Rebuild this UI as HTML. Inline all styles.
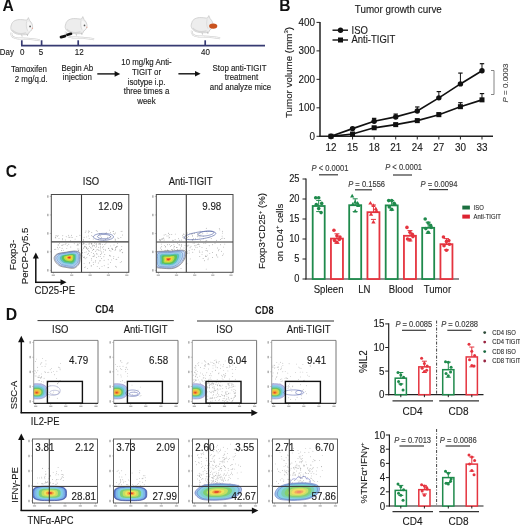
<!DOCTYPE html>
<html><head><meta charset="utf-8"><style>
html,body{margin:0;padding:0;background:#fff;}
svg{display:block;will-change:transform;}
text{font-family:"Liberation Sans", sans-serif;stroke:currentColor;}
</style></head><body>
<svg width="520" height="525" viewBox="0 0 520 525">
<rect width="520" height="525" fill="#fff"/>
<text x="0" y="0" font-size="15.6" text-anchor="start" fill="#111" color="#111" stroke-width="0" font-weight="bold" transform="translate(2.6 10.8) scale(1 1.0)">A</text>
<line x1="21.0" y1="45.6" x2="265" y2="45.6" stroke="#363a72" stroke-width="1.9" />
<line x1="21.8" y1="40.3" x2="21.8" y2="45.6" stroke="#363a72" stroke-width="1.7" />
<line x1="41.6" y1="40.3" x2="41.6" y2="45.6" stroke="#363a72" stroke-width="1.7" />
<line x1="78.2" y1="40.3" x2="78.2" y2="45.6" stroke="#363a72" stroke-width="1.7" />
<line x1="205.2" y1="40.3" x2="205.2" y2="45.6" stroke="#363a72" stroke-width="1.7" />
<text x="0" y="0" font-size="7.9" text-anchor="start" fill="#1a1a1a" color="#1a1a1a" stroke-width="0.12" transform="translate(-0.2 54.8) scale(1 1.12)">Day</text>
<text x="0" y="0" font-size="8.0" text-anchor="middle" fill="#1a1a1a" color="#1a1a1a" stroke-width="0.12" transform="translate(22.2 54.8) scale(1 1.12)">0</text>
<text x="0" y="0" font-size="8.0" text-anchor="middle" fill="#1a1a1a" color="#1a1a1a" stroke-width="0.12" transform="translate(41.0 54.8) scale(1 1.12)">5</text>
<text x="0" y="0" font-size="8.0" text-anchor="middle" fill="#1a1a1a" color="#1a1a1a" stroke-width="0.12" transform="translate(79.2 54.8) scale(1 1.12)">12</text>
<text x="0" y="0" font-size="8.0" text-anchor="middle" fill="#1a1a1a" color="#1a1a1a" stroke-width="0.12" transform="translate(205.4 54.8) scale(1 1.12)">40</text>
<g transform="translate(10.2 17.8) scale(1.0)">
<path d="M1.2 15 C 0.5 18.5, 3 20.3, 8 20.6 C 16 21, 24 21.2, 29.5 22.4" fill="none" stroke="#cdcdcd" stroke-width="2.0" />
<path d="M1.2 15 C 0.5 18.5, 3 20.3, 8 20.6 C 16 21, 24 21.2, 29.5 22.4" fill="none" stroke="#f9f9f9" stroke-width="0.9" />
<path d="M1.2 7 C 2 3.2, 6 1.6, 10.5 1.8 C 13.5 1.9, 15.5 2.4, 17 2.2 L 18.2 -0.2 L 19.6 3.0 C 21.4 4.6, 22.6 7.2, 22.4 9.4 C 22.2 11.5, 20.8 13.4, 19.2 14.2 L 18 16.6 C 14.5 17.2, 10 17.0, 7 16.3 C 3 15.3, 0.4 12.6, 0.6 9.8 C 0.7 8.6, 0.9 7.8, 1.2 7 Z" fill="#ededed" stroke="#c6c6c6" stroke-width="0.7" />
<path d="M2 12 C 5 15.5, 11 16.2, 16 15" fill="none" stroke="#d6d6d6" stroke-width="1.2" />
<path d="M16.5 3.5 C 15.8 6.5, 15.8 10, 17.5 13" fill="none" stroke="#d0d0d0" stroke-width="0.6" />
<path d="M17.2 3.6 C 19.6 4.2, 21.8 6.5, 22.1 9.2 C 21.6 11.6, 20 13, 18.2 13.2 C 17 10, 16.8 6.5, 17.2 3.6 Z" fill="#f7f7f7" stroke="none" stroke-width="0" />
<circle cx="19.9" cy="8.6" r="0.85" fill="#555" />
<circle cx="22.2" cy="10.4" r="0.7" fill="#e3aa9c" />
<path d="M16.8 15.8 l0.6 2.4 M11.5 16.8 l0.4 2.0" fill="none" stroke="#bdbdbd" stroke-width="0.8" />
</g>
<g transform="translate(64.6 16.8) scale(1.0)">
<path d="M1.2 15 C 0.5 18.5, 3 20.3, 8 20.6 C 16 21, 24 21.2, 29.5 22.4" fill="none" stroke="#cdcdcd" stroke-width="2.0" />
<path d="M1.2 15 C 0.5 18.5, 3 20.3, 8 20.6 C 16 21, 24 21.2, 29.5 22.4" fill="none" stroke="#f9f9f9" stroke-width="0.9" />
<path d="M1.2 7 C 2 3.2, 6 1.6, 10.5 1.8 C 13.5 1.9, 15.5 2.4, 17 2.2 L 18.2 -0.2 L 19.6 3.0 C 21.4 4.6, 22.6 7.2, 22.4 9.4 C 22.2 11.5, 20.8 13.4, 19.2 14.2 L 18 16.6 C 14.5 17.2, 10 17.0, 7 16.3 C 3 15.3, 0.4 12.6, 0.6 9.8 C 0.7 8.6, 0.9 7.8, 1.2 7 Z" fill="#ededed" stroke="#c6c6c6" stroke-width="0.7" />
<path d="M2 12 C 5 15.5, 11 16.2, 16 15" fill="none" stroke="#d6d6d6" stroke-width="1.2" />
<path d="M16.5 3.5 C 15.8 6.5, 15.8 10, 17.5 13" fill="none" stroke="#d0d0d0" stroke-width="0.6" />
<path d="M17.2 3.6 C 19.6 4.2, 21.8 6.5, 22.1 9.2 C 21.6 11.6, 20 13, 18.2 13.2 C 17 10, 16.8 6.5, 17.2 3.6 Z" fill="#f7f7f7" stroke="none" stroke-width="0" />
<circle cx="19.9" cy="8.6" r="0.85" fill="#555" />
<circle cx="22.2" cy="10.4" r="0.7" fill="#e3aa9c" />
<path d="M16.8 15.8 l0.6 2.4 M11.5 16.8 l0.4 2.0" fill="none" stroke="#bdbdbd" stroke-width="0.8" />
</g>
<g transform="translate(190.6 15.8) scale(1.0)">
<path d="M1.2 15 C 0.5 18.5, 3 20.3, 8 20.6 C 16 21, 24 21.2, 29.5 22.4" fill="none" stroke="#cdcdcd" stroke-width="2.0" />
<path d="M1.2 15 C 0.5 18.5, 3 20.3, 8 20.6 C 16 21, 24 21.2, 29.5 22.4" fill="none" stroke="#f9f9f9" stroke-width="0.9" />
<path d="M1.2 7 C 2 3.2, 6 1.6, 10.5 1.8 C 13.5 1.9, 15.5 2.4, 17 2.2 L 18.2 -0.2 L 19.6 3.0 C 21.4 4.6, 22.6 7.2, 22.4 9.4 C 22.2 11.5, 20.8 13.4, 19.2 14.2 L 18 16.6 C 14.5 17.2, 10 17.0, 7 16.3 C 3 15.3, 0.4 12.6, 0.6 9.8 C 0.7 8.6, 0.9 7.8, 1.2 7 Z" fill="#ededed" stroke="#c6c6c6" stroke-width="0.7" />
<path d="M2 12 C 5 15.5, 11 16.2, 16 15" fill="none" stroke="#d6d6d6" stroke-width="1.2" />
<path d="M16.5 3.5 C 15.8 6.5, 15.8 10, 17.5 13" fill="none" stroke="#d0d0d0" stroke-width="0.6" />
<path d="M16.8 15.8 l0.6 2.4 M11.5 16.8 l0.4 2.0" fill="none" stroke="#bdbdbd" stroke-width="0.8" />
<ellipse cx="22.6" cy="10.3" rx="4.1" ry="2.7" fill="#c9521e"/>
</g>
<g fill="#111"><rect x="59.6" y="35.1" width="6.8" height="3" rx="1.4" transform="rotate(-14 63 36.6)"/><rect x="66" y="32.9" width="6.4" height="2.7" rx="1.3" transform="rotate(-14 69.2 34.25)"/></g>
<text x="0" y="0" font-size="7.9" text-anchor="middle" fill="#1a1a1a" color="#1a1a1a" stroke-width="0.12" transform="translate(29 71.9) scale(1 1.12)">Tamoxifen</text>
<text x="0" y="0" font-size="7.9" text-anchor="middle" fill="#1a1a1a" color="#1a1a1a" stroke-width="0.12" transform="translate(31.2 81.5) scale(1 1.12)">2 mg/q.d.</text>
<text x="0" y="0" font-size="7.9" text-anchor="middle" fill="#1a1a1a" color="#1a1a1a" stroke-width="0.12" transform="translate(77.3 70.6) scale(1 1.12)">Begin Ab</text>
<text x="0" y="0" font-size="7.9" text-anchor="middle" fill="#1a1a1a" color="#1a1a1a" stroke-width="0.12" transform="translate(77.3 80.0) scale(1 1.12)">injection</text>
<line x1="97.3" y1="73.9" x2="115.10000000000001" y2="73.9" stroke="#111" stroke-width="1.4" />
<path d="M120.2 73.9 L 114.60000000000001 71.10000000000001 L 114.60000000000001 76.7 Z" fill="#111" stroke="none" stroke-width="0" />
<line x1="178.4" y1="73.8" x2="195.5" y2="73.8" stroke="#111" stroke-width="1.4" />
<path d="M200.6 73.8 L 195.0 71.0 L 195.0 76.6 Z" fill="#111" stroke="none" stroke-width="0" />
<text x="0" y="0" font-size="7.9" text-anchor="middle" fill="#1a1a1a" color="#1a1a1a" stroke-width="0.12" transform="translate(146.5 64.9) scale(1 1.12)">10 mg/kg Anti-</text>
<text x="0" y="0" font-size="7.9" text-anchor="middle" fill="#1a1a1a" color="#1a1a1a" stroke-width="0.12" transform="translate(146.5 74.7) scale(1 1.12)">TIGIT or</text>
<text x="0" y="0" font-size="7.9" text-anchor="middle" fill="#1a1a1a" color="#1a1a1a" stroke-width="0.12" transform="translate(146.5 84.5) scale(1 1.12)">isotype i.p.</text>
<text x="0" y="0" font-size="7.9" text-anchor="middle" fill="#1a1a1a" color="#1a1a1a" stroke-width="0.12" transform="translate(146.5 94.3) scale(1 1.12)">three times a</text>
<text x="0" y="0" font-size="7.9" text-anchor="middle" fill="#1a1a1a" color="#1a1a1a" stroke-width="0.12" transform="translate(146.5 103.7) scale(1 1.12)">week</text>
<text x="0" y="0" font-size="7.9" text-anchor="middle" fill="#1a1a1a" color="#1a1a1a" stroke-width="0.12" transform="translate(239.5 70.9) scale(1 1.12)">Stop anti-TIGIT</text>
<text x="0" y="0" font-size="7.9" text-anchor="middle" fill="#1a1a1a" color="#1a1a1a" stroke-width="0.12" transform="translate(241.5 80.4) scale(1 1.12)">treatment</text>
<text x="0" y="0" font-size="7.9" text-anchor="middle" fill="#1a1a1a" color="#1a1a1a" stroke-width="0.12" transform="translate(240.5 89.7) scale(1 1.12)">and analyze mice</text>
<text x="0" y="0" font-size="15.6" text-anchor="start" fill="#111" color="#111" stroke-width="0" font-weight="bold" transform="translate(279.3 10.8) scale(1 1.0)">B</text>
<text x="0" y="0" font-size="9.85" text-anchor="middle" fill="#1a1a1a" color="#1a1a1a" stroke-width="0.12" transform="translate(398.3 12.7) scale(1 1.12)">Tumor growth curve</text>
<line x1="320" y1="22" x2="320" y2="137" stroke="#222" stroke-width="1.5" />
<line x1="319.3" y1="136.3" x2="493" y2="136.3" stroke="#222" stroke-width="1.6" />
<line x1="316.5" y1="136.3" x2="320" y2="136.3" stroke="#222" stroke-width="1" />
<text x="0" y="0" font-size="9.9" text-anchor="end" fill="#1a1a1a" color="#1a1a1a" stroke-width="0.12" transform="translate(315 139.8) scale(1 1.12)">0</text>
<line x1="316.5" y1="107.82500000000002" x2="320" y2="107.82500000000002" stroke="#222" stroke-width="1" />
<text x="0" y="0" font-size="9.9" text-anchor="end" fill="#1a1a1a" color="#1a1a1a" stroke-width="0.12" transform="translate(315 111.32500000000002) scale(1 1.12)">100</text>
<line x1="316.5" y1="79.35000000000001" x2="320" y2="79.35000000000001" stroke="#222" stroke-width="1" />
<text x="0" y="0" font-size="9.9" text-anchor="end" fill="#1a1a1a" color="#1a1a1a" stroke-width="0.12" transform="translate(315 82.85000000000001) scale(1 1.12)">200</text>
<line x1="316.5" y1="50.875000000000014" x2="320" y2="50.875000000000014" stroke="#222" stroke-width="1" />
<text x="0" y="0" font-size="9.9" text-anchor="end" fill="#1a1a1a" color="#1a1a1a" stroke-width="0.12" transform="translate(315 54.375000000000014) scale(1 1.12)">300</text>
<line x1="316.5" y1="22.400000000000006" x2="320" y2="22.400000000000006" stroke="#222" stroke-width="1" />
<text x="0" y="0" font-size="9.9" text-anchor="end" fill="#1a1a1a" color="#1a1a1a" stroke-width="0.12" transform="translate(315 25.900000000000006) scale(1 1.12)">400</text>
<line x1="331.0" y1="136.3" x2="331.0" y2="139.5" stroke="#222" stroke-width="1" />
<text x="0" y="0" font-size="9.9" text-anchor="middle" fill="#1a1a1a" color="#1a1a1a" stroke-width="0.12" transform="translate(331.0 151.4) scale(1 1.12)">12</text>
<line x1="352.57" y1="136.3" x2="352.57" y2="139.5" stroke="#222" stroke-width="1" />
<text x="0" y="0" font-size="9.9" text-anchor="middle" fill="#1a1a1a" color="#1a1a1a" stroke-width="0.12" transform="translate(352.57 151.4) scale(1 1.12)">15</text>
<line x1="374.14" y1="136.3" x2="374.14" y2="139.5" stroke="#222" stroke-width="1" />
<text x="0" y="0" font-size="9.9" text-anchor="middle" fill="#1a1a1a" color="#1a1a1a" stroke-width="0.12" transform="translate(374.14 151.4) scale(1 1.12)">18</text>
<line x1="395.71000000000004" y1="136.3" x2="395.71000000000004" y2="139.5" stroke="#222" stroke-width="1" />
<text x="0" y="0" font-size="9.9" text-anchor="middle" fill="#1a1a1a" color="#1a1a1a" stroke-width="0.12" transform="translate(395.71000000000004 151.4) scale(1 1.12)">21</text>
<line x1="417.28" y1="136.3" x2="417.28" y2="139.5" stroke="#222" stroke-width="1" />
<text x="0" y="0" font-size="9.9" text-anchor="middle" fill="#1a1a1a" color="#1a1a1a" stroke-width="0.12" transform="translate(417.28 151.4) scale(1 1.12)">24</text>
<line x1="438.85" y1="136.3" x2="438.85" y2="139.5" stroke="#222" stroke-width="1" />
<text x="0" y="0" font-size="9.9" text-anchor="middle" fill="#1a1a1a" color="#1a1a1a" stroke-width="0.12" transform="translate(438.85 151.4) scale(1 1.12)">27</text>
<line x1="460.42" y1="136.3" x2="460.42" y2="139.5" stroke="#222" stroke-width="1" />
<text x="0" y="0" font-size="9.9" text-anchor="middle" fill="#1a1a1a" color="#1a1a1a" stroke-width="0.12" transform="translate(460.42 151.4) scale(1 1.12)">30</text>
<line x1="481.99" y1="136.3" x2="481.99" y2="139.5" stroke="#222" stroke-width="1" />
<text x="0" y="0" font-size="9.9" text-anchor="middle" fill="#1a1a1a" color="#1a1a1a" stroke-width="0.12" transform="translate(481.99 151.4) scale(1 1.12)">33</text>
<text x="291.8" y="72.5" font-size="9.8" text-anchor="middle" fill="#1a1a1a" color="#1a1a1a" stroke-width="0.12" transform="rotate(-90 291.8 72.5)">Tumor volume (mm<tspan font-size="6" dy="-3.5">3</tspan><tspan dy="3.5">)</tspan></text>
<polyline points="331.0,136.3 352.6,134.0 374.1,127.8 395.7,124.6 417.3,120.6 438.9,114.7 460.4,106.7 482.0,99.9" fill="none" stroke="#111" stroke-width="1.7"/>
<rect x="328.5" y="133.8" width="5" height="5" stroke="none" stroke-width="0" fill="#111" />
<line x1="352.57" y1="134.02200000000002" x2="352.57" y2="133.16775" stroke="#111" stroke-width="1" />
<line x1="350.37" y1="133.16775" x2="354.77" y2="133.16775" stroke="#111" stroke-width="1.2" />
<rect x="350.07" y="131.52200000000002" width="5" height="5" stroke="none" stroke-width="0" fill="#111" />
<line x1="374.14" y1="127.75750000000001" x2="374.14" y2="126.61850000000001" stroke="#111" stroke-width="1" />
<line x1="371.94" y1="126.61850000000001" x2="376.34" y2="126.61850000000001" stroke="#111" stroke-width="1.2" />
<rect x="371.64" y="125.25750000000001" width="5" height="5" stroke="none" stroke-width="0" fill="#111" />
<line x1="395.71000000000004" y1="124.62525000000001" x2="395.71000000000004" y2="123.48625000000001" stroke="#111" stroke-width="1" />
<line x1="393.51000000000005" y1="123.48625000000001" x2="397.91" y2="123.48625000000001" stroke="#111" stroke-width="1.2" />
<rect x="393.21000000000004" y="122.12525000000001" width="5" height="5" stroke="none" stroke-width="0" fill="#111" />
<line x1="417.28" y1="120.63875000000002" x2="417.28" y2="119.215" stroke="#111" stroke-width="1" />
<line x1="415.08" y1="119.215" x2="419.47999999999996" y2="119.215" stroke="#111" stroke-width="1.2" />
<rect x="414.78" y="118.13875000000002" width="5" height="5" stroke="none" stroke-width="0" fill="#111" />
<line x1="438.85" y1="114.659" x2="438.85" y2="112.9505" stroke="#111" stroke-width="1" />
<line x1="436.65000000000003" y1="112.9505" x2="441.05" y2="112.9505" stroke="#111" stroke-width="1.2" />
<rect x="436.35" y="112.159" width="5" height="5" stroke="none" stroke-width="0" fill="#111" />
<line x1="460.42" y1="106.686" x2="460.42" y2="102.6995" stroke="#111" stroke-width="1" />
<line x1="458.22" y1="102.6995" x2="462.62" y2="102.6995" stroke="#111" stroke-width="1.2" />
<rect x="457.92" y="104.186" width="5" height="5" stroke="none" stroke-width="0" fill="#111" />
<line x1="481.99" y1="99.852" x2="481.99" y2="93.5875" stroke="#111" stroke-width="1" />
<line x1="479.79" y1="93.5875" x2="484.19" y2="93.5875" stroke="#111" stroke-width="1.2" />
<rect x="479.49" y="97.352" width="5" height="5" stroke="none" stroke-width="0" fill="#111" />
<polyline points="331.0,136.3 352.6,128.6 374.1,121.2 395.7,116.9 417.3,111.0 438.9,97.9 460.4,83.9 482.0,70.8" fill="none" stroke="#111" stroke-width="1.7"/>
<circle cx="331.0" cy="136.3" r="2.7" fill="#111" />
<line x1="352.57" y1="128.61175" x2="352.57" y2="127.47275000000002" stroke="#111" stroke-width="1" />
<line x1="350.37" y1="127.47275000000002" x2="354.77" y2="127.47275000000002" stroke="#111" stroke-width="1.2" />
<circle cx="352.57" cy="128.61175" r="2.7" fill="#111" />
<line x1="374.14" y1="121.20825" x2="374.14" y2="118.36075000000001" stroke="#111" stroke-width="1" />
<line x1="371.94" y1="118.36075000000001" x2="376.34" y2="118.36075000000001" stroke="#111" stroke-width="1.2" />
<circle cx="374.14" cy="121.20825" r="2.7" fill="#111" />
<line x1="395.71000000000004" y1="116.93700000000001" x2="395.71000000000004" y2="114.08950000000002" stroke="#111" stroke-width="1" />
<line x1="393.51000000000005" y1="114.08950000000002" x2="397.91" y2="114.08950000000002" stroke="#111" stroke-width="1.2" />
<circle cx="395.71000000000004" cy="116.93700000000001" r="2.7" fill="#111" />
<line x1="417.28" y1="110.95725000000002" x2="417.28" y2="106.97075000000001" stroke="#111" stroke-width="1" />
<line x1="415.08" y1="106.97075000000001" x2="419.47999999999996" y2="106.97075000000001" stroke="#111" stroke-width="1.2" />
<circle cx="417.28" cy="110.95725000000002" r="2.7" fill="#111" />
<line x1="438.85" y1="97.85875000000001" x2="438.85" y2="91.59425000000002" stroke="#111" stroke-width="1" />
<line x1="436.65000000000003" y1="91.59425000000002" x2="441.05" y2="91.59425000000002" stroke="#111" stroke-width="1.2" />
<circle cx="438.85" cy="97.85875000000001" r="2.7" fill="#111" />
<line x1="460.42" y1="83.906" x2="460.42" y2="73.08550000000001" stroke="#111" stroke-width="1" />
<line x1="458.22" y1="73.08550000000001" x2="462.62" y2="73.08550000000001" stroke="#111" stroke-width="1.2" />
<circle cx="460.42" cy="83.906" r="2.7" fill="#111" />
<line x1="481.99" y1="70.8075" x2="481.99" y2="63.68875000000001" stroke="#111" stroke-width="1" />
<line x1="479.79" y1="63.68875000000001" x2="484.19" y2="63.68875000000001" stroke="#111" stroke-width="1.2" />
<circle cx="481.99" cy="70.8075" r="2.7" fill="#111" />
<line x1="332.5" y1="30.2" x2="348" y2="30.2" stroke="#111" stroke-width="1.4" />
<circle cx="340.5" cy="30.2" r="2.7" fill="#111" />
<text x="0" y="0" font-size="9.5" text-anchor="start" fill="#1a1a1a" color="#1a1a1a" stroke-width="0.12" transform="translate(351.5 33.6) scale(1 1.12)">ISO</text>
<line x1="332.5" y1="40" x2="348" y2="40" stroke="#111" stroke-width="1.4" />
<rect x="338" y="37.5" width="5" height="5" stroke="none" stroke-width="0" fill="#111" />
<text x="0" y="0" font-size="9.5" text-anchor="start" fill="#1a1a1a" color="#1a1a1a" stroke-width="0.12" transform="translate(351.5 43.4) scale(1 1.12)">Anti-TIGIT</text>
<path d="M491 70.5 L 494 70.5 L 494 94.5 L 491 94.5" fill="none" stroke="#777" stroke-width="0.9" />
<text x="508.2" y="83" font-size="8.0" text-anchor="middle" fill="#444" color="#444" stroke-width="0.12" transform="rotate(-90 508.2 83)"><tspan font-style="italic">P</tspan> = 0.0003</text>
<defs><clipPath id="cclip2"><rect x="156.3" y="194.5" width="76.7" height="77.8"/></clipPath></defs>
<text x="0" y="0" font-size="15.6" text-anchor="start" fill="#111" color="#111" stroke-width="0" font-weight="bold" transform="translate(5.7 176.5) scale(1 1.0)">C</text>
<text x="0" y="0" font-size="9.5" text-anchor="middle" fill="#1a1a1a" color="#1a1a1a" stroke-width="0.12" transform="translate(91 185.2) scale(1 1.12)">ISO</text>
<text x="0" y="0" font-size="9.5" text-anchor="middle" fill="#1a1a1a" color="#1a1a1a" stroke-width="0.12" transform="translate(190.6 185.2) scale(1 1.12)">Anti-TIGIT</text>
<g fill="#b4b4b4"><rect x="47.0" y="269.1" width="1.6" height="2.4"/><rect x="49.8" y="269.9" width="1.5" height="0.7"/><rect x="47.0" y="250.7" width="1.6" height="2.4"/><rect x="49.8" y="251.5" width="1.5" height="0.7"/><rect x="47.0" y="232.2" width="1.6" height="2.4"/><rect x="49.8" y="233.1" width="1.5" height="0.7"/><rect x="47.0" y="213.8" width="1.6" height="2.4"/><rect x="49.8" y="214.6" width="1.5" height="0.7"/><rect x="47.0" y="195.3" width="1.6" height="2.4"/><rect x="49.8" y="196.2" width="1.5" height="0.7"/><rect x="51.7" y="274.5" width="3.2" height="1.4"/><rect x="52.9" y="272.3" width="0.7" height="1.5"/><rect x="70.1" y="274.5" width="3.2" height="1.4"/><rect x="71.3" y="272.3" width="0.7" height="1.5"/><rect x="88.5" y="274.5" width="3.2" height="1.4"/><rect x="89.7" y="272.3" width="0.7" height="1.5"/><rect x="106.8" y="274.5" width="3.2" height="1.4"/><rect x="108.1" y="272.3" width="0.7" height="1.5"/><rect x="125.2" y="274.5" width="3.2" height="1.4"/><rect x="126.5" y="272.3" width="0.7" height="1.5"/></g>
<g fill="#8c8c8c"><circle cx="62.8" cy="235.8" r="0.45"/><circle cx="71.4" cy="235.3" r="0.45"/><circle cx="68.3" cy="237.1" r="0.45"/><circle cx="55.8" cy="237.9" r="0.45"/><circle cx="55.3" cy="237.5" r="0.45"/><circle cx="56.1" cy="235.4" r="0.45"/><circle cx="65.4" cy="239.9" r="0.45"/><circle cx="57.5" cy="236.2" r="0.45"/><circle cx="70.7" cy="240.6" r="0.45"/><circle cx="69.4" cy="237.3" r="0.45"/><circle cx="79.9" cy="235.2" r="0.45"/><circle cx="76.8" cy="236.6" r="0.45"/><circle cx="58.1" cy="235.6" r="0.45"/><circle cx="62.4" cy="239.8" r="0.45"/><circle cx="59.0" cy="238.4" r="0.45"/><circle cx="71.0" cy="237.1" r="0.45"/><circle cx="68.7" cy="235.3" r="0.45"/><circle cx="55.9" cy="236.1" r="0.45"/><circle cx="72.1" cy="237.5" r="0.45"/><circle cx="62.5" cy="238.4" r="0.45"/><circle cx="66.2" cy="236.7" r="0.45"/><circle cx="75.1" cy="239.1" r="0.45"/></g>
<g fill="#8c8c8c"><circle cx="92.3" cy="236.2" r="0.45"/><circle cx="117.8" cy="237.9" r="0.45"/><circle cx="122.0" cy="231.2" r="0.45"/><circle cx="113.0" cy="231.6" r="0.45"/><circle cx="84.1" cy="237.3" r="0.45"/><circle cx="105.6" cy="239.5" r="0.45"/><circle cx="110.5" cy="236.4" r="0.45"/><circle cx="100.9" cy="239.1" r="0.45"/><circle cx="101.6" cy="237.2" r="0.45"/><circle cx="110.8" cy="237.0" r="0.45"/><circle cx="115.6" cy="233.0" r="0.45"/><circle cx="109.4" cy="230.1" r="0.45"/><circle cx="89.3" cy="231.2" r="0.45"/><circle cx="113.5" cy="231.3" r="0.45"/><circle cx="98.3" cy="239.5" r="0.45"/><circle cx="100.6" cy="235.9" r="0.45"/><circle cx="115.5" cy="239.4" r="0.45"/><circle cx="99.2" cy="233.8" r="0.45"/><circle cx="121.1" cy="231.6" r="0.45"/><circle cx="91.8" cy="232.5" r="0.45"/><circle cx="106.2" cy="232.8" r="0.45"/><circle cx="99.4" cy="234.0" r="0.45"/><circle cx="120.9" cy="237.5" r="0.45"/><circle cx="107.4" cy="237.3" r="0.45"/><circle cx="118.8" cy="238.5" r="0.45"/><circle cx="114.7" cy="234.2" r="0.45"/><circle cx="86.7" cy="236.9" r="0.45"/><circle cx="85.2" cy="232.2" r="0.45"/><circle cx="96.2" cy="230.5" r="0.45"/><circle cx="88.6" cy="231.0" r="0.45"/><circle cx="83.5" cy="239.5" r="0.45"/><circle cx="88.5" cy="232.7" r="0.45"/><circle cx="97.2" cy="231.3" r="0.45"/><circle cx="122.5" cy="235.0" r="0.45"/><circle cx="86.0" cy="231.0" r="0.45"/><circle cx="93.2" cy="239.0" r="0.45"/><circle cx="83.4" cy="240.4" r="0.45"/><circle cx="88.4" cy="235.9" r="0.45"/><circle cx="103.8" cy="240.7" r="0.45"/><circle cx="110.6" cy="232.8" r="0.45"/><circle cx="89.2" cy="238.4" r="0.45"/><circle cx="113.9" cy="233.5" r="0.45"/><circle cx="115.2" cy="240.7" r="0.45"/><circle cx="115.0" cy="238.9" r="0.45"/><circle cx="91.6" cy="235.6" r="0.45"/></g>
<g fill="#8c8c8c"><circle cx="83.7" cy="243.6" r="0.45"/><circle cx="91.6" cy="248.1" r="0.45"/><circle cx="89.4" cy="246.3" r="0.45"/><circle cx="96.6" cy="257.4" r="0.45"/><circle cx="92.6" cy="250.6" r="0.45"/><circle cx="103.9" cy="256.7" r="0.45"/><circle cx="100.2" cy="247.7" r="0.45"/><circle cx="86.8" cy="257.7" r="0.45"/><circle cx="116.4" cy="246.5" r="0.45"/><circle cx="100.3" cy="244.8" r="0.45"/><circle cx="103.3" cy="251.9" r="0.45"/><circle cx="95.3" cy="262.0" r="0.45"/><circle cx="104.8" cy="254.5" r="0.45"/><circle cx="115.5" cy="249.7" r="0.45"/><circle cx="86.1" cy="244.4" r="0.45"/><circle cx="108.1" cy="264.1" r="0.45"/><circle cx="119.8" cy="250.0" r="0.45"/><circle cx="103.7" cy="249.2" r="0.45"/><circle cx="89.0" cy="244.2" r="0.45"/><circle cx="94.2" cy="256.1" r="0.45"/><circle cx="96.5" cy="243.4" r="0.45"/><circle cx="84.7" cy="246.3" r="0.45"/><circle cx="112.4" cy="249.6" r="0.45"/><circle cx="109.5" cy="250.3" r="0.45"/><circle cx="94.3" cy="255.0" r="0.45"/><circle cx="82.5" cy="253.0" r="0.45"/><circle cx="82.7" cy="249.9" r="0.45"/><circle cx="98.6" cy="244.0" r="0.45"/><circle cx="111.7" cy="259.9" r="0.45"/><circle cx="91.8" cy="243.7" r="0.45"/><circle cx="109.9" cy="255.8" r="0.45"/><circle cx="104.1" cy="260.3" r="0.45"/><circle cx="112.2" cy="249.6" r="0.45"/><circle cx="93.2" cy="262.2" r="0.45"/><circle cx="85.6" cy="246.8" r="0.45"/><circle cx="83.0" cy="244.5" r="0.45"/><circle cx="83.5" cy="243.0" r="0.45"/><circle cx="100.7" cy="250.9" r="0.45"/><circle cx="97.0" cy="254.2" r="0.45"/><circle cx="93.2" cy="256.4" r="0.45"/><circle cx="84.5" cy="267.4" r="0.45"/><circle cx="101.5" cy="252.0" r="0.45"/><circle cx="98.4" cy="247.3" r="0.45"/><circle cx="100.6" cy="246.6" r="0.45"/><circle cx="86.2" cy="251.9" r="0.45"/><circle cx="96.1" cy="244.5" r="0.45"/><circle cx="93.4" cy="249.5" r="0.45"/><circle cx="117.7" cy="243.5" r="0.45"/><circle cx="106.2" cy="242.9" r="0.45"/><circle cx="121.7" cy="249.5" r="0.45"/><circle cx="84.1" cy="263.6" r="0.45"/><circle cx="87.7" cy="249.5" r="0.45"/><circle cx="110.7" cy="245.9" r="0.45"/><circle cx="91.5" cy="258.8" r="0.45"/><circle cx="110.9" cy="251.0" r="0.45"/><circle cx="91.6" cy="243.8" r="0.45"/><circle cx="99.4" cy="260.9" r="0.45"/><circle cx="115.5" cy="249.0" r="0.45"/><circle cx="102.5" cy="247.8" r="0.45"/><circle cx="88.4" cy="253.3" r="0.45"/><circle cx="121.8" cy="246.6" r="0.45"/><circle cx="120.0" cy="251.6" r="0.45"/><circle cx="120.2" cy="262.6" r="0.45"/><circle cx="95.9" cy="247.4" r="0.45"/><circle cx="99.9" cy="244.2" r="0.45"/><circle cx="97.2" cy="266.6" r="0.45"/><circle cx="84.1" cy="243.8" r="0.45"/><circle cx="108.0" cy="267.8" r="0.45"/><circle cx="95.7" cy="251.3" r="0.45"/><circle cx="114.0" cy="245.0" r="0.45"/><circle cx="112.8" cy="249.4" r="0.45"/><circle cx="83.9" cy="257.5" r="0.45"/><circle cx="93.2" cy="245.1" r="0.45"/><circle cx="112.2" cy="248.2" r="0.45"/><circle cx="116.4" cy="267.0" r="0.45"/><circle cx="94.3" cy="246.0" r="0.45"/><circle cx="91.3" cy="252.6" r="0.45"/><circle cx="108.8" cy="248.3" r="0.45"/><circle cx="95.7" cy="260.8" r="0.45"/><circle cx="104.6" cy="244.6" r="0.45"/><circle cx="86.2" cy="247.2" r="0.45"/><circle cx="99.0" cy="250.4" r="0.45"/><circle cx="111.8" cy="248.3" r="0.45"/><circle cx="89.1" cy="243.3" r="0.45"/><circle cx="88.4" cy="250.4" r="0.45"/><circle cx="115.9" cy="247.7" r="0.45"/><circle cx="100.5" cy="254.5" r="0.45"/><circle cx="89.7" cy="255.4" r="0.45"/><circle cx="87.7" cy="254.3" r="0.45"/><circle cx="100.3" cy="256.4" r="0.45"/><circle cx="113.8" cy="256.4" r="0.45"/><circle cx="93.6" cy="264.4" r="0.45"/><circle cx="93.1" cy="256.3" r="0.45"/><circle cx="84.0" cy="247.7" r="0.45"/><circle cx="89.3" cy="263.6" r="0.45"/><circle cx="89.6" cy="262.5" r="0.45"/><circle cx="95.1" cy="242.9" r="0.45"/><circle cx="91.7" cy="260.1" r="0.45"/><circle cx="82.6" cy="252.3" r="0.45"/><circle cx="92.3" cy="246.8" r="0.45"/><circle cx="98.7" cy="249.9" r="0.45"/><circle cx="84.3" cy="256.9" r="0.45"/><circle cx="88.2" cy="248.2" r="0.45"/><circle cx="89.5" cy="251.1" r="0.45"/><circle cx="100.7" cy="248.9" r="0.45"/><circle cx="91.9" cy="243.9" r="0.45"/><circle cx="91.2" cy="266.1" r="0.45"/><circle cx="85.6" cy="266.9" r="0.45"/><circle cx="96.4" cy="246.6" r="0.45"/><circle cx="110.6" cy="262.4" r="0.45"/><circle cx="86.8" cy="248.3" r="0.45"/><circle cx="94.1" cy="245.5" r="0.45"/><circle cx="99.6" cy="243.5" r="0.45"/><circle cx="116.8" cy="259.2" r="0.45"/><circle cx="91.2" cy="265.7" r="0.45"/><circle cx="115.5" cy="247.4" r="0.45"/><circle cx="82.7" cy="255.9" r="0.45"/><circle cx="120.5" cy="250.4" r="0.45"/><circle cx="110.7" cy="256.1" r="0.45"/><circle cx="96.8" cy="253.5" r="0.45"/><circle cx="83.5" cy="248.3" r="0.45"/><circle cx="113.7" cy="258.2" r="0.45"/><circle cx="116.5" cy="247.0" r="0.45"/><circle cx="89.0" cy="251.6" r="0.45"/><circle cx="86.8" cy="248.4" r="0.45"/><circle cx="84.0" cy="257.2" r="0.45"/><circle cx="98.3" cy="263.0" r="0.45"/><circle cx="122.2" cy="252.3" r="0.45"/><circle cx="93.6" cy="253.5" r="0.45"/><circle cx="96.7" cy="249.9" r="0.45"/><circle cx="97.7" cy="249.6" r="0.45"/><circle cx="90.0" cy="243.0" r="0.45"/><circle cx="93.8" cy="249.4" r="0.45"/><circle cx="116.0" cy="259.6" r="0.45"/><circle cx="92.6" cy="245.6" r="0.45"/><circle cx="93.2" cy="249.1" r="0.45"/><circle cx="102.4" cy="244.4" r="0.45"/><circle cx="104.2" cy="265.7" r="0.45"/><circle cx="99.4" cy="268.3" r="0.45"/><circle cx="108.2" cy="259.7" r="0.45"/><circle cx="102.0" cy="266.6" r="0.45"/><circle cx="98.8" cy="256.2" r="0.45"/><circle cx="118.2" cy="257.3" r="0.45"/><circle cx="94.6" cy="243.1" r="0.45"/><circle cx="86.6" cy="247.7" r="0.45"/><circle cx="105.2" cy="249.7" r="0.45"/><circle cx="108.4" cy="267.6" r="0.45"/><circle cx="105.4" cy="243.9" r="0.45"/><circle cx="100.5" cy="243.3" r="0.45"/><circle cx="101.7" cy="253.8" r="0.45"/><circle cx="108.5" cy="248.5" r="0.45"/><circle cx="83.1" cy="243.0" r="0.45"/><circle cx="87.4" cy="268.4" r="0.45"/><circle cx="117.5" cy="246.3" r="0.45"/><circle cx="121.4" cy="261.8" r="0.45"/><circle cx="84.9" cy="252.6" r="0.45"/><circle cx="100.2" cy="260.8" r="0.45"/><circle cx="105.3" cy="250.6" r="0.45"/><circle cx="115.0" cy="250.4" r="0.45"/><circle cx="115.4" cy="266.3" r="0.45"/><circle cx="96.5" cy="245.1" r="0.45"/><circle cx="109.8" cy="255.2" r="0.45"/><circle cx="101.7" cy="258.5" r="0.45"/><circle cx="103.3" cy="246.8" r="0.45"/><circle cx="122.7" cy="252.8" r="0.45"/><circle cx="121.3" cy="249.6" r="0.45"/><circle cx="90.6" cy="247.7" r="0.45"/><circle cx="85.1" cy="258.7" r="0.45"/><circle cx="91.4" cy="243.9" r="0.45"/><circle cx="84.7" cy="246.7" r="0.45"/></g>
<g fill="#8c8c8c"><circle cx="78.9" cy="249.0" r="0.45"/><circle cx="62.1" cy="248.2" r="0.45"/><circle cx="74.2" cy="243.8" r="0.45"/><circle cx="62.8" cy="245.2" r="0.45"/><circle cx="57.6" cy="247.2" r="0.45"/><circle cx="58.7" cy="245.0" r="0.45"/><circle cx="58.1" cy="249.0" r="0.45"/><circle cx="54.6" cy="249.4" r="0.45"/><circle cx="59.4" cy="243.2" r="0.45"/><circle cx="78.6" cy="244.9" r="0.45"/><circle cx="78.8" cy="250.7" r="0.45"/><circle cx="77.6" cy="244.2" r="0.45"/><circle cx="66.0" cy="243.8" r="0.45"/><circle cx="78.6" cy="250.5" r="0.45"/><circle cx="70.8" cy="247.0" r="0.45"/><circle cx="63.2" cy="250.3" r="0.45"/><circle cx="66.8" cy="248.6" r="0.45"/><circle cx="58.0" cy="244.9" r="0.45"/><circle cx="55.8" cy="249.3" r="0.45"/><circle cx="68.8" cy="244.2" r="0.45"/><circle cx="77.1" cy="245.3" r="0.45"/><circle cx="65.1" cy="244.3" r="0.45"/><circle cx="61.4" cy="250.5" r="0.45"/><circle cx="63.1" cy="244.4" r="0.45"/><circle cx="67.2" cy="245.8" r="0.45"/><circle cx="78.0" cy="243.9" r="0.45"/><circle cx="79.9" cy="243.4" r="0.45"/><circle cx="77.7" cy="248.9" r="0.45"/><circle cx="59.8" cy="247.2" r="0.45"/><circle cx="61.8" cy="245.2" r="0.45"/></g>
<path d="M54.20 257.50 C54.53 256.13 55.53 254.68 57.50 253.80 C59.47 252.92 63.25 252.67 66.00 252.20 C68.75 251.73 71.73 250.97 74.00 251.00 C76.27 251.03 78.57 251.23 79.60 252.40 C80.63 253.57 80.30 256.07 80.20 258.00 C80.10 259.93 80.03 262.30 79.00 264.00 C77.97 265.70 76.17 267.63 74.00 268.20 C71.83 268.77 68.33 267.77 66.00 267.40 C63.67 267.03 61.75 266.90 60.00 266.00 C58.25 265.10 56.47 263.42 55.50 262.00 C54.53 260.58 53.87 258.87 54.20 257.50 Z" fill="#f3f6fa" stroke="#666" stroke-width="0.6" />
<path d="M55.72 257.48 C56.02 256.25 56.92 254.95 58.69 254.15 C60.46 253.35 63.87 253.13 66.34 252.71 C68.81 252.29 71.50 251.60 73.54 251.63 C75.58 251.66 77.65 251.84 78.58 252.89 C79.51 253.94 79.21 256.19 79.12 257.93 C79.03 259.67 78.97 261.80 78.04 263.33 C77.11 264.86 75.49 266.60 73.54 267.11 C71.59 267.62 68.44 266.72 66.34 266.39 C64.24 266.06 62.52 265.94 60.94 265.13 C59.36 264.32 57.76 262.80 56.89 261.53 C56.02 260.25 55.42 258.71 55.72 257.48 Z" fill="#cde0f4" stroke="none" stroke-width="0" />
<path d="M57.85 257.45 C58.10 256.41 58.86 255.31 60.36 254.64 C61.85 253.97 64.73 253.78 66.82 253.42 C68.91 253.07 71.17 252.49 72.90 252.51 C74.62 252.54 76.37 252.69 77.15 253.58 C77.94 254.46 77.68 256.36 77.61 257.83 C77.53 259.30 77.48 261.10 76.70 262.39 C75.91 263.68 74.54 265.15 72.90 265.58 C71.25 266.01 68.59 265.25 66.82 264.98 C65.04 264.70 63.59 264.60 62.26 263.91 C60.93 263.23 59.57 261.95 58.84 260.87 C58.10 259.80 57.59 258.49 57.85 257.45 Z" fill="#98cbea" stroke="none" stroke-width="0" />
<path d="M59.98 257.42 C60.18 256.58 60.80 255.68 62.02 255.13 C63.24 254.58 65.59 254.43 67.29 254.14 C69.00 253.85 70.85 253.37 72.25 253.39 C73.66 253.41 75.08 253.54 75.72 254.26 C76.36 254.99 76.16 256.54 76.10 257.73 C76.03 258.93 75.99 260.40 75.35 261.45 C74.71 262.51 73.60 263.71 72.25 264.06 C70.91 264.41 68.74 263.79 67.29 263.56 C65.85 263.33 64.66 263.25 63.57 262.69 C62.49 262.14 61.38 261.09 60.78 260.21 C60.18 259.34 59.77 258.27 59.98 257.42 Z" fill="#5cc0c0" stroke="none" stroke-width="0" />
<path d="M61.80 257.40 C61.97 256.72 62.47 255.99 63.45 255.55 C64.43 255.11 66.33 254.98 67.70 254.75 C69.08 254.52 70.57 254.13 71.70 254.15 C72.83 254.17 73.98 254.27 74.50 254.85 C75.02 255.43 74.85 256.68 74.80 257.65 C74.75 258.62 74.72 259.80 74.20 260.65 C73.68 261.50 72.78 262.47 71.70 262.75 C70.62 263.03 68.87 262.53 67.70 262.35 C66.53 262.17 65.58 262.10 64.70 261.65 C63.83 261.20 62.93 260.36 62.45 259.65 C61.97 258.94 61.63 258.08 61.80 257.40 Z" fill="#5cc058" stroke="none" stroke-width="0" />
<path d="M63.93 257.37 C64.05 256.88 64.41 256.36 65.12 256.04 C65.82 255.72 67.19 255.63 68.18 255.46 C69.17 255.30 70.24 255.02 71.06 255.03 C71.87 255.04 72.70 255.12 73.07 255.54 C73.44 255.96 73.32 256.86 73.29 257.55 C73.25 258.25 73.23 259.10 72.86 259.71 C72.48 260.32 71.84 261.02 71.06 261.22 C70.28 261.43 69.02 261.07 68.18 260.94 C67.34 260.80 66.65 260.76 66.02 260.43 C65.39 260.11 64.74 259.50 64.40 258.99 C64.05 258.48 63.81 257.86 63.93 257.37 Z" fill="#b8dc48" stroke="none" stroke-width="0" />
<path d="M65.60 257.35 C65.68 257.01 65.93 256.65 66.43 256.43 C66.92 256.20 67.86 256.14 68.55 256.02 C69.24 255.91 69.98 255.72 70.55 255.73 C71.12 255.73 71.69 255.78 71.95 256.07 C72.21 256.37 72.12 256.99 72.10 257.48 C72.08 257.96 72.06 258.55 71.80 258.98 C71.54 259.40 71.09 259.88 70.55 260.02 C70.01 260.17 69.13 259.92 68.55 259.82 C67.97 259.73 67.49 259.70 67.05 259.48 C66.61 259.25 66.17 258.83 65.93 258.48 C65.68 258.12 65.52 257.69 65.60 257.35 Z" fill="#f2d838" stroke="none" stroke-width="0" />
<path d="M66.97 257.33 C67.02 257.11 67.18 256.88 67.50 256.74 C67.81 256.60 68.42 256.56 68.86 256.48 C69.30 256.41 69.77 256.29 70.14 256.29 C70.50 256.30 70.87 256.33 71.03 256.52 C71.20 256.70 71.14 257.10 71.13 257.41 C71.11 257.72 71.10 258.10 70.94 258.37 C70.77 258.64 70.48 258.95 70.14 259.04 C69.79 259.13 69.23 258.97 68.86 258.92 C68.48 258.86 68.18 258.84 67.90 258.69 C67.62 258.55 67.33 258.28 67.18 258.05 C67.02 257.83 66.91 257.55 66.97 257.33 Z" fill="#f09030" stroke="none" stroke-width="0" />
<path d="M68.03 257.32 C68.06 257.19 68.15 257.06 68.33 256.99 C68.51 256.91 68.85 256.88 69.09 256.84 C69.34 256.80 69.61 256.73 69.81 256.73 C70.02 256.74 70.22 256.75 70.32 256.86 C70.41 256.96 70.38 257.19 70.37 257.36 C70.36 257.54 70.36 257.75 70.26 257.90 C70.17 258.06 70.01 258.23 69.81 258.28 C69.62 258.33 69.30 258.24 69.09 258.21 C68.88 258.18 68.71 258.16 68.55 258.08 C68.40 258.00 68.24 257.85 68.15 257.72 C68.06 257.60 68.00 257.44 68.03 257.32 Z" fill="#e0351f" stroke="none" stroke-width="0" />
<path d="M55.26 257.49 C55.57 256.21 56.50 254.87 58.33 254.05 C60.16 253.22 63.68 252.99 66.24 252.56 C68.80 252.12 71.57 251.41 73.68 251.44 C75.79 251.47 77.92 251.66 78.89 252.74 C79.85 253.83 79.54 256.15 79.44 257.95 C79.35 259.75 79.29 261.95 78.33 263.53 C77.37 265.11 75.69 266.91 73.68 267.44 C71.66 267.96 68.41 267.03 66.24 266.69 C64.07 266.35 62.29 266.23 60.66 265.39 C59.03 264.55 57.37 262.99 56.47 261.67 C55.57 260.35 54.95 258.76 55.26 257.49 Z" fill="none" stroke="#3a5aa8" stroke-width="0.5" />
<path d="M56.94 257.46 C57.21 256.34 58.03 255.15 59.64 254.43 C61.25 253.71 64.36 253.50 66.61 253.12 C68.87 252.74 71.31 252.11 73.17 252.13 C75.03 252.16 76.92 252.33 77.76 253.28 C78.61 254.24 78.34 256.29 78.26 257.87 C78.17 259.46 78.12 261.40 77.27 262.79 C76.42 264.19 74.95 265.77 73.17 266.24 C71.40 266.70 68.53 265.88 66.61 265.58 C64.70 265.28 63.13 265.17 61.69 264.43 C60.26 263.70 58.79 262.32 58.00 261.15 C57.21 259.99 56.66 258.58 56.94 257.46 Z" fill="none" stroke="#3a6ab8" stroke-width="0.5" />
<path d="M113.50 236.80 L113.41 237.24 L113.16 237.68 L112.74 238.10 L112.16 238.50 L111.43 238.87 L110.57 239.20 L109.59 239.50 L108.50 239.74 L107.33 239.94 L106.09 240.08 L104.81 240.17 L103.50 240.20 L102.19 240.17 L100.91 240.08 L99.67 239.94 L98.50 239.74 L97.41 239.50 L96.43 239.20 L95.57 238.87 L94.84 238.50 L94.26 238.10 L93.84 237.68 L93.59 237.24 L93.50 236.80 L93.59 236.36 L93.84 235.92 L94.26 235.50 L94.84 235.10 L95.57 234.73 L96.43 234.40 L97.41 234.10 L98.50 233.86 L99.67 233.66 L100.91 233.52 L102.19 233.43 L103.50 233.40 L104.81 233.43 L106.09 233.52 L107.33 233.66 L108.50 233.86 L109.59 234.10 L110.57 234.40 L111.43 234.73 L112.16 235.10 L112.74 235.50 L113.16 235.92 L113.41 236.36 Z" fill="none" stroke="#5a6aa8" stroke-width="0.7" />
<path d="M110.50 236.60 L110.44 236.89 L110.28 237.17 L110.01 237.44 L109.63 237.70 L109.16 237.94 L108.60 238.16 L107.96 238.35 L107.25 238.51 L106.49 238.63 L105.68 238.73 L104.85 238.78 L104.00 238.80 L103.15 238.78 L102.32 238.73 L101.51 238.63 L100.75 238.51 L100.04 238.35 L99.40 238.16 L98.84 237.94 L98.37 237.70 L97.99 237.44 L97.72 237.17 L97.56 236.89 L97.50 236.60 L97.56 236.31 L97.72 236.03 L97.99 235.76 L98.37 235.50 L98.84 235.26 L99.40 235.04 L100.04 234.85 L100.75 234.69 L101.51 234.57 L102.32 234.47 L103.15 234.42 L104.00 234.40 L104.85 234.42 L105.68 234.47 L106.49 234.57 L107.25 234.69 L107.96 234.85 L108.60 235.04 L109.16 235.26 L109.63 235.50 L110.01 235.76 L110.28 236.03 L110.44 236.31 Z" fill="none" stroke="#5a6aa8" stroke-width="0.7" />
<line x1="81.5" y1="194.5" x2="81.5" y2="272.3" stroke="#3a3a3a" stroke-width="1.1" />
<line x1="51.3" y1="241.9" x2="128.8" y2="241.9" stroke="#3a3a3a" stroke-width="1.1" />
<rect x="51.3" y="194.5" width="77.50000000000001" height="77.80000000000001" stroke="#4a4a4a" stroke-width="1.0" fill="none" />
<text x="0" y="0" font-size="9.8" text-anchor="end" fill="#1a1a1a" color="#1a1a1a" stroke-width="0.12" transform="translate(122.8 210.3) scale(1 1.12)">12.09</text>
<g fill="#b4b4b4"><rect x="152.0" y="269.1" width="1.6" height="2.4"/><rect x="154.8" y="269.9" width="1.5" height="0.7"/><rect x="152.0" y="250.7" width="1.6" height="2.4"/><rect x="154.8" y="251.5" width="1.5" height="0.7"/><rect x="152.0" y="232.2" width="1.6" height="2.4"/><rect x="154.8" y="233.1" width="1.5" height="0.7"/><rect x="152.0" y="213.8" width="1.6" height="2.4"/><rect x="154.8" y="214.6" width="1.5" height="0.7"/><rect x="152.0" y="195.3" width="1.6" height="2.4"/><rect x="154.8" y="196.2" width="1.5" height="0.7"/><rect x="156.7" y="274.5" width="3.2" height="1.4"/><rect x="158.0" y="272.3" width="0.7" height="1.5"/><rect x="174.9" y="274.5" width="3.2" height="1.4"/><rect x="176.1" y="272.3" width="0.7" height="1.5"/><rect x="193.1" y="274.5" width="3.2" height="1.4"/><rect x="194.3" y="272.3" width="0.7" height="1.5"/><rect x="211.2" y="274.5" width="3.2" height="1.4"/><rect x="212.5" y="272.3" width="0.7" height="1.5"/><rect x="229.4" y="274.5" width="3.2" height="1.4"/><rect x="230.7" y="272.3" width="0.7" height="1.5"/></g>
<g fill="#8c8c8c"><circle cx="168.8" cy="235.9" r="0.45"/><circle cx="205.9" cy="241.0" r="0.45"/><circle cx="202.8" cy="233.8" r="0.45"/><circle cx="172.9" cy="240.2" r="0.45"/><circle cx="162.0" cy="238.8" r="0.45"/><circle cx="173.1" cy="240.8" r="0.45"/><circle cx="160.1" cy="239.5" r="0.45"/><circle cx="175.3" cy="234.1" r="0.45"/><circle cx="159.4" cy="239.7" r="0.45"/><circle cx="184.0" cy="234.5" r="0.45"/><circle cx="179.8" cy="240.3" r="0.45"/><circle cx="169.6" cy="237.6" r="0.45"/><circle cx="165.8" cy="234.4" r="0.45"/><circle cx="195.5" cy="238.7" r="0.45"/><circle cx="168.5" cy="233.6" r="0.45"/><circle cx="163.4" cy="237.9" r="0.45"/><circle cx="182.6" cy="235.2" r="0.45"/><circle cx="169.0" cy="237.9" r="0.45"/><circle cx="192.6" cy="239.5" r="0.45"/><circle cx="186.7" cy="234.6" r="0.45"/><circle cx="162.4" cy="238.9" r="0.45"/><circle cx="178.5" cy="238.8" r="0.45"/><circle cx="161.9" cy="239.5" r="0.45"/><circle cx="175.1" cy="239.7" r="0.45"/><circle cx="199.9" cy="236.9" r="0.45"/><circle cx="160.0" cy="240.3" r="0.45"/><circle cx="181.7" cy="240.0" r="0.45"/><circle cx="171.8" cy="234.5" r="0.45"/><circle cx="198.4" cy="235.9" r="0.45"/><circle cx="167.0" cy="236.0" r="0.45"/><circle cx="187.3" cy="233.0" r="0.45"/><circle cx="183.7" cy="236.6" r="0.45"/><circle cx="183.5" cy="234.0" r="0.45"/><circle cx="192.9" cy="239.5" r="0.45"/><circle cx="200.0" cy="235.6" r="0.45"/><circle cx="192.7" cy="236.1" r="0.45"/><circle cx="194.6" cy="233.5" r="0.45"/><circle cx="200.3" cy="240.6" r="0.45"/><circle cx="182.6" cy="237.1" r="0.45"/><circle cx="184.2" cy="237.3" r="0.45"/><circle cx="160.3" cy="240.7" r="0.45"/><circle cx="169.8" cy="234.5" r="0.45"/><circle cx="164.1" cy="235.0" r="0.45"/><circle cx="197.7" cy="233.2" r="0.45"/><circle cx="163.8" cy="238.6" r="0.45"/><circle cx="168.5" cy="233.1" r="0.45"/><circle cx="187.5" cy="237.6" r="0.45"/><circle cx="183.9" cy="238.6" r="0.45"/><circle cx="164.1" cy="240.0" r="0.45"/><circle cx="193.0" cy="233.4" r="0.45"/></g>
<g fill="#8c8c8c"><circle cx="191.9" cy="234.4" r="0.45"/><circle cx="206.2" cy="231.6" r="0.45"/><circle cx="191.9" cy="233.3" r="0.45"/><circle cx="192.5" cy="235.7" r="0.45"/><circle cx="219.8" cy="229.9" r="0.45"/><circle cx="208.9" cy="237.7" r="0.45"/><circle cx="193.5" cy="238.7" r="0.45"/><circle cx="222.6" cy="233.1" r="0.45"/><circle cx="203.2" cy="238.9" r="0.45"/><circle cx="207.1" cy="233.1" r="0.45"/><circle cx="222.8" cy="238.1" r="0.45"/><circle cx="200.1" cy="231.1" r="0.45"/><circle cx="199.9" cy="233.7" r="0.45"/><circle cx="224.3" cy="238.5" r="0.45"/><circle cx="221.7" cy="238.6" r="0.45"/><circle cx="219.3" cy="228.7" r="0.45"/><circle cx="206.8" cy="240.5" r="0.45"/><circle cx="222.5" cy="231.2" r="0.45"/><circle cx="203.2" cy="236.2" r="0.45"/><circle cx="201.0" cy="234.9" r="0.45"/><circle cx="189.9" cy="233.6" r="0.45"/><circle cx="206.3" cy="228.3" r="0.45"/><circle cx="192.6" cy="240.6" r="0.45"/><circle cx="216.6" cy="240.2" r="0.45"/><circle cx="211.2" cy="238.5" r="0.45"/><circle cx="220.6" cy="239.5" r="0.45"/><circle cx="188.6" cy="236.3" r="0.45"/><circle cx="197.3" cy="236.8" r="0.45"/><circle cx="197.6" cy="235.0" r="0.45"/><circle cx="222.1" cy="236.1" r="0.45"/></g>
<g fill="#8c8c8c"><circle cx="171.6" cy="256.7" r="0.45"/><circle cx="205.9" cy="250.6" r="0.45"/><circle cx="191.0" cy="246.2" r="0.45"/><circle cx="206.1" cy="256.5" r="0.45"/><circle cx="182.2" cy="257.0" r="0.45"/><circle cx="165.4" cy="246.5" r="0.45"/><circle cx="179.2" cy="250.6" r="0.45"/><circle cx="174.5" cy="249.4" r="0.45"/><circle cx="184.4" cy="253.1" r="0.45"/><circle cx="197.1" cy="247.2" r="0.45"/><circle cx="202.0" cy="254.6" r="0.45"/><circle cx="195.5" cy="247.1" r="0.45"/><circle cx="189.1" cy="253.0" r="0.45"/><circle cx="178.4" cy="257.6" r="0.45"/><circle cx="183.8" cy="254.7" r="0.45"/><circle cx="174.2" cy="246.8" r="0.45"/><circle cx="206.3" cy="248.4" r="0.45"/><circle cx="203.9" cy="243.3" r="0.45"/><circle cx="178.4" cy="252.4" r="0.45"/><circle cx="185.0" cy="245.6" r="0.45"/><circle cx="199.8" cy="256.5" r="0.45"/><circle cx="167.0" cy="250.6" r="0.45"/><circle cx="184.0" cy="247.9" r="0.45"/><circle cx="190.2" cy="258.9" r="0.45"/><circle cx="208.0" cy="259.7" r="0.45"/><circle cx="193.1" cy="243.1" r="0.45"/><circle cx="208.2" cy="258.1" r="0.45"/><circle cx="165.3" cy="247.1" r="0.45"/><circle cx="164.5" cy="245.6" r="0.45"/><circle cx="198.8" cy="244.6" r="0.45"/><circle cx="176.6" cy="247.5" r="0.45"/><circle cx="176.4" cy="254.8" r="0.45"/><circle cx="199.3" cy="251.0" r="0.45"/><circle cx="167.8" cy="252.4" r="0.45"/><circle cx="206.9" cy="250.6" r="0.45"/><circle cx="164.9" cy="257.0" r="0.45"/><circle cx="179.1" cy="244.7" r="0.45"/><circle cx="199.8" cy="252.2" r="0.45"/><circle cx="168.7" cy="250.5" r="0.45"/><circle cx="166.9" cy="261.6" r="0.45"/><circle cx="172.5" cy="265.0" r="0.45"/><circle cx="205.9" cy="256.3" r="0.45"/><circle cx="181.5" cy="246.4" r="0.45"/><circle cx="177.3" cy="249.5" r="0.45"/><circle cx="169.7" cy="265.9" r="0.45"/><circle cx="184.4" cy="257.3" r="0.45"/><circle cx="187.1" cy="251.2" r="0.45"/><circle cx="175.0" cy="260.4" r="0.45"/><circle cx="186.8" cy="252.5" r="0.45"/><circle cx="173.9" cy="244.7" r="0.45"/><circle cx="170.4" cy="246.3" r="0.45"/><circle cx="165.8" cy="250.3" r="0.45"/><circle cx="190.1" cy="247.8" r="0.45"/><circle cx="161.3" cy="244.1" r="0.45"/><circle cx="169.0" cy="251.0" r="0.45"/><circle cx="161.2" cy="251.2" r="0.45"/><circle cx="194.4" cy="249.7" r="0.45"/><circle cx="192.8" cy="252.2" r="0.45"/><circle cx="161.6" cy="249.4" r="0.45"/><circle cx="196.0" cy="245.3" r="0.45"/><circle cx="181.5" cy="244.4" r="0.45"/><circle cx="165.6" cy="263.0" r="0.45"/><circle cx="186.0" cy="249.6" r="0.45"/><circle cx="176.8" cy="253.8" r="0.45"/><circle cx="174.5" cy="246.6" r="0.45"/><circle cx="192.1" cy="249.3" r="0.45"/><circle cx="166.3" cy="257.8" r="0.45"/><circle cx="164.9" cy="250.6" r="0.45"/><circle cx="169.4" cy="244.6" r="0.45"/><circle cx="164.8" cy="251.5" r="0.45"/><circle cx="177.1" cy="247.4" r="0.45"/><circle cx="186.9" cy="245.9" r="0.45"/><circle cx="180.6" cy="248.0" r="0.45"/><circle cx="171.6" cy="249.5" r="0.45"/><circle cx="173.8" cy="247.9" r="0.45"/><circle cx="175.0" cy="252.7" r="0.45"/><circle cx="205.6" cy="256.0" r="0.45"/><circle cx="167.0" cy="250.9" r="0.45"/><circle cx="163.2" cy="261.1" r="0.45"/><circle cx="181.0" cy="268.5" r="0.45"/><circle cx="161.3" cy="254.6" r="0.45"/><circle cx="194.7" cy="243.1" r="0.45"/><circle cx="179.9" cy="251.9" r="0.45"/><circle cx="167.4" cy="250.8" r="0.45"/><circle cx="186.9" cy="252.2" r="0.45"/><circle cx="163.5" cy="251.5" r="0.45"/><circle cx="199.0" cy="244.6" r="0.45"/><circle cx="189.1" cy="250.8" r="0.45"/><circle cx="160.7" cy="248.0" r="0.45"/><circle cx="181.2" cy="245.2" r="0.45"/><circle cx="177.5" cy="258.3" r="0.45"/><circle cx="185.3" cy="257.9" r="0.45"/><circle cx="171.7" cy="245.5" r="0.45"/><circle cx="170.4" cy="258.1" r="0.45"/><circle cx="184.4" cy="258.5" r="0.45"/><circle cx="179.3" cy="244.9" r="0.45"/><circle cx="194.7" cy="245.7" r="0.45"/><circle cx="186.9" cy="263.4" r="0.45"/><circle cx="197.3" cy="244.5" r="0.45"/><circle cx="177.5" cy="243.4" r="0.45"/><circle cx="202.0" cy="247.4" r="0.45"/><circle cx="199.8" cy="246.2" r="0.45"/><circle cx="161.4" cy="258.9" r="0.45"/><circle cx="186.2" cy="264.1" r="0.45"/><circle cx="204.6" cy="260.8" r="0.45"/><circle cx="187.8" cy="246.0" r="0.45"/><circle cx="164.7" cy="264.1" r="0.45"/><circle cx="186.5" cy="250.6" r="0.45"/><circle cx="205.8" cy="243.4" r="0.45"/><circle cx="198.5" cy="243.9" r="0.45"/><circle cx="163.0" cy="251.7" r="0.45"/><circle cx="203.1" cy="258.5" r="0.45"/><circle cx="167.6" cy="252.5" r="0.45"/><circle cx="187.6" cy="253.2" r="0.45"/><circle cx="159.6" cy="258.2" r="0.45"/><circle cx="161.5" cy="246.8" r="0.45"/><circle cx="172.7" cy="250.2" r="0.45"/><circle cx="206.2" cy="269.1" r="0.45"/><circle cx="184.2" cy="259.7" r="0.45"/><circle cx="186.3" cy="253.7" r="0.45"/><circle cx="182.9" cy="252.7" r="0.45"/><circle cx="170.8" cy="252.2" r="0.45"/><circle cx="181.1" cy="258.0" r="0.45"/><circle cx="167.6" cy="244.7" r="0.45"/><circle cx="187.9" cy="245.1" r="0.45"/><circle cx="172.8" cy="249.8" r="0.45"/><circle cx="167.4" cy="250.0" r="0.45"/><circle cx="170.0" cy="253.5" r="0.45"/><circle cx="188.8" cy="245.1" r="0.45"/><circle cx="202.2" cy="252.0" r="0.45"/></g>
<g fill="#8c8c8c"><circle cx="209.8" cy="253.4" r="0.45"/><circle cx="222.7" cy="255.3" r="0.45"/><circle cx="223.6" cy="247.1" r="0.45"/><circle cx="212.4" cy="257.5" r="0.45"/><circle cx="218.4" cy="250.8" r="0.45"/><circle cx="219.0" cy="249.5" r="0.45"/><circle cx="207.4" cy="251.0" r="0.45"/><circle cx="207.2" cy="255.1" r="0.45"/><circle cx="212.6" cy="252.5" r="0.45"/><circle cx="217.5" cy="248.0" r="0.45"/><circle cx="215.0" cy="243.3" r="0.45"/><circle cx="223.6" cy="253.9" r="0.45"/><circle cx="224.8" cy="244.1" r="0.45"/><circle cx="217.8" cy="257.0" r="0.45"/><circle cx="212.5" cy="244.8" r="0.45"/><circle cx="209.2" cy="245.8" r="0.45"/><circle cx="220.6" cy="244.7" r="0.45"/><circle cx="221.5" cy="251.2" r="0.45"/><circle cx="216.4" cy="254.4" r="0.45"/><circle cx="216.7" cy="255.7" r="0.45"/></g>
<g clip-path="url(#cclip2)">
<path d="M155.50 252.50 C156.75 251.03 160.25 251.45 163.00 251.20 C165.75 250.95 169.17 251.17 172.00 251.00 C174.83 250.83 177.83 250.20 180.00 250.20 C182.17 250.20 184.08 250.03 185.00 251.00 C185.92 251.97 186.08 253.92 185.50 256.00 C184.92 258.08 183.42 261.47 181.50 263.50 C179.58 265.53 176.92 267.38 174.00 268.20 C171.08 269.02 167.00 268.60 164.00 268.40 C161.00 268.20 157.42 268.40 156.00 267.00 C154.58 265.60 155.58 262.42 155.50 260.00 C155.42 257.58 154.25 253.97 155.50 252.50 Z" fill="#f3f6fa" stroke="#666" stroke-width="0.6" />
<path d="M156.78 253.19 C157.91 251.87 161.06 252.24 163.53 252.02 C166.00 251.79 169.08 251.99 171.63 251.84 C174.18 251.69 176.88 251.12 178.83 251.12 C180.78 251.12 182.51 250.97 183.33 251.84 C184.16 252.71 184.31 254.46 183.78 256.34 C183.25 258.21 181.91 261.26 180.18 263.09 C178.46 264.92 176.06 266.58 173.43 267.32 C170.81 268.06 167.13 267.68 164.43 267.50 C161.73 267.32 158.50 267.50 157.23 266.24 C155.95 264.98 156.85 262.12 156.78 259.94 C156.71 257.76 155.66 254.51 156.78 253.19 Z" fill="#cde0f4" stroke="none" stroke-width="0" />
<path d="M158.57 254.16 C159.52 253.04 162.18 253.36 164.27 253.17 C166.36 252.98 168.96 253.14 171.11 253.02 C173.27 252.89 175.55 252.41 177.19 252.41 C178.84 252.41 180.30 252.28 180.99 253.02 C181.69 253.75 181.82 255.23 181.37 256.82 C180.93 258.40 179.79 260.97 178.33 262.52 C176.88 264.06 174.85 265.47 172.63 266.09 C170.42 266.71 167.31 266.39 165.03 266.24 C162.75 266.09 160.03 266.24 158.95 265.18 C157.88 264.11 158.64 261.69 158.57 259.86 C158.51 258.02 157.62 255.27 158.57 254.16 Z" fill="#98cbea" stroke="none" stroke-width="0" />
<path d="M160.36 255.12 C161.14 254.21 163.31 254.47 165.01 254.32 C166.72 254.16 168.84 254.30 170.59 254.19 C172.35 254.09 174.21 253.70 175.55 253.70 C176.90 253.70 178.09 253.59 178.65 254.19 C179.22 254.79 179.33 256.00 178.96 257.29 C178.60 258.58 177.67 260.68 176.48 261.94 C175.30 263.20 173.64 264.35 171.83 264.86 C170.03 265.36 167.49 265.10 165.63 264.98 C163.77 264.86 161.55 264.98 160.67 264.11 C159.80 263.24 160.42 261.27 160.36 259.77 C160.31 258.27 159.59 256.03 160.36 255.12 Z" fill="#5cc0c0" stroke="none" stroke-width="0" />
<path d="M161.90 255.95 C162.53 255.22 164.28 255.42 165.65 255.30 C167.03 255.17 168.73 255.28 170.15 255.20 C171.57 255.12 173.07 254.80 174.15 254.80 C175.23 254.80 176.19 254.72 176.65 255.20 C177.11 255.68 177.19 256.66 176.90 257.70 C176.61 258.74 175.86 260.43 174.90 261.45 C173.94 262.47 172.61 263.39 171.15 263.80 C169.69 264.21 167.65 264.00 166.15 263.90 C164.65 263.80 162.86 263.90 162.15 263.20 C161.44 262.50 161.94 260.91 161.90 259.70 C161.86 258.49 161.28 256.68 161.90 255.95 Z" fill="#5cc058" stroke="none" stroke-width="0" />
<path d="M163.69 256.92 C164.14 256.39 165.40 256.54 166.39 256.45 C167.38 256.36 168.61 256.44 169.63 256.38 C170.65 256.32 171.73 256.09 172.51 256.09 C173.29 256.09 173.98 256.03 174.31 256.38 C174.64 256.72 174.70 257.43 174.49 258.18 C174.28 258.93 173.74 260.14 173.05 260.88 C172.36 261.61 171.40 262.27 170.35 262.57 C169.30 262.86 167.83 262.71 166.75 262.64 C165.67 262.57 164.38 262.64 163.87 262.14 C163.36 261.63 163.72 260.49 163.69 259.62 C163.66 258.75 163.24 257.44 163.69 256.92 Z" fill="#b8dc48" stroke="none" stroke-width="0" />
<path d="M165.10 257.67 C165.41 257.31 166.29 257.41 166.98 257.35 C167.66 257.29 168.52 257.34 169.23 257.30 C169.93 257.26 170.68 257.10 171.23 257.10 C171.77 257.10 172.25 257.06 172.48 257.30 C172.70 257.54 172.75 258.03 172.60 258.55 C172.45 259.07 172.08 259.92 171.60 260.42 C171.12 260.93 170.45 261.40 169.73 261.60 C169.00 261.80 167.98 261.70 167.23 261.65 C166.48 261.60 165.58 261.65 165.23 261.30 C164.87 260.95 165.12 260.15 165.10 259.55 C165.08 258.95 164.79 258.04 165.10 257.67 Z" fill="#f2d838" stroke="none" stroke-width="0" />
<path d="M166.25 258.30 C166.45 258.06 167.01 258.13 167.45 258.09 C167.89 258.05 168.44 258.08 168.89 258.06 C169.35 258.03 169.83 257.93 170.17 257.93 C170.52 257.93 170.83 257.90 170.97 258.06 C171.12 258.21 171.15 258.52 171.05 258.86 C170.96 259.19 170.72 259.73 170.41 260.06 C170.11 260.38 169.68 260.68 169.21 260.81 C168.75 260.94 168.09 260.87 167.61 260.84 C167.13 260.81 166.56 260.84 166.33 260.62 C166.11 260.39 166.27 259.88 166.25 259.50 C166.24 259.11 166.05 258.53 166.25 258.30 Z" fill="#f09030" stroke="none" stroke-width="0" />
<path d="M167.15 258.78 C167.26 258.65 167.58 258.68 167.82 258.66 C168.07 258.64 168.38 258.66 168.63 258.64 C168.89 258.63 169.16 258.57 169.35 258.57 C169.55 258.57 169.72 258.56 169.80 258.64 C169.89 258.73 169.90 258.91 169.85 259.09 C169.80 259.28 169.66 259.59 169.49 259.77 C169.32 259.95 169.08 260.12 168.81 260.19 C168.55 260.27 168.18 260.23 167.91 260.21 C167.64 260.19 167.32 260.21 167.19 260.08 C167.07 259.96 167.16 259.67 167.15 259.45 C167.14 259.24 167.04 258.91 167.15 258.78 Z" fill="#e0351f" stroke="none" stroke-width="0" />
<path d="M156.40 252.98 C157.56 251.62 160.81 252.01 163.37 251.77 C165.93 251.54 169.11 251.74 171.74 251.59 C174.38 251.43 177.17 250.84 179.18 250.84 C181.20 250.84 182.98 250.69 183.83 251.59 C184.68 252.49 184.84 254.30 184.30 256.24 C183.75 258.18 182.36 261.32 180.58 263.21 C178.79 265.10 176.31 266.82 173.60 267.58 C170.89 268.34 167.09 267.96 164.30 267.77 C161.51 267.58 158.18 267.77 156.86 266.47 C155.54 265.17 156.47 262.21 156.40 259.96 C156.32 257.71 155.23 254.35 156.40 252.98 Z" fill="none" stroke="#3a5aa8" stroke-width="0.5" />
<path d="M157.80 253.74 C158.83 252.54 161.70 252.88 163.95 252.68 C166.21 252.47 169.01 252.65 171.33 252.51 C173.66 252.38 176.12 251.86 177.89 251.86 C179.67 251.86 181.24 251.72 181.99 252.51 C182.75 253.30 182.88 254.90 182.40 256.61 C181.93 258.32 180.70 261.09 179.12 262.76 C177.55 264.43 175.37 265.95 172.97 266.62 C170.58 267.29 167.23 266.94 164.77 266.78 C162.31 266.62 159.38 266.78 158.21 265.63 C157.05 264.48 157.87 261.87 157.80 259.89 C157.74 257.91 156.78 254.94 157.80 253.74 Z" fill="none" stroke="#3a6ab8" stroke-width="0.5" />
</g>
<path d="M215.84 233.27 L215.77 233.76 L215.43 234.27 L214.83 234.81 L213.97 235.35 L212.88 235.90 L211.56 236.45 L210.04 236.97 L208.36 237.47 L206.53 237.94 L204.58 238.37 L202.56 238.74 L200.50 239.06 L198.43 239.33 L196.38 239.52 L194.40 239.65 L192.51 239.70 L190.75 239.68 L189.15 239.60 L187.73 239.44 L186.53 239.21 L185.55 238.92 L184.83 238.57 L184.36 238.17 L184.16 237.73 L184.23 237.24 L184.57 236.73 L185.17 236.19 L186.03 235.65 L187.12 235.10 L188.44 234.55 L189.96 234.03 L191.64 233.53 L193.47 233.06 L195.42 232.63 L197.44 232.26 L199.50 231.94 L201.57 231.67 L203.62 231.48 L205.60 231.35 L207.49 231.30 L209.25 231.32 L210.85 231.40 L212.27 231.56 L213.47 231.79 L214.45 232.08 L215.17 232.43 L215.64 232.83 Z" fill="none" stroke="#5a6aa8" stroke-width="0.7" />
<path d="M213.92 232.39 L213.90 232.69 L213.74 233.01 L213.44 233.34 L213.02 233.67 L212.48 234.00 L211.83 234.32 L211.08 234.63 L210.24 234.92 L209.33 235.18 L208.36 235.41 L207.35 235.61 L206.32 235.78 L205.28 235.90 L204.26 235.99 L203.26 236.03 L202.32 236.03 L201.43 235.98 L200.62 235.90 L199.91 235.77 L199.30 235.60 L198.80 235.40 L198.43 235.16 L198.19 234.90 L198.08 234.61 L198.10 234.31 L198.26 233.99 L198.56 233.66 L198.98 233.33 L199.52 233.00 L200.17 232.68 L200.92 232.37 L201.76 232.08 L202.67 231.82 L203.64 231.59 L204.65 231.39 L205.68 231.22 L206.72 231.10 L207.74 231.01 L208.74 230.97 L209.68 230.97 L210.57 231.02 L211.38 231.10 L212.09 231.23 L212.70 231.40 L213.20 231.60 L213.57 231.84 L213.81 232.10 Z" fill="none" stroke="#5a6aa8" stroke-width="0.7" />
<line x1="186.3" y1="194.5" x2="186.3" y2="272.3" stroke="#3a3a3a" stroke-width="1.1" />
<line x1="156.3" y1="242.0" x2="233.0" y2="242.0" stroke="#3a3a3a" stroke-width="1.1" />
<rect x="156.3" y="194.5" width="76.69999999999999" height="77.80000000000001" stroke="#4a4a4a" stroke-width="1.0" fill="none" />
<text x="0" y="0" font-size="9.8" text-anchor="end" fill="#1a1a1a" color="#1a1a1a" stroke-width="0.12" transform="translate(221.3 210.3) scale(1 1.12)">9.98</text>
<line x1="35.8" y1="283" x2="35.8" y2="258.0" stroke="#111" stroke-width="1.5" />
<path d="M35.8 252.5 L 32.8 258.5 L 38.8 258.5 Z" fill="#111" stroke="none" stroke-width="0" />
<line x1="35.1" y1="282.3" x2="61.0" y2="282.3" stroke="#111" stroke-width="1.5" />
<path d="M66.5 282.3 L 60.5 279.3 L 60.5 285.3 Z" fill="#111" stroke="none" stroke-width="0" />
<text x="16.2" y="255" font-size="9.8" text-anchor="middle" fill="#1a1a1a" color="#1a1a1a" stroke-width="0.12" transform="rotate(-90 16.2 255)">Foxp3-</text>
<text x="28.4" y="256" font-size="9.6" text-anchor="middle" fill="#1a1a1a" color="#1a1a1a" stroke-width="0.12" transform="rotate(-90 28.4 256)">PerCP-Cy5.5</text>
<text x="0" y="0" font-size="9.6" text-anchor="start" fill="#1a1a1a" color="#1a1a1a" stroke-width="0.12" transform="translate(34.6 294) scale(1 1.12)">CD25-PE</text>
<line x1="306" y1="178.6" x2="306" y2="279.5" stroke="#222" stroke-width="1.2" />
<line x1="305.5" y1="279" x2="459" y2="279" stroke="#222" stroke-width="1.2" />
<line x1="302.5" y1="279.0" x2="306" y2="279.0" stroke="#222" stroke-width="1" />
<text x="0" y="0" font-size="9.3" text-anchor="end" fill="#1a1a1a" color="#1a1a1a" stroke-width="0.12" transform="translate(299.5 282.3) scale(1 1.12)">0</text>
<line x1="302.5" y1="259.0" x2="306" y2="259.0" stroke="#222" stroke-width="1" />
<text x="0" y="0" font-size="9.3" text-anchor="end" fill="#1a1a1a" color="#1a1a1a" stroke-width="0.12" transform="translate(299.5 262.3) scale(1 1.12)">5</text>
<line x1="302.5" y1="239.0" x2="306" y2="239.0" stroke="#222" stroke-width="1" />
<text x="0" y="0" font-size="9.3" text-anchor="end" fill="#1a1a1a" color="#1a1a1a" stroke-width="0.12" transform="translate(299.5 242.3) scale(1 1.12)">10</text>
<line x1="302.5" y1="219.0" x2="306" y2="219.0" stroke="#222" stroke-width="1" />
<text x="0" y="0" font-size="9.3" text-anchor="end" fill="#1a1a1a" color="#1a1a1a" stroke-width="0.12" transform="translate(299.5 222.3) scale(1 1.12)">15</text>
<line x1="302.5" y1="199.0" x2="306" y2="199.0" stroke="#222" stroke-width="1" />
<text x="0" y="0" font-size="9.3" text-anchor="end" fill="#1a1a1a" color="#1a1a1a" stroke-width="0.12" transform="translate(299.5 202.3) scale(1 1.12)">20</text>
<line x1="302.5" y1="179.0" x2="306" y2="179.0" stroke="#222" stroke-width="1" />
<text x="0" y="0" font-size="9.3" text-anchor="end" fill="#1a1a1a" color="#1a1a1a" stroke-width="0.12" transform="translate(299.5 182.3) scale(1 1.12)">25</text>
<text x="265.2" y="231" font-size="9.6" text-anchor="middle" fill="#1a1a1a" color="#1a1a1a" stroke-width="0.12" transform="rotate(-90 265.2 231)">Foxp3<tspan font-size="6" dy="-3.5">+</tspan><tspan dy="3.5">CD25</tspan><tspan font-size="6" dy="-3.5">+</tspan><tspan dy="3.5"> (%)</tspan></text>
<text x="283" y="232.6" font-size="9.6" text-anchor="middle" fill="#1a1a1a" color="#1a1a1a" stroke-width="0.12" transform="rotate(-90 283 232.6)">on CD4<tspan font-size="6" dy="-3.5">+</tspan><tspan dy="3.5"> cells</tspan></text>
<rect x="312.7" y="206.0" width="12.0" height="73.0" stroke="#1f8a4c" stroke-width="1.8" fill="white" />
<line x1="318.7" y1="206.0" x2="318.7" y2="200.4" stroke="#1f8a4c" stroke-width="1.0" />
<line x1="316.2" y1="200.4" x2="321.2" y2="200.4" stroke="#1f8a4c" stroke-width="1.0" />
<line x1="316.2" y1="211.6" x2="321.2" y2="211.6" stroke="#1f8a4c" stroke-width="1.0" />
<circle cx="315.7" cy="197.8" r="1.8" fill="#1f8a4c" />
<circle cx="318.7" cy="197.8" r="1.8" fill="#1f8a4c" />
<circle cx="321.7" cy="203.4" r="1.8" fill="#1f8a4c" />
<circle cx="316.3" cy="204.6" r="1.8" fill="#1f8a4c" />
<circle cx="318.7" cy="208.6" r="1.8" fill="#1f8a4c" />
<circle cx="321.09999999999997" cy="212.6" r="1.8" fill="#1f8a4c" />
<rect x="330.95" y="238.6" width="12.0" height="40.400000000000006" stroke="#e5343f" stroke-width="1.8" fill="white" />
<line x1="336.95" y1="238.6" x2="336.95" y2="233.8" stroke="#e5343f" stroke-width="1.0" />
<line x1="334.45" y1="233.8" x2="339.45" y2="233.8" stroke="#e5343f" stroke-width="1.0" />
<line x1="334.45" y1="243.4" x2="339.45" y2="243.4" stroke="#e5343f" stroke-width="1.0" />
<circle cx="333.95" cy="230.2" r="1.8" fill="#e5343f" />
<circle cx="336.95" cy="235.8" r="1.8" fill="#e5343f" />
<circle cx="339.95" cy="237.0" r="1.8" fill="#e5343f" />
<circle cx="334.55" cy="240.6" r="1.8" fill="#e5343f" />
<circle cx="336.95" cy="242.2" r="1.8" fill="#e5343f" />
<circle cx="339.34999999999997" cy="239.4" r="1.8" fill="#e5343f" />
<rect x="349.2" y="205.2" width="12.0" height="73.80000000000001" stroke="#1f8a4c" stroke-width="1.8" fill="white" />
<line x1="355.2" y1="205.2" x2="355.2" y2="198.8" stroke="#1f8a4c" stroke-width="1.0" />
<line x1="352.7" y1="198.8" x2="357.7" y2="198.8" stroke="#1f8a4c" stroke-width="1.0" />
<line x1="352.7" y1="211.60000000000002" x2="357.7" y2="211.60000000000002" stroke="#1f8a4c" stroke-width="1.0" />
<path d="M352.2 193.7 L 350.1 197.4 L 354.3 197.4 Z" fill="#1f8a4c" stroke="none" stroke-width="0" />
<path d="M355.2 199.7 L 353.1 203.4 L 357.3 203.4 Z" fill="#1f8a4c" stroke="none" stroke-width="0" />
<path d="M358.2 203.3 L 356.1 207.0 L 360.3 207.0 Z" fill="#1f8a4c" stroke="none" stroke-width="0" />
<path d="M352.8 202.1 L 350.7 205.8 L 354.9 205.8 Z" fill="#1f8a4c" stroke="none" stroke-width="0" />
<path d="M355.2 208.9 L 353.1 212.6 L 357.3 212.6 Z" fill="#1f8a4c" stroke="none" stroke-width="0" />
<path d="M357.6 200.9 L 355.5 204.6 L 359.7 204.6 Z" fill="#1f8a4c" stroke="none" stroke-width="0" />
<rect x="367.45" y="212.2" width="12.0" height="66.80000000000001" stroke="#e5343f" stroke-width="1.8" fill="white" />
<line x1="373.45" y1="212.2" x2="373.45" y2="205.0" stroke="#e5343f" stroke-width="1.0" />
<line x1="370.95" y1="205.0" x2="375.95" y2="205.0" stroke="#e5343f" stroke-width="1.0" />
<line x1="370.95" y1="219.4" x2="375.95" y2="219.4" stroke="#e5343f" stroke-width="1.0" />
<path d="M370.4 200.9 L 368.3 204.6 L 372.6 204.6 Z" fill="#e5343f" stroke="none" stroke-width="0" />
<path d="M373.4 203.3 L 371.3 207.0 L 375.6 207.0 Z" fill="#e5343f" stroke="none" stroke-width="0" />
<path d="M376.4 208.5 L 374.3 212.2 L 378.6 212.2 Z" fill="#e5343f" stroke="none" stroke-width="0" />
<path d="M371.1 212.1 L 368.9 215.8 L 373.2 215.8 Z" fill="#e5343f" stroke="none" stroke-width="0" />
<path d="M373.4 219.7 L 371.3 223.4 L 375.6 223.4 Z" fill="#e5343f" stroke="none" stroke-width="0" />
<path d="M375.8 206.5 L 373.7 210.2 L 377.9 210.2 Z" fill="#e5343f" stroke="none" stroke-width="0" />
<rect x="385.7" y="205.4" width="12.0" height="73.6" stroke="#1f8a4c" stroke-width="1.8" fill="white" />
<line x1="391.7" y1="205.4" x2="391.7" y2="200.60000000000002" stroke="#1f8a4c" stroke-width="1.0" />
<line x1="389.2" y1="200.60000000000002" x2="394.2" y2="200.60000000000002" stroke="#1f8a4c" stroke-width="1.0" />
<line x1="389.2" y1="210.2" x2="394.2" y2="210.2" stroke="#1f8a4c" stroke-width="1.0" />
<circle cx="388.7" cy="200.6" r="1.8" fill="#1f8a4c" />
<circle cx="391.7" cy="200.6" r="1.8" fill="#1f8a4c" />
<circle cx="394.7" cy="204.2" r="1.8" fill="#1f8a4c" />
<circle cx="389.3" cy="207.0" r="1.8" fill="#1f8a4c" />
<circle cx="391.7" cy="209.4" r="1.8" fill="#1f8a4c" />
<circle cx="394.09999999999997" cy="203.4" r="1.8" fill="#1f8a4c" />
<rect x="403.95" y="235.8" width="12.0" height="43.19999999999999" stroke="#e5343f" stroke-width="1.8" fill="white" />
<line x1="409.95" y1="235.8" x2="409.95" y2="230.6" stroke="#e5343f" stroke-width="1.0" />
<line x1="407.45" y1="230.6" x2="412.45" y2="230.6" stroke="#e5343f" stroke-width="1.0" />
<line x1="407.45" y1="241.0" x2="412.45" y2="241.0" stroke="#e5343f" stroke-width="1.0" />
<circle cx="406.95" cy="227.4" r="1.8" fill="#e5343f" />
<circle cx="409.95" cy="232.2" r="1.8" fill="#e5343f" />
<circle cx="412.95" cy="236.6" r="1.8" fill="#e5343f" />
<circle cx="407.55" cy="239.0" r="1.8" fill="#e5343f" />
<circle cx="409.95" cy="239.8" r="1.8" fill="#e5343f" />
<circle cx="412.34999999999997" cy="234.2" r="1.8" fill="#e5343f" />
<rect x="422.2" y="227.8" width="12.0" height="51.19999999999999" stroke="#1f8a4c" stroke-width="1.8" fill="white" />
<line x1="428.2" y1="227.8" x2="428.2" y2="222.2" stroke="#1f8a4c" stroke-width="1.0" />
<line x1="425.7" y1="222.2" x2="430.7" y2="222.2" stroke="#1f8a4c" stroke-width="1.0" />
<line x1="425.7" y1="233.4" x2="430.7" y2="233.4" stroke="#1f8a4c" stroke-width="1.0" />
<circle cx="425.2" cy="219.0" r="1.8" fill="#1f8a4c" />
<circle cx="428.2" cy="223.0" r="1.8" fill="#1f8a4c" />
<circle cx="431.2" cy="227.4" r="1.8" fill="#1f8a4c" />
<circle cx="425.8" cy="228.6" r="1.8" fill="#1f8a4c" />
<circle cx="428.2" cy="232.2" r="1.8" fill="#1f8a4c" />
<circle cx="430.59999999999997" cy="225.4" r="1.8" fill="#1f8a4c" />
<rect x="440.45" y="244.2" width="12.0" height="34.80000000000001" stroke="#e5343f" stroke-width="1.8" fill="white" />
<line x1="446.45" y1="244.2" x2="446.45" y2="238.6" stroke="#e5343f" stroke-width="1.0" />
<line x1="443.95" y1="238.6" x2="448.95" y2="238.6" stroke="#e5343f" stroke-width="1.0" />
<line x1="443.95" y1="249.8" x2="448.95" y2="249.8" stroke="#e5343f" stroke-width="1.0" />
<circle cx="443.45" cy="237.0" r="1.8" fill="#e5343f" />
<circle cx="446.45" cy="241.4" r="1.8" fill="#e5343f" />
<circle cx="449.45" cy="244.2" r="1.8" fill="#e5343f" />
<circle cx="444.05" cy="245.8" r="1.8" fill="#e5343f" />
<circle cx="446.45" cy="250.2" r="1.8" fill="#e5343f" />
<circle cx="448.84999999999997" cy="240.6" r="1.8" fill="#e5343f" />
<text x="0" y="0" font-size="9.6" text-anchor="middle" fill="#1a1a1a" color="#1a1a1a" stroke-width="0.12" transform="translate(328.6 293.2) scale(1 1.12)">Spleen</text>
<text x="0" y="0" font-size="9.6" text-anchor="middle" fill="#1a1a1a" color="#1a1a1a" stroke-width="0.12" transform="translate(364.3 293.2) scale(1 1.12)">LN</text>
<text x="0" y="0" font-size="9.6" text-anchor="middle" fill="#1a1a1a" color="#1a1a1a" stroke-width="0.12" transform="translate(401.0 293.2) scale(1 1.12)">Blood</text>
<text x="0" y="0" font-size="9.6" text-anchor="middle" fill="#1a1a1a" color="#1a1a1a" stroke-width="0.12" transform="translate(437.4 293.2) scale(1 1.12)">Tumor</text>
<text x="0" y="0" font-size="7.6" text-anchor="start" fill="#3a3a3a" color="#3a3a3a" stroke-width="0.12" transform="translate(311.5 170.5) scale(1 1.12)"><tspan font-style="italic">P</tspan> &lt; 0.0001</text>
<line x1="319" y1="174.8" x2="338" y2="174.8" stroke="#3a3a3a" stroke-width="1.2" />
<text x="0" y="0" font-size="7.6" text-anchor="start" fill="#3a3a3a" color="#3a3a3a" stroke-width="0.12" transform="translate(348.2 187.4) scale(1 1.12)"><tspan font-style="italic">P</tspan> = 0.1556</text>
<line x1="355" y1="189.8" x2="372" y2="189.8" stroke="#3a3a3a" stroke-width="1.2" />
<text x="0" y="0" font-size="7.6" text-anchor="start" fill="#3a3a3a" color="#3a3a3a" stroke-width="0.12" transform="translate(385.2 170.3) scale(1 1.12)"><tspan font-style="italic">P</tspan> &lt; 0.0001</text>
<line x1="393" y1="175" x2="412" y2="175" stroke="#3a3a3a" stroke-width="1.2" />
<text x="0" y="0" font-size="7.6" text-anchor="start" fill="#3a3a3a" color="#3a3a3a" stroke-width="0.12" transform="translate(420.6 187.4) scale(1 1.12)"><tspan font-style="italic">P</tspan> = 0.0094</text>
<line x1="429" y1="189.6" x2="448" y2="189.6" stroke="#3a3a3a" stroke-width="1.2" />
<rect x="462.3" y="205.6" width="7.6" height="3.9" stroke="none" stroke-width="0" fill="#1c7040" />
<text x="0" y="0" font-size="5.9" text-anchor="start" fill="#333" color="#333" stroke-width="0.12" transform="translate(473.6 209.6) scale(1 1.12)">ISO</text>
<rect x="462.3" y="214.6" width="7.6" height="4.0" stroke="none" stroke-width="0" fill="#dc2230" />
<text x="0" y="0" font-size="5.9" text-anchor="start" fill="#333" color="#333" stroke-width="0.12" transform="translate(473.6 218.8) scale(1 1.12)">Anti-TIGIT</text>
<text x="0" y="0" font-size="15.8" text-anchor="start" fill="#111" color="#111" stroke-width="0" font-weight="bold" transform="translate(5.7 319.6) scale(1 1.0)">D</text>
<text x="0" y="0" font-size="9.2" text-anchor="middle" fill="#1a1a1a" color="#1a1a1a" stroke-width="0" font-weight="bold" transform="translate(104.4 313.3) scale(1 1.12)">CD4</text>
<text x="0" y="0" font-size="9.2" text-anchor="middle" fill="#1a1a1a" color="#1a1a1a" stroke-width="0" font-weight="bold" transform="translate(264.3 313.6) scale(1 1.12)">CD8</text>
<line x1="37.5" y1="320.6" x2="173.8" y2="320.6" stroke="#333" stroke-width="1.0" />
<line x1="197" y1="321" x2="334" y2="321" stroke="#333" stroke-width="1.0" />
<text x="0" y="0" font-size="9.5" text-anchor="middle" fill="#1a1a1a" color="#1a1a1a" stroke-width="0.12" transform="translate(60.3 333.2) scale(1 1.12)">ISO</text>
<text x="0" y="0" font-size="9.5" text-anchor="middle" fill="#1a1a1a" color="#1a1a1a" stroke-width="0.12" transform="translate(145.6 333.2) scale(1 1.12)">Anti-TIGIT</text>
<text x="0" y="0" font-size="9.5" text-anchor="middle" fill="#1a1a1a" color="#1a1a1a" stroke-width="0.12" transform="translate(224.5 333.2) scale(1 1.12)">ISO</text>
<text x="0" y="0" font-size="9.5" text-anchor="middle" fill="#1a1a1a" color="#1a1a1a" stroke-width="0.12" transform="translate(308.7 333.2) scale(1 1.12)">Anti-TIGIT</text>
<defs><clipPath id="dt0"><rect x="33.7" y="340.4" width="64.3" height="63"/></clipPath><clipPath id="dt1"><rect x="113.7" y="340.4" width="64.3" height="63"/></clipPath><clipPath id="dt2"><rect x="192.3" y="340.4" width="64.3" height="63"/></clipPath><clipPath id="dt3"><rect x="271.7" y="340.4" width="64.3" height="63"/></clipPath><clipPath id="db0"><rect x="32.5" y="439" width="65" height="64"/></clipPath><clipPath id="db1"><rect x="113.5" y="439" width="65" height="64"/></clipPath><clipPath id="db2"><rect x="192.5" y="439" width="65" height="64"/></clipPath><clipPath id="db3"><rect x="272.5" y="439" width="65" height="64"/></clipPath></defs>
<g fill="#b4b4b4"><rect x="29.4" y="400.2" width="1.6" height="2.4"/><rect x="32.2" y="401.0" width="1.5" height="0.7"/><rect x="29.4" y="385.4" width="1.6" height="2.4"/><rect x="32.2" y="386.3" width="1.5" height="0.7"/><rect x="29.4" y="370.7" width="1.6" height="2.4"/><rect x="32.2" y="371.5" width="1.5" height="0.7"/><rect x="29.4" y="355.9" width="1.6" height="2.4"/><rect x="32.2" y="356.8" width="1.5" height="0.7"/><rect x="29.4" y="341.2" width="1.6" height="2.4"/><rect x="32.2" y="342.0" width="1.5" height="0.7"/><rect x="34.1" y="405.6" width="3.2" height="1.4"/><rect x="35.4" y="403.4" width="0.7" height="1.5"/><rect x="49.2" y="405.6" width="3.2" height="1.4"/><rect x="50.4" y="403.4" width="0.7" height="1.5"/><rect x="64.2" y="405.6" width="3.2" height="1.4"/><rect x="65.5" y="403.4" width="0.7" height="1.5"/><rect x="79.3" y="405.6" width="3.2" height="1.4"/><rect x="80.6" y="403.4" width="0.7" height="1.5"/><rect x="94.4" y="405.6" width="3.2" height="1.4"/><rect x="95.7" y="403.4" width="0.7" height="1.5"/></g>
<g fill="#a4a4a4"><circle cx="41.4" cy="376.5" r="0.45"/><circle cx="60.1" cy="369.8" r="0.45"/><circle cx="48.3" cy="382.5" r="0.45"/><circle cx="34.9" cy="370.4" r="0.45"/><circle cx="40.6" cy="377.7" r="0.45"/><circle cx="35.4" cy="361.5" r="0.45"/><circle cx="47.7" cy="372.4" r="0.45"/><circle cx="59.1" cy="367.5" r="0.45"/><circle cx="39.3" cy="377.2" r="0.45"/><circle cx="41.0" cy="383.5" r="0.45"/><circle cx="37.5" cy="377.1" r="0.45"/><circle cx="51.5" cy="368.4" r="0.45"/><circle cx="36.3" cy="372.7" r="0.45"/><circle cx="58.6" cy="382.6" r="0.45"/><circle cx="40.5" cy="364.6" r="0.45"/><circle cx="46.0" cy="364.0" r="0.45"/><circle cx="54.4" cy="374.7" r="0.45"/><circle cx="60.6" cy="363.6" r="0.45"/><circle cx="38.8" cy="380.4" r="0.45"/><circle cx="41.6" cy="377.5" r="0.45"/><circle cx="42.0" cy="366.6" r="0.45"/><circle cx="50.2" cy="369.8" r="0.45"/><circle cx="44.1" cy="378.3" r="0.45"/><circle cx="39.4" cy="380.5" r="0.45"/><circle cx="42.4" cy="358.6" r="0.45"/><circle cx="38.6" cy="377.1" r="0.45"/><circle cx="39.1" cy="375.8" r="0.45"/><circle cx="43.5" cy="381.9" r="0.45"/><circle cx="57.6" cy="383.5" r="0.45"/><circle cx="40.8" cy="378.6" r="0.45"/><circle cx="35.7" cy="371.1" r="0.45"/><circle cx="45.9" cy="360.7" r="0.45"/><circle cx="37.8" cy="370.7" r="0.45"/><circle cx="38.5" cy="377.2" r="0.45"/><circle cx="37.6" cy="367.2" r="0.45"/><circle cx="58.6" cy="367.1" r="0.45"/><circle cx="59.9" cy="381.0" r="0.45"/><circle cx="41.8" cy="362.6" r="0.45"/><circle cx="36.5" cy="359.1" r="0.45"/><circle cx="45.3" cy="372.5" r="0.45"/><circle cx="35.0" cy="375.9" r="0.45"/><circle cx="48.8" cy="372.3" r="0.45"/><circle cx="60.2" cy="380.7" r="0.45"/><circle cx="45.1" cy="366.3" r="0.45"/><circle cx="60.0" cy="368.1" r="0.45"/><circle cx="34.8" cy="373.8" r="0.45"/><circle cx="41.3" cy="373.9" r="0.45"/><circle cx="41.0" cy="363.2" r="0.45"/><circle cx="56.6" cy="378.4" r="0.45"/><circle cx="36.0" cy="376.0" r="0.45"/><circle cx="51.5" cy="372.3" r="0.45"/><circle cx="56.9" cy="371.3" r="0.45"/><circle cx="44.9" cy="371.7" r="0.45"/><circle cx="41.6" cy="381.6" r="0.45"/><circle cx="53.5" cy="371.6" r="0.45"/></g>
<g fill="#a4a4a4"><circle cx="50.1" cy="385.4" r="0.45"/><circle cx="58.5" cy="392.0" r="0.45"/><circle cx="53.7" cy="392.0" r="0.45"/><circle cx="57.2" cy="387.1" r="0.45"/><circle cx="49.5" cy="397.0" r="0.45"/><circle cx="52.9" cy="393.9" r="0.45"/><circle cx="57.3" cy="398.2" r="0.45"/><circle cx="57.8" cy="383.7" r="0.45"/></g>
<g clip-path="url(#dt0)">
<path d="M47.70 391.30 L47.62 392.69 L47.39 393.76 L47.00 394.71 L46.46 395.57 L45.77 396.33 L44.94 396.99 L43.97 397.57 L42.87 398.04 L41.64 398.41 L40.27 398.68 L38.72 398.85 L36.70 398.90 L34.68 398.85 L33.13 398.68 L31.76 398.41 L30.53 398.04 L29.43 397.57 L28.46 396.99 L27.63 396.33 L26.94 395.57 L26.40 394.71 L26.01 393.76 L25.78 392.69 L25.70 391.30 L25.78 389.91 L26.01 388.84 L26.40 387.89 L26.94 387.03 L27.63 386.27 L28.46 385.61 L29.43 385.03 L30.53 384.56 L31.76 384.19 L33.13 383.92 L34.68 383.75 L36.70 383.70 L38.72 383.75 L40.27 383.92 L41.64 384.19 L42.87 384.56 L43.97 385.03 L44.94 385.61 L45.77 386.27 L46.46 387.03 L47.00 387.89 L47.39 388.84 L47.62 389.91 Z" fill="#b8bde8" stroke="#7a80c0" stroke-width="0.5" />
<path d="M46.16 391.51 L46.09 392.71 L45.89 393.63 L45.56 394.45 L45.09 395.18 L44.50 395.83 L43.79 396.41 L42.96 396.90 L42.01 397.31 L40.95 397.63 L39.77 397.86 L38.43 398.00 L36.70 398.05 L34.97 398.00 L33.63 397.86 L32.45 397.63 L31.39 397.31 L30.44 396.90 L29.61 396.41 L28.90 395.83 L28.31 395.18 L27.84 394.45 L27.51 393.63 L27.31 392.71 L27.24 391.51 L27.31 390.31 L27.51 389.39 L27.84 388.57 L28.31 387.84 L28.90 387.19 L29.61 386.61 L30.44 386.12 L31.39 385.71 L32.45 385.39 L33.63 385.16 L34.97 385.02 L36.70 384.97 L38.43 385.02 L39.77 385.16 L40.95 385.39 L42.01 385.71 L42.96 386.12 L43.79 386.61 L44.50 387.19 L45.09 387.84 L45.56 388.57 L45.89 389.39 L46.09 390.31 Z" fill="#8ec8ec" stroke="none" stroke-width="0" />
<path d="M44.40 391.75 L44.35 392.72 L44.18 393.47 L43.91 394.14 L43.53 394.74 L43.05 395.27 L42.47 395.74 L41.79 396.14 L41.02 396.47 L40.16 396.73 L39.20 396.92 L38.11 397.03 L36.70 397.07 L35.29 397.03 L34.20 396.92 L33.24 396.73 L32.38 396.47 L31.61 396.14 L30.93 395.74 L30.35 395.27 L29.87 394.74 L29.49 394.14 L29.22 393.47 L29.05 392.72 L29.00 391.75 L29.05 390.78 L29.22 390.03 L29.49 389.36 L29.87 388.76 L30.35 388.23 L30.93 387.76 L31.61 387.36 L32.38 387.03 L33.24 386.77 L34.20 386.58 L35.29 386.47 L36.70 386.43 L38.11 386.47 L39.20 386.58 L40.16 386.77 L41.02 387.03 L41.79 387.36 L42.47 387.76 L43.05 388.23 L43.53 388.76 L43.91 389.36 L44.18 390.03 L44.35 390.78 Z" fill="#6cc8c8" stroke="none" stroke-width="0" />
<path d="M42.86 391.96 L42.82 392.74 L42.68 393.34 L42.47 393.87 L42.16 394.35 L41.78 394.77 L41.31 395.15 L40.77 395.47 L40.16 395.74 L39.47 395.94 L38.70 396.09 L37.83 396.19 L36.70 396.22 L35.57 396.19 L34.70 396.09 L33.93 395.94 L33.24 395.74 L32.63 395.47 L32.09 395.15 L31.62 394.77 L31.24 394.35 L30.93 393.87 L30.72 393.34 L30.58 392.74 L30.54 391.96 L30.58 391.18 L30.72 390.58 L30.93 390.05 L31.24 389.57 L31.62 389.15 L32.09 388.77 L32.63 388.45 L33.24 388.18 L33.93 387.98 L34.70 387.83 L35.57 387.73 L36.70 387.70 L37.83 387.73 L38.70 387.83 L39.47 387.98 L40.16 388.18 L40.77 388.45 L41.31 388.77 L41.78 389.15 L42.16 389.57 L42.47 390.05 L42.68 390.58 L42.82 391.18 Z" fill="#6cc468" stroke="none" stroke-width="0" />
<path d="M41.32 392.17 L41.29 392.75 L41.19 393.20 L41.03 393.60 L40.80 393.96 L40.51 394.28 L40.16 394.56 L39.76 394.80 L39.29 395.00 L38.77 395.16 L38.20 395.27 L37.55 395.34 L36.70 395.36 L35.85 395.34 L35.20 395.27 L34.63 395.16 L34.11 395.00 L33.64 394.80 L33.24 394.56 L32.89 394.28 L32.60 393.96 L32.37 393.60 L32.21 393.20 L32.11 392.75 L32.08 392.17 L32.11 391.59 L32.21 391.14 L32.37 390.74 L32.60 390.38 L32.89 390.06 L33.24 389.78 L33.64 389.54 L34.11 389.34 L34.63 389.18 L35.20 389.07 L35.85 389.00 L36.70 388.98 L37.55 389.00 L38.20 389.07 L38.77 389.18 L39.29 389.34 L39.76 389.54 L40.16 389.78 L40.51 390.06 L40.80 390.38 L41.03 390.74 L41.19 391.14 L41.29 391.59 Z" fill="#c8dc50" stroke="none" stroke-width="0" />
<path d="M40.00 392.35 L39.98 392.77 L39.91 393.09 L39.79 393.37 L39.63 393.63 L39.42 393.86 L39.17 394.06 L38.88 394.23 L38.55 394.37 L38.18 394.48 L37.77 394.57 L37.30 394.61 L36.70 394.63 L36.10 394.61 L35.63 394.57 L35.22 394.48 L34.85 394.37 L34.52 394.23 L34.23 394.06 L33.98 393.86 L33.77 393.63 L33.61 393.37 L33.49 393.09 L33.42 392.77 L33.40 392.35 L33.42 391.93 L33.49 391.61 L33.61 391.33 L33.77 391.07 L33.98 390.84 L34.23 390.64 L34.52 390.47 L34.85 390.33 L35.22 390.22 L35.63 390.13 L36.10 390.09 L36.70 390.07 L37.30 390.09 L37.77 390.13 L38.18 390.22 L38.55 390.33 L38.88 390.47 L39.17 390.64 L39.42 390.84 L39.63 391.07 L39.79 391.33 L39.91 391.61 L39.98 391.93 Z" fill="#f2c040" stroke="none" stroke-width="0" />
<path d="M38.68 392.53 L38.67 392.78 L38.62 392.97 L38.55 393.14 L38.46 393.30 L38.33 393.43 L38.18 393.55 L38.01 393.66 L37.81 393.74 L37.59 393.81 L37.34 393.86 L37.06 393.89 L36.70 393.90 L36.34 393.89 L36.06 393.86 L35.81 393.81 L35.59 393.74 L35.39 393.66 L35.22 393.55 L35.07 393.43 L34.94 393.30 L34.85 393.14 L34.78 392.97 L34.73 392.78 L34.72 392.53 L34.73 392.28 L34.78 392.09 L34.85 391.92 L34.94 391.76 L35.07 391.63 L35.22 391.51 L35.39 391.40 L35.59 391.32 L35.81 391.25 L36.06 391.20 L36.34 391.17 L36.70 391.16 L37.06 391.17 L37.34 391.20 L37.59 391.25 L37.81 391.32 L38.01 391.40 L38.18 391.51 L38.33 391.63 L38.46 391.76 L38.55 391.92 L38.62 392.09 L38.67 392.28 Z" fill="#f08a30" stroke="none" stroke-width="0" />
<path d="M37.69 392.67 L37.68 392.79 L37.66 392.89 L37.63 392.97 L37.58 393.05 L37.52 393.12 L37.44 393.18 L37.35 393.23 L37.26 393.27 L37.14 393.31 L37.02 393.33 L36.88 393.34 L36.70 393.35 L36.52 393.34 L36.38 393.33 L36.26 393.31 L36.14 393.27 L36.05 393.23 L35.96 393.18 L35.88 393.12 L35.82 393.05 L35.77 392.97 L35.74 392.89 L35.72 392.79 L35.71 392.67 L35.72 392.54 L35.74 392.44 L35.77 392.36 L35.82 392.28 L35.88 392.21 L35.96 392.15 L36.05 392.10 L36.14 392.06 L36.26 392.02 L36.38 392.00 L36.52 391.99 L36.70 391.98 L36.88 391.99 L37.02 392.00 L37.14 392.02 L37.26 392.06 L37.35 392.10 L37.44 392.15 L37.52 392.21 L37.58 392.28 L37.63 392.36 L37.66 392.44 L37.68 392.54 Z" fill="#e04a2a" stroke="none" stroke-width="0" />
</g>
<path d="M60.20 390.50 L60.14 391.13 L59.94 391.74 L59.63 392.34 L59.20 392.90 L58.65 393.42 L58.00 393.89 L57.27 394.31 L56.45 394.66 L55.57 394.93 L54.64 395.14 L53.68 395.26 L52.70 395.30 L51.72 395.26 L50.76 395.14 L49.83 394.93 L48.95 394.66 L48.13 394.31 L47.40 393.89 L46.75 393.42 L46.20 392.90 L45.77 392.34 L45.46 391.74 L45.26 391.13 L45.20 390.50 L45.26 389.87 L45.46 389.26 L45.77 388.66 L46.20 388.10 L46.75 387.58 L47.40 387.11 L48.13 386.69 L48.95 386.34 L49.83 386.07 L50.76 385.86 L51.72 385.74 L52.70 385.70 L53.68 385.74 L54.64 385.86 L55.57 386.07 L56.45 386.34 L57.27 386.69 L58.00 387.11 L58.65 387.58 L59.20 388.10 L59.63 388.66 L59.94 389.26 L60.14 389.87 Z" fill="none" stroke="#9aa0c8" stroke-width="0.6" />
<path d="M59.70 392.50 L59.66 392.79 L59.53 393.07 L59.32 393.34 L59.03 393.60 L58.67 393.84 L58.24 394.06 L57.74 394.25 L57.20 394.41 L56.61 394.53 L55.99 394.63 L55.35 394.68 L54.70 394.70 L54.05 394.68 L53.41 394.63 L52.79 394.53 L52.20 394.41 L51.66 394.25 L51.16 394.06 L50.73 393.84 L50.37 393.60 L50.08 393.34 L49.87 393.07 L49.74 392.79 L49.70 392.50 L49.74 392.21 L49.87 391.93 L50.08 391.66 L50.37 391.40 L50.73 391.16 L51.16 390.94 L51.66 390.75 L52.20 390.59 L52.79 390.47 L53.41 390.37 L54.05 390.32 L54.70 390.30 L55.35 390.32 L55.99 390.37 L56.61 390.47 L57.20 390.59 L57.74 390.75 L58.24 390.94 L58.67 391.16 L59.03 391.40 L59.32 391.66 L59.53 391.93 L59.66 392.21 Z" fill="none" stroke="#9aa0c8" stroke-width="0.6" />
<line x1="33.7" y1="340.4" x2="98.0" y2="340.4" stroke="#777" stroke-width="0.9" />
<line x1="33.7" y1="340.4" x2="33.7" y2="403.4" stroke="#888" stroke-width="0.8" />
<line x1="98.0" y1="340.4" x2="98.0" y2="403.4" stroke="#666" stroke-width="0.9" />
<line x1="33.7" y1="403.4" x2="98.0" y2="403.4" stroke="#333" stroke-width="1.2" />
<rect x="47.400000000000006" y="381.4" width="35" height="21.7" stroke="#111" stroke-width="1.4" fill="none" />
<text x="0" y="0" font-size="9.8" text-anchor="end" fill="#1a1a1a" color="#1a1a1a" stroke-width="0.12" transform="translate(88.1 363.5) scale(1 1.12)">4.79</text>
<g fill="#b4b4b4"><rect x="109.4" y="400.2" width="1.6" height="2.4"/><rect x="112.2" y="401.0" width="1.5" height="0.7"/><rect x="109.4" y="385.4" width="1.6" height="2.4"/><rect x="112.2" y="386.3" width="1.5" height="0.7"/><rect x="109.4" y="370.7" width="1.6" height="2.4"/><rect x="112.2" y="371.5" width="1.5" height="0.7"/><rect x="109.4" y="355.9" width="1.6" height="2.4"/><rect x="112.2" y="356.8" width="1.5" height="0.7"/><rect x="109.4" y="341.2" width="1.6" height="2.4"/><rect x="112.2" y="342.0" width="1.5" height="0.7"/><rect x="114.1" y="405.6" width="3.2" height="1.4"/><rect x="115.4" y="403.4" width="0.7" height="1.5"/><rect x="129.2" y="405.6" width="3.2" height="1.4"/><rect x="130.4" y="403.4" width="0.7" height="1.5"/><rect x="144.2" y="405.6" width="3.2" height="1.4"/><rect x="145.5" y="403.4" width="0.7" height="1.5"/><rect x="159.3" y="405.6" width="3.2" height="1.4"/><rect x="160.6" y="403.4" width="0.7" height="1.5"/><rect x="174.4" y="405.6" width="3.2" height="1.4"/><rect x="175.7" y="403.4" width="0.7" height="1.5"/></g>
<g fill="#a4a4a4"><circle cx="120.8" cy="381.6" r="0.45"/><circle cx="127.8" cy="363.2" r="0.45"/><circle cx="117.2" cy="366.5" r="0.45"/><circle cx="116.3" cy="369.3" r="0.45"/><circle cx="127.6" cy="373.6" r="0.45"/><circle cx="121.9" cy="362.3" r="0.45"/><circle cx="121.0" cy="385.9" r="0.45"/><circle cx="125.8" cy="371.7" r="0.45"/><circle cx="122.4" cy="380.8" r="0.45"/><circle cx="126.8" cy="363.9" r="0.45"/><circle cx="125.6" cy="369.5" r="0.45"/><circle cx="123.0" cy="366.2" r="0.45"/><circle cx="120.6" cy="368.8" r="0.45"/><circle cx="120.8" cy="360.5" r="0.45"/><circle cx="117.9" cy="374.8" r="0.45"/><circle cx="115.6" cy="364.6" r="0.45"/><circle cx="126.2" cy="367.1" r="0.45"/><circle cx="119.9" cy="366.3" r="0.45"/><circle cx="128.0" cy="362.4" r="0.45"/><circle cx="124.9" cy="382.3" r="0.45"/><circle cx="117.9" cy="371.0" r="0.45"/><circle cx="127.4" cy="376.1" r="0.45"/><circle cx="120.6" cy="361.1" r="0.45"/><circle cx="121.8" cy="369.5" r="0.45"/><circle cx="126.1" cy="367.7" r="0.45"/><circle cx="121.2" cy="376.9" r="0.45"/><circle cx="127.7" cy="369.2" r="0.45"/><circle cx="120.9" cy="375.0" r="0.45"/></g>
<g fill="#a4a4a4"><circle cx="140.3" cy="387.1" r="0.45"/><circle cx="141.0" cy="395.4" r="0.45"/><circle cx="132.6" cy="394.6" r="0.45"/><circle cx="132.0" cy="385.1" r="0.45"/><circle cx="138.0" cy="390.1" r="0.45"/><circle cx="134.8" cy="391.9" r="0.45"/><circle cx="140.0" cy="396.1" r="0.45"/><circle cx="127.8" cy="393.5" r="0.45"/></g>
<g clip-path="url(#dt1)">
<path d="M127.70 391.30 L127.62 392.69 L127.39 393.76 L127.00 394.71 L126.46 395.57 L125.77 396.33 L124.94 396.99 L123.97 397.57 L122.87 398.04 L121.64 398.41 L120.27 398.68 L118.72 398.85 L116.70 398.90 L114.68 398.85 L113.13 398.68 L111.76 398.41 L110.53 398.04 L109.43 397.57 L108.46 396.99 L107.63 396.33 L106.94 395.57 L106.40 394.71 L106.01 393.76 L105.78 392.69 L105.70 391.30 L105.78 389.91 L106.01 388.84 L106.40 387.89 L106.94 387.03 L107.63 386.27 L108.46 385.61 L109.43 385.03 L110.53 384.56 L111.76 384.19 L113.13 383.92 L114.68 383.75 L116.70 383.70 L118.72 383.75 L120.27 383.92 L121.64 384.19 L122.87 384.56 L123.97 385.03 L124.94 385.61 L125.77 386.27 L126.46 387.03 L127.00 387.89 L127.39 388.84 L127.62 389.91 Z" fill="#b8bde8" stroke="#7a80c0" stroke-width="0.5" />
<path d="M126.16 391.51 L126.09 392.71 L125.89 393.63 L125.56 394.45 L125.09 395.18 L124.50 395.83 L123.79 396.41 L122.96 396.90 L122.01 397.31 L120.95 397.63 L119.77 397.86 L118.43 398.00 L116.70 398.05 L114.97 398.00 L113.63 397.86 L112.45 397.63 L111.39 397.31 L110.44 396.90 L109.61 396.41 L108.90 395.83 L108.31 395.18 L107.84 394.45 L107.51 393.63 L107.31 392.71 L107.24 391.51 L107.31 390.31 L107.51 389.39 L107.84 388.57 L108.31 387.84 L108.90 387.19 L109.61 386.61 L110.44 386.12 L111.39 385.71 L112.45 385.39 L113.63 385.16 L114.97 385.02 L116.70 384.97 L118.43 385.02 L119.77 385.16 L120.95 385.39 L122.01 385.71 L122.96 386.12 L123.79 386.61 L124.50 387.19 L125.09 387.84 L125.56 388.57 L125.89 389.39 L126.09 390.31 Z" fill="#8ec8ec" stroke="none" stroke-width="0" />
<path d="M124.40 391.75 L124.35 392.72 L124.18 393.47 L123.91 394.14 L123.53 394.74 L123.05 395.27 L122.47 395.74 L121.79 396.14 L121.02 396.47 L120.16 396.73 L119.20 396.92 L118.11 397.03 L116.70 397.07 L115.29 397.03 L114.20 396.92 L113.24 396.73 L112.38 396.47 L111.61 396.14 L110.93 395.74 L110.35 395.27 L109.87 394.74 L109.49 394.14 L109.22 393.47 L109.05 392.72 L109.00 391.75 L109.05 390.78 L109.22 390.03 L109.49 389.36 L109.87 388.76 L110.35 388.23 L110.93 387.76 L111.61 387.36 L112.38 387.03 L113.24 386.77 L114.20 386.58 L115.29 386.47 L116.70 386.43 L118.11 386.47 L119.20 386.58 L120.16 386.77 L121.02 387.03 L121.79 387.36 L122.47 387.76 L123.05 388.23 L123.53 388.76 L123.91 389.36 L124.18 390.03 L124.35 390.78 Z" fill="#6cc8c8" stroke="none" stroke-width="0" />
<path d="M122.86 391.96 L122.82 392.74 L122.68 393.34 L122.47 393.87 L122.16 394.35 L121.78 394.77 L121.31 395.15 L120.77 395.47 L120.16 395.74 L119.47 395.94 L118.70 396.09 L117.83 396.19 L116.70 396.22 L115.57 396.19 L114.70 396.09 L113.93 395.94 L113.24 395.74 L112.63 395.47 L112.09 395.15 L111.62 394.77 L111.24 394.35 L110.93 393.87 L110.72 393.34 L110.58 392.74 L110.54 391.96 L110.58 391.18 L110.72 390.58 L110.93 390.05 L111.24 389.57 L111.62 389.15 L112.09 388.77 L112.63 388.45 L113.24 388.18 L113.93 387.98 L114.70 387.83 L115.57 387.73 L116.70 387.70 L117.83 387.73 L118.70 387.83 L119.47 387.98 L120.16 388.18 L120.77 388.45 L121.31 388.77 L121.78 389.15 L122.16 389.57 L122.47 390.05 L122.68 390.58 L122.82 391.18 Z" fill="#6cc468" stroke="none" stroke-width="0" />
<path d="M121.32 392.17 L121.29 392.75 L121.19 393.20 L121.03 393.60 L120.80 393.96 L120.51 394.28 L120.16 394.56 L119.76 394.80 L119.29 395.00 L118.77 395.16 L118.20 395.27 L117.55 395.34 L116.70 395.36 L115.85 395.34 L115.20 395.27 L114.63 395.16 L114.11 395.00 L113.64 394.80 L113.24 394.56 L112.89 394.28 L112.60 393.96 L112.37 393.60 L112.21 393.20 L112.11 392.75 L112.08 392.17 L112.11 391.59 L112.21 391.14 L112.37 390.74 L112.60 390.38 L112.89 390.06 L113.24 389.78 L113.64 389.54 L114.11 389.34 L114.63 389.18 L115.20 389.07 L115.85 389.00 L116.70 388.98 L117.55 389.00 L118.20 389.07 L118.77 389.18 L119.29 389.34 L119.76 389.54 L120.16 389.78 L120.51 390.06 L120.80 390.38 L121.03 390.74 L121.19 391.14 L121.29 391.59 Z" fill="#c8dc50" stroke="none" stroke-width="0" />
<path d="M120.00 392.35 L119.98 392.77 L119.91 393.09 L119.79 393.37 L119.63 393.63 L119.42 393.86 L119.17 394.06 L118.88 394.23 L118.55 394.37 L118.18 394.48 L117.77 394.57 L117.30 394.61 L116.70 394.63 L116.10 394.61 L115.63 394.57 L115.22 394.48 L114.85 394.37 L114.52 394.23 L114.23 394.06 L113.98 393.86 L113.77 393.63 L113.61 393.37 L113.49 393.09 L113.42 392.77 L113.40 392.35 L113.42 391.93 L113.49 391.61 L113.61 391.33 L113.77 391.07 L113.98 390.84 L114.23 390.64 L114.52 390.47 L114.85 390.33 L115.22 390.22 L115.63 390.13 L116.10 390.09 L116.70 390.07 L117.30 390.09 L117.77 390.13 L118.18 390.22 L118.55 390.33 L118.88 390.47 L119.17 390.64 L119.42 390.84 L119.63 391.07 L119.79 391.33 L119.91 391.61 L119.98 391.93 Z" fill="#f2c040" stroke="none" stroke-width="0" />
<path d="M118.68 392.53 L118.67 392.78 L118.62 392.97 L118.55 393.14 L118.46 393.30 L118.33 393.43 L118.18 393.55 L118.01 393.66 L117.81 393.74 L117.59 393.81 L117.34 393.86 L117.06 393.89 L116.70 393.90 L116.34 393.89 L116.06 393.86 L115.81 393.81 L115.59 393.74 L115.39 393.66 L115.22 393.55 L115.07 393.43 L114.94 393.30 L114.85 393.14 L114.78 392.97 L114.73 392.78 L114.72 392.53 L114.73 392.28 L114.78 392.09 L114.85 391.92 L114.94 391.76 L115.07 391.63 L115.22 391.51 L115.39 391.40 L115.59 391.32 L115.81 391.25 L116.06 391.20 L116.34 391.17 L116.70 391.16 L117.06 391.17 L117.34 391.20 L117.59 391.25 L117.81 391.32 L118.01 391.40 L118.18 391.51 L118.33 391.63 L118.46 391.76 L118.55 391.92 L118.62 392.09 L118.67 392.28 Z" fill="#f08a30" stroke="none" stroke-width="0" />
<path d="M117.69 392.67 L117.68 392.79 L117.66 392.89 L117.63 392.97 L117.58 393.05 L117.52 393.12 L117.44 393.18 L117.35 393.23 L117.26 393.27 L117.14 393.31 L117.02 393.33 L116.88 393.34 L116.70 393.35 L116.52 393.34 L116.38 393.33 L116.26 393.31 L116.14 393.27 L116.05 393.23 L115.96 393.18 L115.88 393.12 L115.82 393.05 L115.77 392.97 L115.74 392.89 L115.72 392.79 L115.71 392.67 L115.72 392.54 L115.74 392.44 L115.77 392.36 L115.82 392.28 L115.88 392.21 L115.96 392.15 L116.05 392.10 L116.14 392.06 L116.26 392.02 L116.38 392.00 L116.52 391.99 L116.70 391.98 L116.88 391.99 L117.02 392.00 L117.14 392.02 L117.26 392.06 L117.35 392.10 L117.44 392.15 L117.52 392.21 L117.58 392.28 L117.63 392.36 L117.66 392.44 L117.68 392.54 Z" fill="#e04a2a" stroke="none" stroke-width="0" />
</g>
<path d="M139.70 393.20 L139.64 393.62 L139.46 394.03 L139.17 394.42 L138.76 394.80 L138.25 395.15 L137.65 395.46 L136.96 395.74 L136.20 395.97 L135.38 396.16 L134.51 396.29 L133.61 396.37 L132.70 396.40 L131.79 396.37 L130.89 396.29 L130.02 396.16 L129.20 395.97 L128.44 395.74 L127.75 395.46 L127.15 395.15 L126.64 394.80 L126.23 394.42 L125.94 394.03 L125.76 393.62 L125.70 393.20 L125.76 392.78 L125.94 392.37 L126.23 391.98 L126.64 391.60 L127.15 391.25 L127.75 390.94 L128.44 390.66 L129.20 390.43 L130.02 390.24 L130.89 390.11 L131.79 390.03 L132.70 390.00 L133.61 390.03 L134.51 390.11 L135.38 390.24 L136.20 390.43 L136.96 390.66 L137.65 390.94 L138.25 391.25 L138.76 391.60 L139.17 391.98 L139.46 392.37 L139.64 392.78 Z" fill="none" stroke="#5a68b0" stroke-width="0.6" />
<path d="M138.20 393.80 L138.16 394.01 L138.05 394.21 L137.86 394.41 L137.60 394.60 L137.27 394.77 L136.88 394.93 L136.44 395.07 L135.95 395.19 L135.42 395.28 L134.86 395.35 L134.29 395.39 L133.70 395.40 L133.11 395.39 L132.54 395.35 L131.98 395.28 L131.45 395.19 L130.96 395.07 L130.52 394.93 L130.13 394.77 L129.80 394.60 L129.54 394.41 L129.35 394.21 L129.24 394.01 L129.20 393.80 L129.24 393.59 L129.35 393.39 L129.54 393.19 L129.80 393.00 L130.13 392.83 L130.52 392.67 L130.96 392.53 L131.45 392.41 L131.98 392.32 L132.54 392.25 L133.11 392.21 L133.70 392.20 L134.29 392.21 L134.86 392.25 L135.42 392.32 L135.95 392.41 L136.44 392.53 L136.88 392.67 L137.27 392.83 L137.60 393.00 L137.86 393.19 L138.05 393.39 L138.16 393.59 Z" fill="none" stroke="#5a68b0" stroke-width="0.6" />
<line x1="113.7" y1="340.4" x2="178.0" y2="340.4" stroke="#777" stroke-width="0.9" />
<line x1="113.7" y1="340.4" x2="113.7" y2="403.4" stroke="#888" stroke-width="0.8" />
<line x1="178.0" y1="340.4" x2="178.0" y2="403.4" stroke="#666" stroke-width="0.9" />
<line x1="113.7" y1="403.4" x2="178.0" y2="403.4" stroke="#333" stroke-width="1.2" />
<rect x="127.4" y="381.4" width="35" height="21.7" stroke="#111" stroke-width="1.4" fill="none" />
<text x="0" y="0" font-size="9.8" text-anchor="end" fill="#1a1a1a" color="#1a1a1a" stroke-width="0.12" transform="translate(168.1 363.5) scale(1 1.12)">6.58</text>
<g fill="#b4b4b4"><rect x="188.0" y="400.2" width="1.6" height="2.4"/><rect x="190.8" y="401.0" width="1.5" height="0.7"/><rect x="188.0" y="385.4" width="1.6" height="2.4"/><rect x="190.8" y="386.3" width="1.5" height="0.7"/><rect x="188.0" y="370.7" width="1.6" height="2.4"/><rect x="190.8" y="371.5" width="1.5" height="0.7"/><rect x="188.0" y="355.9" width="1.6" height="2.4"/><rect x="190.8" y="356.8" width="1.5" height="0.7"/><rect x="188.0" y="341.2" width="1.6" height="2.4"/><rect x="190.8" y="342.0" width="1.5" height="0.7"/><rect x="192.7" y="405.6" width="3.2" height="1.4"/><rect x="194.0" y="403.4" width="0.7" height="1.5"/><rect x="207.8" y="405.6" width="3.2" height="1.4"/><rect x="209.0" y="403.4" width="0.7" height="1.5"/><rect x="222.9" y="405.6" width="3.2" height="1.4"/><rect x="224.1" y="403.4" width="0.7" height="1.5"/><rect x="237.9" y="405.6" width="3.2" height="1.4"/><rect x="239.2" y="403.4" width="0.7" height="1.5"/><rect x="253.0" y="405.6" width="3.2" height="1.4"/><rect x="254.3" y="403.4" width="0.7" height="1.5"/></g>
<g fill="#a4a4a4"><circle cx="212.2" cy="371.8" r="0.45"/><circle cx="198.4" cy="365.3" r="0.45"/><circle cx="228.5" cy="362.4" r="0.45"/><circle cx="225.7" cy="373.5" r="0.45"/><circle cx="195.7" cy="376.6" r="0.45"/><circle cx="205.1" cy="366.3" r="0.45"/><circle cx="204.3" cy="380.6" r="0.45"/><circle cx="215.3" cy="370.1" r="0.45"/><circle cx="230.1" cy="366.2" r="0.45"/><circle cx="195.5" cy="372.9" r="0.45"/><circle cx="209.0" cy="379.2" r="0.45"/><circle cx="232.8" cy="373.3" r="0.45"/><circle cx="206.8" cy="372.8" r="0.45"/><circle cx="217.6" cy="367.8" r="0.45"/><circle cx="195.8" cy="370.4" r="0.45"/><circle cx="195.4" cy="380.7" r="0.45"/><circle cx="222.3" cy="376.2" r="0.45"/><circle cx="202.4" cy="380.1" r="0.45"/><circle cx="232.8" cy="365.0" r="0.45"/><circle cx="211.1" cy="375.8" r="0.45"/><circle cx="232.3" cy="376.5" r="0.45"/><circle cx="195.7" cy="376.7" r="0.45"/><circle cx="229.3" cy="367.0" r="0.45"/><circle cx="199.9" cy="381.9" r="0.45"/><circle cx="235.4" cy="369.4" r="0.45"/><circle cx="209.6" cy="375.4" r="0.45"/><circle cx="216.8" cy="362.2" r="0.45"/><circle cx="198.2" cy="379.9" r="0.45"/><circle cx="215.9" cy="367.0" r="0.45"/><circle cx="197.3" cy="371.6" r="0.45"/><circle cx="219.0" cy="373.0" r="0.45"/><circle cx="208.1" cy="382.7" r="0.45"/><circle cx="195.5" cy="368.0" r="0.45"/><circle cx="203.9" cy="377.8" r="0.45"/><circle cx="227.2" cy="367.2" r="0.45"/><circle cx="194.8" cy="372.3" r="0.45"/><circle cx="208.5" cy="369.0" r="0.45"/><circle cx="214.0" cy="363.6" r="0.45"/><circle cx="216.3" cy="362.8" r="0.45"/><circle cx="200.4" cy="372.9" r="0.45"/><circle cx="209.1" cy="364.7" r="0.45"/><circle cx="202.0" cy="363.1" r="0.45"/><circle cx="193.9" cy="382.6" r="0.45"/><circle cx="203.2" cy="378.0" r="0.45"/><circle cx="204.7" cy="360.7" r="0.45"/><circle cx="196.9" cy="373.9" r="0.45"/><circle cx="196.0" cy="365.9" r="0.45"/><circle cx="223.0" cy="379.6" r="0.45"/><circle cx="193.8" cy="382.6" r="0.45"/><circle cx="210.8" cy="362.1" r="0.45"/><circle cx="224.9" cy="376.3" r="0.45"/><circle cx="208.1" cy="363.4" r="0.45"/><circle cx="225.6" cy="375.3" r="0.45"/><circle cx="197.3" cy="377.2" r="0.45"/><circle cx="200.3" cy="383.2" r="0.45"/><circle cx="216.2" cy="382.7" r="0.45"/><circle cx="229.4" cy="365.6" r="0.45"/><circle cx="213.0" cy="365.7" r="0.45"/><circle cx="229.3" cy="379.0" r="0.45"/><circle cx="214.3" cy="360.4" r="0.45"/><circle cx="213.0" cy="368.1" r="0.45"/><circle cx="208.5" cy="380.3" r="0.45"/><circle cx="205.9" cy="362.1" r="0.45"/><circle cx="195.1" cy="379.8" r="0.45"/><circle cx="205.0" cy="383.0" r="0.45"/><circle cx="202.9" cy="381.4" r="0.45"/><circle cx="201.4" cy="379.9" r="0.45"/><circle cx="216.0" cy="360.0" r="0.45"/><circle cx="204.1" cy="368.5" r="0.45"/><circle cx="212.4" cy="383.0" r="0.45"/><circle cx="221.7" cy="375.2" r="0.45"/><circle cx="195.8" cy="380.0" r="0.45"/><circle cx="194.8" cy="367.8" r="0.45"/><circle cx="234.3" cy="381.4" r="0.45"/><circle cx="218.6" cy="373.8" r="0.45"/><circle cx="210.2" cy="377.9" r="0.45"/><circle cx="205.4" cy="378.3" r="0.45"/><circle cx="223.0" cy="366.7" r="0.45"/><circle cx="208.2" cy="363.4" r="0.45"/><circle cx="200.6" cy="367.5" r="0.45"/><circle cx="212.1" cy="362.6" r="0.45"/><circle cx="226.8" cy="367.6" r="0.45"/><circle cx="222.1" cy="378.1" r="0.45"/><circle cx="208.9" cy="382.0" r="0.45"/><circle cx="205.7" cy="375.1" r="0.45"/><circle cx="204.7" cy="365.8" r="0.45"/><circle cx="211.0" cy="379.4" r="0.45"/><circle cx="196.1" cy="369.9" r="0.45"/><circle cx="210.7" cy="373.8" r="0.45"/><circle cx="199.8" cy="376.1" r="0.45"/><circle cx="223.6" cy="374.7" r="0.45"/><circle cx="196.2" cy="374.5" r="0.45"/><circle cx="205.0" cy="365.1" r="0.45"/><circle cx="196.4" cy="380.1" r="0.45"/><circle cx="193.4" cy="375.1" r="0.45"/><circle cx="205.1" cy="361.4" r="0.45"/><circle cx="217.2" cy="379.4" r="0.45"/><circle cx="228.9" cy="362.7" r="0.45"/><circle cx="220.4" cy="368.2" r="0.45"/><circle cx="194.5" cy="372.1" r="0.45"/><circle cx="196.0" cy="375.1" r="0.45"/><circle cx="207.5" cy="383.7" r="0.45"/><circle cx="213.8" cy="363.2" r="0.45"/><circle cx="208.0" cy="364.6" r="0.45"/><circle cx="205.5" cy="364.7" r="0.45"/><circle cx="215.5" cy="370.5" r="0.45"/><circle cx="223.6" cy="364.7" r="0.45"/><circle cx="224.4" cy="377.3" r="0.45"/><circle cx="224.3" cy="375.1" r="0.45"/><circle cx="208.6" cy="363.9" r="0.45"/><circle cx="235.9" cy="367.3" r="0.45"/><circle cx="227.9" cy="370.9" r="0.45"/><circle cx="197.9" cy="363.7" r="0.45"/><circle cx="198.8" cy="362.6" r="0.45"/><circle cx="215.1" cy="365.0" r="0.45"/><circle cx="194.2" cy="381.8" r="0.45"/><circle cx="229.5" cy="363.2" r="0.45"/><circle cx="202.5" cy="374.0" r="0.45"/><circle cx="193.7" cy="379.9" r="0.45"/><circle cx="216.3" cy="361.7" r="0.45"/><circle cx="220.8" cy="364.9" r="0.45"/><circle cx="232.2" cy="369.2" r="0.45"/><circle cx="218.7" cy="363.0" r="0.45"/><circle cx="223.7" cy="370.6" r="0.45"/><circle cx="203.6" cy="375.6" r="0.45"/><circle cx="219.1" cy="361.5" r="0.45"/><circle cx="225.2" cy="360.9" r="0.45"/><circle cx="235.3" cy="379.3" r="0.45"/><circle cx="195.4" cy="365.8" r="0.45"/><circle cx="220.8" cy="382.1" r="0.45"/></g>
<g fill="#a4a4a4"><circle cx="211.4" cy="383.3" r="0.45"/><circle cx="229.0" cy="385.0" r="0.45"/><circle cx="235.2" cy="396.5" r="0.45"/><circle cx="212.4" cy="398.3" r="0.45"/><circle cx="211.7" cy="392.7" r="0.45"/><circle cx="210.1" cy="398.0" r="0.45"/><circle cx="232.8" cy="400.4" r="0.45"/><circle cx="207.1" cy="399.2" r="0.45"/><circle cx="223.1" cy="398.6" r="0.45"/><circle cx="221.6" cy="394.8" r="0.45"/><circle cx="224.2" cy="398.2" r="0.45"/><circle cx="209.3" cy="384.0" r="0.45"/><circle cx="222.8" cy="388.5" r="0.45"/><circle cx="218.5" cy="383.1" r="0.45"/><circle cx="228.6" cy="383.5" r="0.45"/><circle cx="231.1" cy="398.4" r="0.45"/><circle cx="220.3" cy="385.3" r="0.45"/><circle cx="225.9" cy="386.9" r="0.45"/><circle cx="219.4" cy="385.1" r="0.45"/><circle cx="235.3" cy="393.4" r="0.45"/><circle cx="217.2" cy="384.8" r="0.45"/><circle cx="228.2" cy="399.1" r="0.45"/><circle cx="231.6" cy="384.9" r="0.45"/><circle cx="217.7" cy="388.8" r="0.45"/><circle cx="229.1" cy="385.8" r="0.45"/><circle cx="224.6" cy="401.6" r="0.45"/><circle cx="229.3" cy="383.1" r="0.45"/><circle cx="209.2" cy="385.2" r="0.45"/><circle cx="227.1" cy="394.4" r="0.45"/><circle cx="222.1" cy="391.7" r="0.45"/><circle cx="218.8" cy="394.6" r="0.45"/><circle cx="225.8" cy="400.4" r="0.45"/><circle cx="228.2" cy="398.1" r="0.45"/><circle cx="233.5" cy="398.9" r="0.45"/><circle cx="227.8" cy="383.6" r="0.45"/><circle cx="226.7" cy="399.1" r="0.45"/><circle cx="219.5" cy="399.7" r="0.45"/><circle cx="212.2" cy="400.9" r="0.45"/><circle cx="219.8" cy="396.4" r="0.45"/><circle cx="214.3" cy="388.7" r="0.45"/><circle cx="217.1" cy="389.2" r="0.45"/><circle cx="209.7" cy="391.4" r="0.45"/><circle cx="235.4" cy="395.4" r="0.45"/><circle cx="234.0" cy="397.5" r="0.45"/><circle cx="231.3" cy="401.9" r="0.45"/><circle cx="228.8" cy="388.2" r="0.45"/><circle cx="214.2" cy="390.8" r="0.45"/><circle cx="207.6" cy="387.4" r="0.45"/><circle cx="232.7" cy="400.5" r="0.45"/><circle cx="216.5" cy="397.6" r="0.45"/><circle cx="229.5" cy="399.9" r="0.45"/><circle cx="230.0" cy="393.1" r="0.45"/><circle cx="210.0" cy="398.7" r="0.45"/><circle cx="216.1" cy="394.9" r="0.45"/><circle cx="217.6" cy="393.2" r="0.45"/><circle cx="235.0" cy="386.1" r="0.45"/><circle cx="222.4" cy="395.3" r="0.45"/><circle cx="222.6" cy="400.8" r="0.45"/><circle cx="218.8" cy="400.4" r="0.45"/><circle cx="227.0" cy="401.4" r="0.45"/><circle cx="209.6" cy="387.0" r="0.45"/><circle cx="215.3" cy="400.2" r="0.45"/><circle cx="207.4" cy="387.9" r="0.45"/><circle cx="227.8" cy="401.8" r="0.45"/><circle cx="212.1" cy="391.3" r="0.45"/><circle cx="226.9" cy="396.1" r="0.45"/><circle cx="228.6" cy="397.3" r="0.45"/><circle cx="214.2" cy="387.9" r="0.45"/><circle cx="207.8" cy="396.1" r="0.45"/><circle cx="213.1" cy="387.9" r="0.45"/><circle cx="235.0" cy="395.2" r="0.45"/><circle cx="224.1" cy="395.5" r="0.45"/><circle cx="224.3" cy="396.2" r="0.45"/><circle cx="215.8" cy="384.2" r="0.45"/><circle cx="208.9" cy="383.3" r="0.45"/><circle cx="217.5" cy="385.7" r="0.45"/><circle cx="210.3" cy="392.4" r="0.45"/><circle cx="235.1" cy="396.1" r="0.45"/><circle cx="214.9" cy="397.6" r="0.45"/><circle cx="212.2" cy="384.9" r="0.45"/><circle cx="215.8" cy="390.8" r="0.45"/><circle cx="227.0" cy="391.5" r="0.45"/><circle cx="228.1" cy="384.8" r="0.45"/><circle cx="234.0" cy="389.5" r="0.45"/><circle cx="231.1" cy="383.6" r="0.45"/><circle cx="231.0" cy="387.3" r="0.45"/><circle cx="231.8" cy="398.3" r="0.45"/><circle cx="226.5" cy="388.3" r="0.45"/><circle cx="207.3" cy="386.6" r="0.45"/><circle cx="233.2" cy="386.0" r="0.45"/><circle cx="226.1" cy="394.2" r="0.45"/><circle cx="226.2" cy="386.4" r="0.45"/><circle cx="211.2" cy="384.8" r="0.45"/><circle cx="235.5" cy="390.3" r="0.45"/><circle cx="225.9" cy="393.8" r="0.45"/><circle cx="213.5" cy="384.2" r="0.45"/><circle cx="207.4" cy="399.2" r="0.45"/><circle cx="210.8" cy="401.3" r="0.45"/><circle cx="217.5" cy="396.7" r="0.45"/><circle cx="211.0" cy="398.0" r="0.45"/><circle cx="214.3" cy="390.0" r="0.45"/><circle cx="222.2" cy="385.1" r="0.45"/><circle cx="214.2" cy="398.1" r="0.45"/><circle cx="215.3" cy="390.2" r="0.45"/><circle cx="229.2" cy="387.3" r="0.45"/><circle cx="212.6" cy="387.2" r="0.45"/><circle cx="218.1" cy="389.9" r="0.45"/><circle cx="225.6" cy="392.0" r="0.45"/><circle cx="232.2" cy="384.0" r="0.45"/><circle cx="226.2" cy="398.9" r="0.45"/><circle cx="213.8" cy="383.6" r="0.45"/><circle cx="219.7" cy="385.2" r="0.45"/><circle cx="220.3" cy="396.5" r="0.45"/><circle cx="209.7" cy="385.2" r="0.45"/><circle cx="220.9" cy="386.3" r="0.45"/><circle cx="213.7" cy="391.4" r="0.45"/><circle cx="210.4" cy="384.3" r="0.45"/><circle cx="217.5" cy="391.9" r="0.45"/><circle cx="234.2" cy="393.5" r="0.45"/><circle cx="209.1" cy="387.2" r="0.45"/><circle cx="228.6" cy="393.7" r="0.45"/><circle cx="232.2" cy="401.3" r="0.45"/><circle cx="231.9" cy="385.1" r="0.45"/><circle cx="234.4" cy="393.0" r="0.45"/><circle cx="214.0" cy="386.2" r="0.45"/><circle cx="232.1" cy="387.0" r="0.45"/><circle cx="209.4" cy="388.0" r="0.45"/><circle cx="233.8" cy="391.8" r="0.45"/><circle cx="228.2" cy="384.4" r="0.45"/><circle cx="220.1" cy="389.0" r="0.45"/><circle cx="213.0" cy="395.6" r="0.45"/><circle cx="217.5" cy="385.3" r="0.45"/><circle cx="235.5" cy="392.2" r="0.45"/><circle cx="212.2" cy="383.2" r="0.45"/><circle cx="225.9" cy="392.8" r="0.45"/><circle cx="207.7" cy="391.9" r="0.45"/><circle cx="228.5" cy="393.2" r="0.45"/><circle cx="213.8" cy="392.5" r="0.45"/><circle cx="224.5" cy="395.4" r="0.45"/><circle cx="211.2" cy="398.3" r="0.45"/><circle cx="234.4" cy="397.1" r="0.45"/><circle cx="231.9" cy="390.0" r="0.45"/><circle cx="233.2" cy="386.5" r="0.45"/><circle cx="213.6" cy="394.4" r="0.45"/><circle cx="233.1" cy="384.6" r="0.45"/><circle cx="213.3" cy="383.7" r="0.45"/><circle cx="219.7" cy="385.7" r="0.45"/><circle cx="212.6" cy="397.2" r="0.45"/><circle cx="223.9" cy="400.8" r="0.45"/><circle cx="218.7" cy="395.9" r="0.45"/></g>
<g clip-path="url(#dt2)">
<path d="M206.30 391.30 L206.22 392.69 L205.99 393.76 L205.60 394.71 L205.06 395.57 L204.37 396.33 L203.54 396.99 L202.57 397.57 L201.47 398.04 L200.24 398.41 L198.87 398.68 L197.32 398.85 L195.30 398.90 L193.28 398.85 L191.73 398.68 L190.36 398.41 L189.13 398.04 L188.03 397.57 L187.06 396.99 L186.23 396.33 L185.54 395.57 L185.00 394.71 L184.61 393.76 L184.38 392.69 L184.30 391.30 L184.38 389.91 L184.61 388.84 L185.00 387.89 L185.54 387.03 L186.23 386.27 L187.06 385.61 L188.03 385.03 L189.13 384.56 L190.36 384.19 L191.73 383.92 L193.28 383.75 L195.30 383.70 L197.32 383.75 L198.87 383.92 L200.24 384.19 L201.47 384.56 L202.57 385.03 L203.54 385.61 L204.37 386.27 L205.06 387.03 L205.60 387.89 L205.99 388.84 L206.22 389.91 Z" fill="#b8bde8" stroke="#7a80c0" stroke-width="0.5" />
<path d="M204.76 391.51 L204.69 392.71 L204.49 393.63 L204.16 394.45 L203.69 395.18 L203.10 395.83 L202.39 396.41 L201.56 396.90 L200.61 397.31 L199.55 397.63 L198.37 397.86 L197.03 398.00 L195.30 398.05 L193.57 398.00 L192.23 397.86 L191.05 397.63 L189.99 397.31 L189.04 396.90 L188.21 396.41 L187.50 395.83 L186.91 395.18 L186.44 394.45 L186.11 393.63 L185.91 392.71 L185.84 391.51 L185.91 390.31 L186.11 389.39 L186.44 388.57 L186.91 387.84 L187.50 387.19 L188.21 386.61 L189.04 386.12 L189.99 385.71 L191.05 385.39 L192.23 385.16 L193.57 385.02 L195.30 384.97 L197.03 385.02 L198.37 385.16 L199.55 385.39 L200.61 385.71 L201.56 386.12 L202.39 386.61 L203.10 387.19 L203.69 387.84 L204.16 388.57 L204.49 389.39 L204.69 390.31 Z" fill="#8ec8ec" stroke="none" stroke-width="0" />
<path d="M203.00 391.75 L202.95 392.72 L202.78 393.47 L202.51 394.14 L202.13 394.74 L201.65 395.27 L201.07 395.74 L200.39 396.14 L199.62 396.47 L198.76 396.73 L197.80 396.92 L196.71 397.03 L195.30 397.07 L193.89 397.03 L192.80 396.92 L191.84 396.73 L190.98 396.47 L190.21 396.14 L189.53 395.74 L188.95 395.27 L188.47 394.74 L188.09 394.14 L187.82 393.47 L187.65 392.72 L187.60 391.75 L187.65 390.78 L187.82 390.03 L188.09 389.36 L188.47 388.76 L188.95 388.23 L189.53 387.76 L190.21 387.36 L190.98 387.03 L191.84 386.77 L192.80 386.58 L193.89 386.47 L195.30 386.43 L196.71 386.47 L197.80 386.58 L198.76 386.77 L199.62 387.03 L200.39 387.36 L201.07 387.76 L201.65 388.23 L202.13 388.76 L202.51 389.36 L202.78 390.03 L202.95 390.78 Z" fill="#6cc8c8" stroke="none" stroke-width="0" />
<path d="M201.46 391.96 L201.42 392.74 L201.28 393.34 L201.07 393.87 L200.76 394.35 L200.38 394.77 L199.91 395.15 L199.37 395.47 L198.76 395.74 L198.07 395.94 L197.30 396.09 L196.43 396.19 L195.30 396.22 L194.17 396.19 L193.30 396.09 L192.53 395.94 L191.84 395.74 L191.23 395.47 L190.69 395.15 L190.22 394.77 L189.84 394.35 L189.53 393.87 L189.32 393.34 L189.18 392.74 L189.14 391.96 L189.18 391.18 L189.32 390.58 L189.53 390.05 L189.84 389.57 L190.22 389.15 L190.69 388.77 L191.23 388.45 L191.84 388.18 L192.53 387.98 L193.30 387.83 L194.17 387.73 L195.30 387.70 L196.43 387.73 L197.30 387.83 L198.07 387.98 L198.76 388.18 L199.37 388.45 L199.91 388.77 L200.38 389.15 L200.76 389.57 L201.07 390.05 L201.28 390.58 L201.42 391.18 Z" fill="#6cc468" stroke="none" stroke-width="0" />
<path d="M199.92 392.17 L199.89 392.75 L199.79 393.20 L199.63 393.60 L199.40 393.96 L199.11 394.28 L198.76 394.56 L198.36 394.80 L197.89 395.00 L197.37 395.16 L196.80 395.27 L196.15 395.34 L195.30 395.36 L194.45 395.34 L193.80 395.27 L193.23 395.16 L192.71 395.00 L192.24 394.80 L191.84 394.56 L191.49 394.28 L191.20 393.96 L190.97 393.60 L190.81 393.20 L190.71 392.75 L190.68 392.17 L190.71 391.59 L190.81 391.14 L190.97 390.74 L191.20 390.38 L191.49 390.06 L191.84 389.78 L192.24 389.54 L192.71 389.34 L193.23 389.18 L193.80 389.07 L194.45 389.00 L195.30 388.98 L196.15 389.00 L196.80 389.07 L197.37 389.18 L197.89 389.34 L198.36 389.54 L198.76 389.78 L199.11 390.06 L199.40 390.38 L199.63 390.74 L199.79 391.14 L199.89 391.59 Z" fill="#c8dc50" stroke="none" stroke-width="0" />
<path d="M198.60 392.35 L198.58 392.77 L198.51 393.09 L198.39 393.37 L198.23 393.63 L198.02 393.86 L197.77 394.06 L197.48 394.23 L197.15 394.37 L196.78 394.48 L196.37 394.57 L195.90 394.61 L195.30 394.63 L194.70 394.61 L194.23 394.57 L193.82 394.48 L193.45 394.37 L193.12 394.23 L192.83 394.06 L192.58 393.86 L192.37 393.63 L192.21 393.37 L192.09 393.09 L192.02 392.77 L192.00 392.35 L192.02 391.93 L192.09 391.61 L192.21 391.33 L192.37 391.07 L192.58 390.84 L192.83 390.64 L193.12 390.47 L193.45 390.33 L193.82 390.22 L194.23 390.13 L194.70 390.09 L195.30 390.07 L195.90 390.09 L196.37 390.13 L196.78 390.22 L197.15 390.33 L197.48 390.47 L197.77 390.64 L198.02 390.84 L198.23 391.07 L198.39 391.33 L198.51 391.61 L198.58 391.93 Z" fill="#f2c040" stroke="none" stroke-width="0" />
<path d="M197.28 392.53 L197.27 392.78 L197.22 392.97 L197.15 393.14 L197.06 393.30 L196.93 393.43 L196.78 393.55 L196.61 393.66 L196.41 393.74 L196.19 393.81 L195.94 393.86 L195.66 393.89 L195.30 393.90 L194.94 393.89 L194.66 393.86 L194.41 393.81 L194.19 393.74 L193.99 393.66 L193.82 393.55 L193.67 393.43 L193.54 393.30 L193.45 393.14 L193.38 392.97 L193.33 392.78 L193.32 392.53 L193.33 392.28 L193.38 392.09 L193.45 391.92 L193.54 391.76 L193.67 391.63 L193.82 391.51 L193.99 391.40 L194.19 391.32 L194.41 391.25 L194.66 391.20 L194.94 391.17 L195.30 391.16 L195.66 391.17 L195.94 391.20 L196.19 391.25 L196.41 391.32 L196.61 391.40 L196.78 391.51 L196.93 391.63 L197.06 391.76 L197.15 391.92 L197.22 392.09 L197.27 392.28 Z" fill="#f08a30" stroke="none" stroke-width="0" />
<path d="M196.29 392.67 L196.28 392.79 L196.26 392.89 L196.23 392.97 L196.18 393.05 L196.12 393.12 L196.04 393.18 L195.95 393.23 L195.86 393.27 L195.74 393.31 L195.62 393.33 L195.48 393.34 L195.30 393.35 L195.12 393.34 L194.98 393.33 L194.86 393.31 L194.74 393.27 L194.65 393.23 L194.56 393.18 L194.48 393.12 L194.42 393.05 L194.37 392.97 L194.34 392.89 L194.32 392.79 L194.31 392.67 L194.32 392.54 L194.34 392.44 L194.37 392.36 L194.42 392.28 L194.48 392.21 L194.56 392.15 L194.65 392.10 L194.74 392.06 L194.86 392.02 L194.98 392.00 L195.12 391.99 L195.30 391.98 L195.48 391.99 L195.62 392.00 L195.74 392.02 L195.86 392.06 L195.95 392.10 L196.04 392.15 L196.12 392.21 L196.18 392.28 L196.23 392.36 L196.26 392.44 L196.28 392.54 Z" fill="#e04a2a" stroke="none" stroke-width="0" />
</g>
<line x1="192.3" y1="340.4" x2="256.6" y2="340.4" stroke="#777" stroke-width="0.9" />
<line x1="192.3" y1="340.4" x2="192.3" y2="403.4" stroke="#888" stroke-width="0.8" />
<line x1="256.6" y1="340.4" x2="256.6" y2="403.4" stroke="#666" stroke-width="0.9" />
<line x1="192.3" y1="403.4" x2="256.6" y2="403.4" stroke="#333" stroke-width="1.2" />
<rect x="206.0" y="381.4" width="35" height="21.7" stroke="#111" stroke-width="1.4" fill="none" />
<text x="0" y="0" font-size="9.8" text-anchor="end" fill="#1a1a1a" color="#1a1a1a" stroke-width="0.12" transform="translate(246.70000000000002 363.5) scale(1 1.12)">6.04</text>
<g fill="#b4b4b4"><rect x="267.4" y="400.2" width="1.6" height="2.4"/><rect x="270.2" y="401.0" width="1.5" height="0.7"/><rect x="267.4" y="385.4" width="1.6" height="2.4"/><rect x="270.2" y="386.3" width="1.5" height="0.7"/><rect x="267.4" y="370.7" width="1.6" height="2.4"/><rect x="270.2" y="371.5" width="1.5" height="0.7"/><rect x="267.4" y="355.9" width="1.6" height="2.4"/><rect x="270.2" y="356.8" width="1.5" height="0.7"/><rect x="267.4" y="341.2" width="1.6" height="2.4"/><rect x="270.2" y="342.0" width="1.5" height="0.7"/><rect x="272.1" y="405.6" width="3.2" height="1.4"/><rect x="273.3" y="403.4" width="0.7" height="1.5"/><rect x="287.2" y="405.6" width="3.2" height="1.4"/><rect x="288.4" y="403.4" width="0.7" height="1.5"/><rect x="302.2" y="405.6" width="3.2" height="1.4"/><rect x="303.5" y="403.4" width="0.7" height="1.5"/><rect x="317.3" y="405.6" width="3.2" height="1.4"/><rect x="318.6" y="403.4" width="0.7" height="1.5"/><rect x="332.4" y="405.6" width="3.2" height="1.4"/><rect x="333.6" y="403.4" width="0.7" height="1.5"/></g>
<g fill="#a4a4a4"><circle cx="273.2" cy="383.8" r="0.45"/><circle cx="281.1" cy="381.2" r="0.45"/><circle cx="286.1" cy="377.4" r="0.45"/><circle cx="272.7" cy="376.0" r="0.45"/><circle cx="278.1" cy="367.5" r="0.45"/><circle cx="310.1" cy="365.4" r="0.45"/><circle cx="274.9" cy="367.4" r="0.45"/><circle cx="295.5" cy="372.4" r="0.45"/><circle cx="276.8" cy="362.4" r="0.45"/><circle cx="277.2" cy="367.6" r="0.45"/><circle cx="310.2" cy="366.4" r="0.45"/><circle cx="307.7" cy="375.1" r="0.45"/><circle cx="299.7" cy="367.9" r="0.45"/><circle cx="275.6" cy="379.0" r="0.45"/><circle cx="273.1" cy="372.9" r="0.45"/><circle cx="300.4" cy="376.9" r="0.45"/><circle cx="289.5" cy="384.0" r="0.45"/><circle cx="281.8" cy="378.9" r="0.45"/><circle cx="298.6" cy="379.6" r="0.45"/><circle cx="281.4" cy="366.9" r="0.45"/><circle cx="274.1" cy="365.1" r="0.45"/><circle cx="289.1" cy="363.8" r="0.45"/><circle cx="300.2" cy="372.1" r="0.45"/><circle cx="280.4" cy="379.6" r="0.45"/><circle cx="282.7" cy="380.9" r="0.45"/><circle cx="280.4" cy="362.3" r="0.45"/><circle cx="301.0" cy="368.3" r="0.45"/><circle cx="272.9" cy="366.0" r="0.45"/><circle cx="272.9" cy="367.3" r="0.45"/><circle cx="300.4" cy="384.7" r="0.45"/><circle cx="278.5" cy="369.7" r="0.45"/><circle cx="285.2" cy="371.6" r="0.45"/><circle cx="282.8" cy="363.3" r="0.45"/><circle cx="279.0" cy="364.1" r="0.45"/><circle cx="280.0" cy="383.4" r="0.45"/><circle cx="274.7" cy="365.5" r="0.45"/><circle cx="287.7" cy="378.5" r="0.45"/><circle cx="303.8" cy="380.4" r="0.45"/><circle cx="304.1" cy="380.2" r="0.45"/><circle cx="276.3" cy="377.3" r="0.45"/><circle cx="278.1" cy="366.4" r="0.45"/><circle cx="276.9" cy="376.6" r="0.45"/><circle cx="282.8" cy="371.7" r="0.45"/><circle cx="281.3" cy="368.7" r="0.45"/><circle cx="280.7" cy="369.2" r="0.45"/><circle cx="282.9" cy="365.6" r="0.45"/><circle cx="285.0" cy="378.6" r="0.45"/><circle cx="296.5" cy="364.1" r="0.45"/><circle cx="306.9" cy="372.6" r="0.45"/><circle cx="277.4" cy="373.7" r="0.45"/><circle cx="286.9" cy="378.5" r="0.45"/><circle cx="302.9" cy="364.4" r="0.45"/><circle cx="287.8" cy="373.1" r="0.45"/><circle cx="298.8" cy="367.1" r="0.45"/><circle cx="309.1" cy="376.2" r="0.45"/><circle cx="290.5" cy="376.6" r="0.45"/><circle cx="274.2" cy="384.6" r="0.45"/><circle cx="277.7" cy="372.7" r="0.45"/><circle cx="302.8" cy="372.1" r="0.45"/><circle cx="274.7" cy="368.6" r="0.45"/></g>
<g fill="#a4a4a4"><circle cx="288.4" cy="385.7" r="0.45"/><circle cx="287.0" cy="386.6" r="0.45"/><circle cx="297.1" cy="397.3" r="0.45"/><circle cx="289.1" cy="386.8" r="0.45"/><circle cx="302.2" cy="390.8" r="0.45"/><circle cx="292.8" cy="386.0" r="0.45"/><circle cx="290.7" cy="399.5" r="0.45"/><circle cx="288.0" cy="388.2" r="0.45"/><circle cx="301.7" cy="398.3" r="0.45"/><circle cx="305.3" cy="391.6" r="0.45"/><circle cx="306.4" cy="393.7" r="0.45"/><circle cx="291.8" cy="391.4" r="0.45"/><circle cx="301.2" cy="395.7" r="0.45"/><circle cx="288.3" cy="387.1" r="0.45"/><circle cx="306.5" cy="385.7" r="0.45"/><circle cx="303.3" cy="389.4" r="0.45"/><circle cx="290.9" cy="388.1" r="0.45"/><circle cx="295.7" cy="399.8" r="0.45"/><circle cx="288.7" cy="397.7" r="0.45"/><circle cx="292.5" cy="386.8" r="0.45"/></g>
<g clip-path="url(#dt3)">
<path d="M285.70 391.30 L285.62 392.69 L285.39 393.76 L285.00 394.71 L284.46 395.57 L283.77 396.33 L282.94 396.99 L281.97 397.57 L280.87 398.04 L279.64 398.41 L278.27 398.68 L276.72 398.85 L274.70 398.90 L272.68 398.85 L271.13 398.68 L269.76 398.41 L268.53 398.04 L267.43 397.57 L266.46 396.99 L265.63 396.33 L264.94 395.57 L264.40 394.71 L264.01 393.76 L263.78 392.69 L263.70 391.30 L263.78 389.91 L264.01 388.84 L264.40 387.89 L264.94 387.03 L265.63 386.27 L266.46 385.61 L267.43 385.03 L268.53 384.56 L269.76 384.19 L271.13 383.92 L272.68 383.75 L274.70 383.70 L276.72 383.75 L278.27 383.92 L279.64 384.19 L280.87 384.56 L281.97 385.03 L282.94 385.61 L283.77 386.27 L284.46 387.03 L285.00 387.89 L285.39 388.84 L285.62 389.91 Z" fill="#b8bde8" stroke="#7a80c0" stroke-width="0.5" />
<path d="M284.16 391.51 L284.09 392.71 L283.89 393.63 L283.56 394.45 L283.09 395.18 L282.50 395.83 L281.79 396.41 L280.96 396.90 L280.01 397.31 L278.95 397.63 L277.77 397.86 L276.43 398.00 L274.70 398.05 L272.97 398.00 L271.63 397.86 L270.45 397.63 L269.39 397.31 L268.44 396.90 L267.61 396.41 L266.90 395.83 L266.31 395.18 L265.84 394.45 L265.51 393.63 L265.31 392.71 L265.24 391.51 L265.31 390.31 L265.51 389.39 L265.84 388.57 L266.31 387.84 L266.90 387.19 L267.61 386.61 L268.44 386.12 L269.39 385.71 L270.45 385.39 L271.63 385.16 L272.97 385.02 L274.70 384.97 L276.43 385.02 L277.77 385.16 L278.95 385.39 L280.01 385.71 L280.96 386.12 L281.79 386.61 L282.50 387.19 L283.09 387.84 L283.56 388.57 L283.89 389.39 L284.09 390.31 Z" fill="#8ec8ec" stroke="none" stroke-width="0" />
<path d="M282.40 391.75 L282.35 392.72 L282.18 393.47 L281.91 394.14 L281.53 394.74 L281.05 395.27 L280.47 395.74 L279.79 396.14 L279.02 396.47 L278.16 396.73 L277.20 396.92 L276.11 397.03 L274.70 397.07 L273.29 397.03 L272.20 396.92 L271.24 396.73 L270.38 396.47 L269.61 396.14 L268.93 395.74 L268.35 395.27 L267.87 394.74 L267.49 394.14 L267.22 393.47 L267.05 392.72 L267.00 391.75 L267.05 390.78 L267.22 390.03 L267.49 389.36 L267.87 388.76 L268.35 388.23 L268.93 387.76 L269.61 387.36 L270.38 387.03 L271.24 386.77 L272.20 386.58 L273.29 386.47 L274.70 386.43 L276.11 386.47 L277.20 386.58 L278.16 386.77 L279.02 387.03 L279.79 387.36 L280.47 387.76 L281.05 388.23 L281.53 388.76 L281.91 389.36 L282.18 390.03 L282.35 390.78 Z" fill="#6cc8c8" stroke="none" stroke-width="0" />
<path d="M280.86 391.96 L280.82 392.74 L280.68 393.34 L280.47 393.87 L280.16 394.35 L279.78 394.77 L279.31 395.15 L278.77 395.47 L278.16 395.74 L277.47 395.94 L276.70 396.09 L275.83 396.19 L274.70 396.22 L273.57 396.19 L272.70 396.09 L271.93 395.94 L271.24 395.74 L270.63 395.47 L270.09 395.15 L269.62 394.77 L269.24 394.35 L268.93 393.87 L268.72 393.34 L268.58 392.74 L268.54 391.96 L268.58 391.18 L268.72 390.58 L268.93 390.05 L269.24 389.57 L269.62 389.15 L270.09 388.77 L270.63 388.45 L271.24 388.18 L271.93 387.98 L272.70 387.83 L273.57 387.73 L274.70 387.70 L275.83 387.73 L276.70 387.83 L277.47 387.98 L278.16 388.18 L278.77 388.45 L279.31 388.77 L279.78 389.15 L280.16 389.57 L280.47 390.05 L280.68 390.58 L280.82 391.18 Z" fill="#6cc468" stroke="none" stroke-width="0" />
<path d="M279.32 392.17 L279.29 392.75 L279.19 393.20 L279.03 393.60 L278.80 393.96 L278.51 394.28 L278.16 394.56 L277.76 394.80 L277.29 395.00 L276.77 395.16 L276.20 395.27 L275.55 395.34 L274.70 395.36 L273.85 395.34 L273.20 395.27 L272.63 395.16 L272.11 395.00 L271.64 394.80 L271.24 394.56 L270.89 394.28 L270.60 393.96 L270.37 393.60 L270.21 393.20 L270.11 392.75 L270.08 392.17 L270.11 391.59 L270.21 391.14 L270.37 390.74 L270.60 390.38 L270.89 390.06 L271.24 389.78 L271.64 389.54 L272.11 389.34 L272.63 389.18 L273.20 389.07 L273.85 389.00 L274.70 388.98 L275.55 389.00 L276.20 389.07 L276.77 389.18 L277.29 389.34 L277.76 389.54 L278.16 389.78 L278.51 390.06 L278.80 390.38 L279.03 390.74 L279.19 391.14 L279.29 391.59 Z" fill="#c8dc50" stroke="none" stroke-width="0" />
<path d="M278.00 392.35 L277.98 392.77 L277.91 393.09 L277.79 393.37 L277.63 393.63 L277.42 393.86 L277.17 394.06 L276.88 394.23 L276.55 394.37 L276.18 394.48 L275.77 394.57 L275.30 394.61 L274.70 394.63 L274.10 394.61 L273.63 394.57 L273.22 394.48 L272.85 394.37 L272.52 394.23 L272.23 394.06 L271.98 393.86 L271.77 393.63 L271.61 393.37 L271.49 393.09 L271.42 392.77 L271.40 392.35 L271.42 391.93 L271.49 391.61 L271.61 391.33 L271.77 391.07 L271.98 390.84 L272.23 390.64 L272.52 390.47 L272.85 390.33 L273.22 390.22 L273.63 390.13 L274.10 390.09 L274.70 390.07 L275.30 390.09 L275.77 390.13 L276.18 390.22 L276.55 390.33 L276.88 390.47 L277.17 390.64 L277.42 390.84 L277.63 391.07 L277.79 391.33 L277.91 391.61 L277.98 391.93 Z" fill="#f2c040" stroke="none" stroke-width="0" />
<path d="M276.68 392.53 L276.67 392.78 L276.62 392.97 L276.55 393.14 L276.46 393.30 L276.33 393.43 L276.18 393.55 L276.01 393.66 L275.81 393.74 L275.59 393.81 L275.34 393.86 L275.06 393.89 L274.70 393.90 L274.34 393.89 L274.06 393.86 L273.81 393.81 L273.59 393.74 L273.39 393.66 L273.22 393.55 L273.07 393.43 L272.94 393.30 L272.85 393.14 L272.78 392.97 L272.73 392.78 L272.72 392.53 L272.73 392.28 L272.78 392.09 L272.85 391.92 L272.94 391.76 L273.07 391.63 L273.22 391.51 L273.39 391.40 L273.59 391.32 L273.81 391.25 L274.06 391.20 L274.34 391.17 L274.70 391.16 L275.06 391.17 L275.34 391.20 L275.59 391.25 L275.81 391.32 L276.01 391.40 L276.18 391.51 L276.33 391.63 L276.46 391.76 L276.55 391.92 L276.62 392.09 L276.67 392.28 Z" fill="#f08a30" stroke="none" stroke-width="0" />
<path d="M275.69 392.67 L275.68 392.79 L275.66 392.89 L275.63 392.97 L275.58 393.05 L275.52 393.12 L275.44 393.18 L275.35 393.23 L275.26 393.27 L275.14 393.31 L275.02 393.33 L274.88 393.34 L274.70 393.35 L274.52 393.34 L274.38 393.33 L274.26 393.31 L274.14 393.27 L274.05 393.23 L273.96 393.18 L273.88 393.12 L273.82 393.05 L273.77 392.97 L273.74 392.89 L273.72 392.79 L273.71 392.67 L273.72 392.54 L273.74 392.44 L273.77 392.36 L273.82 392.28 L273.88 392.21 L273.96 392.15 L274.05 392.10 L274.14 392.06 L274.26 392.02 L274.38 392.00 L274.52 391.99 L274.70 391.98 L274.88 391.99 L275.02 392.00 L275.14 392.02 L275.26 392.06 L275.35 392.10 L275.44 392.15 L275.52 392.21 L275.58 392.28 L275.63 392.36 L275.66 392.44 L275.68 392.54 Z" fill="#e04a2a" stroke="none" stroke-width="0" />
</g>
<path d="M303.70 392.50 L303.61 392.84 L303.36 393.17 L302.94 393.49 L302.36 393.80 L301.63 394.08 L300.77 394.34 L299.79 394.56 L298.70 394.75 L297.53 394.90 L296.29 395.01 L295.01 395.08 L293.70 395.10 L292.39 395.08 L291.11 395.01 L289.87 394.90 L288.70 394.75 L287.61 394.56 L286.63 394.34 L285.77 394.08 L285.04 393.80 L284.46 393.49 L284.04 393.17 L283.79 392.84 L283.70 392.50 L283.79 392.16 L284.04 391.83 L284.46 391.51 L285.04 391.20 L285.77 390.92 L286.63 390.66 L287.61 390.44 L288.70 390.25 L289.87 390.10 L291.11 389.99 L292.39 389.92 L293.70 389.90 L295.01 389.92 L296.29 389.99 L297.53 390.10 L298.70 390.25 L299.79 390.44 L300.77 390.66 L301.63 390.92 L302.36 391.20 L302.94 391.51 L303.36 391.83 L303.61 392.16 Z" fill="none" stroke="#5a68b0" stroke-width="0.6" />
<path d="M301.70 392.50 L301.67 392.76 L301.60 393.02 L301.47 393.27 L301.30 393.50 L301.08 393.72 L300.82 393.91 L300.53 394.09 L300.20 394.23 L299.85 394.35 L299.48 394.43 L299.09 394.48 L298.70 394.50 L298.31 394.48 L297.92 394.43 L297.55 394.35 L297.20 394.23 L296.87 394.09 L296.58 393.91 L296.32 393.72 L296.10 393.50 L295.93 393.27 L295.80 393.02 L295.73 392.76 L295.70 392.50 L295.73 392.24 L295.80 391.98 L295.93 391.73 L296.10 391.50 L296.32 391.28 L296.58 391.09 L296.87 390.91 L297.20 390.77 L297.55 390.65 L297.92 390.57 L298.31 390.52 L298.70 390.50 L299.09 390.52 L299.48 390.57 L299.85 390.65 L300.20 390.77 L300.53 390.91 L300.82 391.09 L301.08 391.28 L301.30 391.50 L301.47 391.73 L301.60 391.98 L301.67 392.24 Z" fill="none" stroke="#5a68b0" stroke-width="0.6" />
<line x1="271.7" y1="340.4" x2="336.0" y2="340.4" stroke="#777" stroke-width="0.9" />
<line x1="271.7" y1="340.4" x2="271.7" y2="403.4" stroke="#888" stroke-width="0.8" />
<line x1="336.0" y1="340.4" x2="336.0" y2="403.4" stroke="#666" stroke-width="0.9" />
<line x1="271.7" y1="403.4" x2="336.0" y2="403.4" stroke="#333" stroke-width="1.2" />
<rect x="285.4" y="381.4" width="35" height="21.7" stroke="#111" stroke-width="1.4" fill="none" />
<text x="0" y="0" font-size="9.8" text-anchor="end" fill="#1a1a1a" color="#1a1a1a" stroke-width="0.12" transform="translate(326.09999999999997 363.5) scale(1 1.12)">9.41</text>
<line x1="21.3" y1="413.2" x2="21.3" y2="341.8" stroke="#111" stroke-width="1.5" />
<path d="M21.3 335.8 L 18.1 342.3 L 24.5 342.3 Z" fill="#111" stroke="none" stroke-width="0" />
<line x1="20.6" y1="412.8" x2="251.8" y2="412.8" stroke="#111" stroke-width="1.5" />
<path d="M257.8 412.8 L 251.3 409.6 L 251.3 416.0 Z" fill="#111" stroke="none" stroke-width="0" />
<text x="17.4" y="395" font-size="9.4" text-anchor="middle" fill="#1a1a1a" color="#1a1a1a" stroke-width="0.12" transform="rotate(-90 17.4 395)">SSC-A</text>
<text x="0" y="0" font-size="9.4" text-anchor="start" fill="#1a1a1a" color="#1a1a1a" stroke-width="0.12" transform="translate(30.8 425) scale(1 1.12)">IL2-PE</text>
<g fill="#b4b4b4"><rect x="28.2" y="499.8" width="1.6" height="2.4"/><rect x="31.0" y="500.6" width="1.5" height="0.7"/><rect x="28.2" y="484.8" width="1.6" height="2.4"/><rect x="31.0" y="485.6" width="1.5" height="0.7"/><rect x="28.2" y="469.8" width="1.6" height="2.4"/><rect x="31.0" y="470.6" width="1.5" height="0.7"/><rect x="28.2" y="454.8" width="1.6" height="2.4"/><rect x="31.0" y="455.6" width="1.5" height="0.7"/><rect x="28.2" y="439.8" width="1.6" height="2.4"/><rect x="31.0" y="440.6" width="1.5" height="0.7"/><rect x="32.9" y="505.2" width="3.2" height="1.4"/><rect x="34.1" y="503.0" width="0.7" height="1.5"/><rect x="48.1" y="505.2" width="3.2" height="1.4"/><rect x="49.4" y="503.0" width="0.7" height="1.5"/><rect x="63.4" y="505.2" width="3.2" height="1.4"/><rect x="64.7" y="503.0" width="0.7" height="1.5"/><rect x="78.7" y="505.2" width="3.2" height="1.4"/><rect x="79.9" y="503.0" width="0.7" height="1.5"/><rect x="93.9" y="505.2" width="3.2" height="1.4"/><rect x="95.2" y="503.0" width="0.7" height="1.5"/></g>
<g fill="#a4a4a4"><circle cx="56.6" cy="473.3" r="0.45"/><circle cx="47.8" cy="482.2" r="0.45"/><circle cx="52.9" cy="483.6" r="0.45"/><circle cx="45.3" cy="482.7" r="0.45"/><circle cx="46.0" cy="474.0" r="0.45"/><circle cx="42.6" cy="483.8" r="0.45"/><circle cx="53.7" cy="483.4" r="0.45"/><circle cx="43.1" cy="484.0" r="0.45"/><circle cx="63.2" cy="480.5" r="0.45"/><circle cx="46.8" cy="482.5" r="0.45"/><circle cx="45.8" cy="482.6" r="0.45"/><circle cx="56.6" cy="479.5" r="0.45"/><circle cx="37.8" cy="483.1" r="0.45"/><circle cx="57.6" cy="483.1" r="0.45"/><circle cx="45.7" cy="471.6" r="0.45"/><circle cx="42.6" cy="468.3" r="0.45"/><circle cx="47.3" cy="481.8" r="0.45"/><circle cx="44.9" cy="478.7" r="0.45"/><circle cx="49.2" cy="483.6" r="0.45"/><circle cx="44.9" cy="483.2" r="0.45"/><circle cx="39.4" cy="477.9" r="0.45"/><circle cx="50.5" cy="476.0" r="0.45"/><circle cx="60.3" cy="479.3" r="0.45"/><circle cx="37.4" cy="477.9" r="0.45"/><circle cx="55.9" cy="474.9" r="0.45"/><circle cx="50.6" cy="482.2" r="0.45"/><circle cx="63.3" cy="475.0" r="0.45"/><circle cx="55.7" cy="484.2" r="0.45"/><circle cx="41.5" cy="477.1" r="0.45"/><circle cx="63.5" cy="477.4" r="0.45"/><circle cx="41.5" cy="483.8" r="0.45"/><circle cx="57.0" cy="483.1" r="0.45"/><circle cx="61.4" cy="470.8" r="0.45"/><circle cx="50.1" cy="483.6" r="0.45"/><circle cx="62.3" cy="476.4" r="0.45"/><circle cx="58.2" cy="474.8" r="0.45"/><circle cx="50.4" cy="475.7" r="0.45"/><circle cx="56.7" cy="471.4" r="0.45"/><circle cx="56.0" cy="480.9" r="0.45"/><circle cx="48.5" cy="468.6" r="0.45"/><circle cx="58.0" cy="479.5" r="0.45"/><circle cx="48.9" cy="478.8" r="0.45"/><circle cx="45.6" cy="481.2" r="0.45"/><circle cx="53.2" cy="472.6" r="0.45"/><circle cx="42.4" cy="468.6" r="0.45"/><circle cx="45.0" cy="476.3" r="0.45"/><circle cx="49.5" cy="475.1" r="0.45"/><circle cx="49.6" cy="484.5" r="0.45"/><circle cx="41.8" cy="478.0" r="0.45"/><circle cx="62.6" cy="474.5" r="0.45"/><circle cx="61.3" cy="474.4" r="0.45"/><circle cx="44.6" cy="477.3" r="0.45"/><circle cx="56.3" cy="484.6" r="0.45"/><circle cx="46.4" cy="482.8" r="0.45"/><circle cx="52.4" cy="479.5" r="0.45"/><circle cx="62.0" cy="477.2" r="0.45"/><circle cx="58.1" cy="467.5" r="0.45"/><circle cx="49.4" cy="476.2" r="0.45"/><circle cx="61.6" cy="478.8" r="0.45"/><circle cx="45.5" cy="474.2" r="0.45"/></g>
<path d="M66.50 493.40 L66.41 495.57 L66.16 496.65 L65.73 497.49 L65.12 498.19 L64.34 498.78 L63.36 499.27 L62.20 499.68 L60.81 500.02 L59.16 500.27 L57.18 500.45 L54.63 500.56 L49.50 500.60 L44.37 500.56 L41.82 500.45 L39.84 500.27 L38.19 500.02 L36.80 499.68 L35.64 499.27 L34.66 498.78 L33.88 498.19 L33.27 497.49 L32.84 496.65 L32.59 495.57 L32.50 493.40 L32.59 491.23 L32.84 490.15 L33.27 489.31 L33.88 488.61 L34.66 488.02 L35.64 487.53 L36.80 487.12 L38.19 486.78 L39.84 486.53 L41.82 486.35 L44.37 486.24 L49.50 486.20 L54.63 486.24 L57.18 486.35 L59.16 486.53 L60.81 486.78 L62.20 487.12 L63.36 487.53 L64.34 488.02 L65.12 488.61 L65.73 489.31 L66.16 490.15 L66.41 491.23 Z" fill="#5a7ccc" stroke="#2a3a8a" stroke-width="0.6" />
<path d="M64.85 493.36 L64.77 495.32 L64.54 496.29 L64.15 497.04 L63.61 497.67 L62.90 498.20 L62.03 498.64 L60.98 499.02 L59.73 499.31 L58.25 499.55 L56.46 499.71 L54.17 499.81 L49.55 499.84 L44.93 499.81 L42.64 499.71 L40.85 499.55 L39.37 499.31 L38.12 499.02 L37.07 498.64 L36.20 498.20 L35.49 497.67 L34.95 497.04 L34.56 496.29 L34.33 495.32 L34.25 493.36 L34.33 491.40 L34.56 490.43 L34.95 489.68 L35.49 489.05 L36.20 488.52 L37.07 488.08 L38.12 487.70 L39.37 487.41 L40.85 487.17 L42.64 487.01 L44.93 486.91 L49.55 486.88 L54.17 486.91 L56.46 487.01 L58.25 487.17 L59.73 487.41 L60.98 487.70 L62.03 488.08 L62.90 488.52 L63.61 489.05 L64.15 489.68 L64.54 490.43 L64.77 491.40 Z" fill="#7eb4ea" stroke="none" stroke-width="0" />
<path d="M62.87 493.31 L62.80 495.01 L62.60 495.85 L62.27 496.50 L61.79 497.05 L61.18 497.51 L60.42 497.89 L59.51 498.21 L58.43 498.47 L57.15 498.67 L55.60 498.81 L53.61 498.90 L49.61 498.93 L45.61 498.90 L43.62 498.81 L42.07 498.67 L40.79 498.47 L39.71 498.21 L38.80 497.89 L38.04 497.51 L37.43 497.05 L36.95 496.50 L36.62 495.85 L36.42 495.01 L36.35 493.31 L36.42 491.62 L36.62 490.78 L36.95 490.12 L37.43 489.58 L38.04 489.12 L38.80 488.73 L39.71 488.41 L40.79 488.15 L42.07 487.95 L43.62 487.81 L45.61 487.72 L49.61 487.70 L53.61 487.72 L55.60 487.81 L57.15 487.95 L58.43 488.15 L59.51 488.41 L60.42 488.73 L61.18 489.12 L61.79 489.58 L62.27 490.12 L62.60 490.78 L62.80 491.62 Z" fill="#80cfe2" stroke="none" stroke-width="0" />
<path d="M60.56 493.26 L60.51 494.65 L60.34 495.34 L60.06 495.87 L59.68 496.32 L59.17 496.70 L58.55 497.01 L57.81 497.28 L56.92 497.49 L55.86 497.65 L54.59 497.77 L52.96 497.84 L49.68 497.86 L46.40 497.84 L44.77 497.77 L43.50 497.65 L42.44 497.49 L41.55 497.28 L40.81 497.01 L40.19 496.70 L39.68 496.32 L39.30 495.87 L39.02 495.34 L38.85 494.65 L38.80 493.26 L38.85 491.86 L39.02 491.18 L39.30 490.64 L39.68 490.19 L40.19 489.81 L40.81 489.50 L41.55 489.23 L42.44 489.02 L43.50 488.86 L44.77 488.74 L46.40 488.67 L49.68 488.65 L52.96 488.67 L54.59 488.74 L55.86 488.86 L56.92 489.02 L57.81 489.23 L58.55 489.50 L59.17 489.81 L59.68 490.19 L60.06 490.64 L60.34 491.18 L60.51 491.86 Z" fill="#7ccf78" stroke="none" stroke-width="0" />
<path d="M57.92 493.19 L57.88 494.24 L57.76 494.75 L57.55 495.16 L57.26 495.49 L56.88 495.77 L56.42 496.01 L55.85 496.21 L55.19 496.37 L54.40 496.49 L53.44 496.58 L52.22 496.63 L49.76 496.65 L47.30 496.63 L46.08 496.58 L45.12 496.49 L44.33 496.37 L43.67 496.21 L43.10 496.01 L42.64 495.77 L42.26 495.49 L41.97 495.16 L41.76 494.75 L41.64 494.24 L41.60 493.19 L41.64 492.15 L41.76 491.63 L41.97 491.23 L42.26 490.89 L42.64 490.61 L43.10 490.37 L43.67 490.18 L44.33 490.02 L45.12 489.89 L46.08 489.81 L47.30 489.75 L49.76 489.74 L52.22 489.75 L53.44 489.81 L54.40 489.89 L55.19 490.02 L55.85 490.18 L56.42 490.37 L56.88 490.61 L57.26 490.89 L57.55 491.23 L57.76 491.63 L57.88 492.15 Z" fill="#c4df62" stroke="none" stroke-width="0" />
<path d="M55.61 493.14 L55.58 493.87 L55.49 494.24 L55.35 494.53 L55.14 494.76 L54.87 494.96 L54.54 495.13 L54.15 495.27 L53.67 495.39 L53.12 495.47 L52.44 495.53 L51.57 495.57 L49.83 495.58 L48.09 495.57 L47.22 495.53 L46.54 495.47 L45.99 495.39 L45.51 495.27 L45.12 495.13 L44.79 494.96 L44.52 494.76 L44.31 494.53 L44.17 494.24 L44.08 493.87 L44.05 493.14 L44.08 492.40 L44.17 492.03 L44.31 491.74 L44.52 491.51 L44.79 491.31 L45.12 491.14 L45.51 491.00 L45.99 490.89 L46.54 490.80 L47.22 490.74 L48.09 490.70 L49.83 490.69 L51.57 490.70 L52.44 490.74 L53.12 490.80 L53.67 490.89 L54.15 491.00 L54.54 491.14 L54.87 491.31 L55.14 491.51 L55.35 491.74 L55.49 492.03 L55.58 492.40 Z" fill="#f0e25c" stroke="none" stroke-width="0" />
<path d="M53.63 493.09 L53.61 493.57 L53.55 493.80 L53.46 493.99 L53.33 494.14 L53.15 494.27 L52.94 494.38 L52.68 494.47 L52.38 494.54 L52.02 494.60 L51.58 494.64 L51.02 494.66 L49.89 494.67 L48.76 494.66 L48.20 494.64 L47.76 494.60 L47.40 494.54 L47.10 494.47 L46.84 494.38 L46.63 494.27 L46.45 494.14 L46.32 493.99 L46.23 493.80 L46.17 493.57 L46.15 493.09 L46.17 492.61 L46.23 492.37 L46.32 492.19 L46.45 492.03 L46.63 491.91 L46.84 491.80 L47.10 491.71 L47.40 491.63 L47.76 491.58 L48.20 491.54 L48.76 491.51 L49.89 491.50 L51.02 491.51 L51.58 491.54 L52.02 491.58 L52.38 491.63 L52.68 491.71 L52.94 491.80 L53.15 491.91 L53.33 492.03 L53.46 492.19 L53.55 492.37 L53.61 492.61 Z" fill="#f3a23e" stroke="none" stroke-width="0" />
<path d="M51.81 493.04 L51.81 493.28 L51.78 493.40 L51.73 493.49 L51.66 493.57 L51.58 493.64 L51.47 493.69 L51.34 493.74 L51.19 493.77 L51.01 493.80 L50.79 493.82 L50.51 493.83 L49.95 493.84 L49.38 493.83 L49.10 493.82 L48.88 493.80 L48.70 493.77 L48.55 493.74 L48.42 493.69 L48.31 493.64 L48.23 493.57 L48.16 493.49 L48.11 493.40 L48.08 493.28 L48.08 493.04 L48.08 492.80 L48.11 492.69 L48.16 492.59 L48.23 492.52 L48.31 492.45 L48.42 492.40 L48.55 492.35 L48.70 492.32 L48.88 492.29 L49.10 492.27 L49.38 492.26 L49.94 492.25 L50.51 492.26 L50.79 492.27 L51.01 492.29 L51.19 492.32 L51.34 492.35 L51.47 492.40 L51.58 492.45 L51.66 492.52 L51.73 492.59 L51.78 492.69 L51.81 492.80 Z" fill="#e0382c" stroke="none" stroke-width="0" />
<line x1="49.3" y1="439.0" x2="49.3" y2="503.0" stroke="#333" stroke-width="1.0" />
<line x1="32.5" y1="486.4" x2="97.5" y2="486.4" stroke="#333" stroke-width="1.0" />
<rect x="32.5" y="439.0" width="65" height="64.0" stroke="#555" stroke-width="0.9" fill="none" />
<text x="0" y="0" font-size="9.8" text-anchor="start" fill="#1a1a1a" color="#1a1a1a" stroke-width="0.12" transform="translate(35.3 451.2) scale(1 1.12)">3.81</text>
<text x="0" y="0" font-size="9.8" text-anchor="end" fill="#1a1a1a" color="#1a1a1a" stroke-width="0.12" transform="translate(94.2 451.2) scale(1 1.12)">2.12</text>
<text x="0" y="0" font-size="9.8" text-anchor="end" fill="#1a1a1a" color="#1a1a1a" stroke-width="0.12" transform="translate(96.0 499.7) scale(1 1.12)">28.81</text>
<g fill="#b4b4b4"><rect x="109.2" y="499.8" width="1.6" height="2.4"/><rect x="112.0" y="500.6" width="1.5" height="0.7"/><rect x="109.2" y="484.8" width="1.6" height="2.4"/><rect x="112.0" y="485.6" width="1.5" height="0.7"/><rect x="109.2" y="469.8" width="1.6" height="2.4"/><rect x="112.0" y="470.6" width="1.5" height="0.7"/><rect x="109.2" y="454.8" width="1.6" height="2.4"/><rect x="112.0" y="455.6" width="1.5" height="0.7"/><rect x="109.2" y="439.8" width="1.6" height="2.4"/><rect x="112.0" y="440.6" width="1.5" height="0.7"/><rect x="113.9" y="505.2" width="3.2" height="1.4"/><rect x="115.2" y="503.0" width="0.7" height="1.5"/><rect x="129.2" y="505.2" width="3.2" height="1.4"/><rect x="130.4" y="503.0" width="0.7" height="1.5"/><rect x="144.4" y="505.2" width="3.2" height="1.4"/><rect x="145.7" y="503.0" width="0.7" height="1.5"/><rect x="159.7" y="505.2" width="3.2" height="1.4"/><rect x="160.9" y="503.0" width="0.7" height="1.5"/><rect x="174.9" y="505.2" width="3.2" height="1.4"/><rect x="176.2" y="503.0" width="0.7" height="1.5"/></g>
<g fill="#a4a4a4"><circle cx="139.3" cy="472.7" r="0.45"/><circle cx="132.1" cy="473.0" r="0.45"/><circle cx="117.1" cy="471.5" r="0.45"/><circle cx="139.9" cy="470.6" r="0.45"/><circle cx="137.4" cy="484.4" r="0.45"/><circle cx="132.5" cy="484.6" r="0.45"/><circle cx="143.3" cy="475.8" r="0.45"/><circle cx="138.2" cy="483.5" r="0.45"/><circle cx="119.2" cy="483.7" r="0.45"/><circle cx="133.8" cy="485.6" r="0.45"/><circle cx="118.1" cy="470.2" r="0.45"/><circle cx="137.0" cy="479.3" r="0.45"/><circle cx="136.0" cy="485.5" r="0.45"/><circle cx="144.9" cy="475.8" r="0.45"/><circle cx="145.4" cy="480.7" r="0.45"/><circle cx="121.7" cy="470.7" r="0.45"/><circle cx="139.4" cy="478.4" r="0.45"/><circle cx="142.1" cy="478.8" r="0.45"/><circle cx="128.0" cy="485.0" r="0.45"/><circle cx="143.0" cy="478.1" r="0.45"/><circle cx="116.6" cy="482.4" r="0.45"/><circle cx="128.5" cy="480.0" r="0.45"/><circle cx="144.2" cy="484.7" r="0.45"/><circle cx="125.7" cy="474.8" r="0.45"/><circle cx="142.7" cy="482.3" r="0.45"/><circle cx="140.3" cy="485.8" r="0.45"/><circle cx="125.7" cy="481.6" r="0.45"/><circle cx="118.9" cy="484.7" r="0.45"/><circle cx="120.8" cy="481.7" r="0.45"/><circle cx="142.8" cy="478.6" r="0.45"/><circle cx="119.5" cy="473.0" r="0.45"/><circle cx="123.9" cy="481.1" r="0.45"/><circle cx="119.3" cy="476.9" r="0.45"/><circle cx="122.7" cy="479.8" r="0.45"/><circle cx="127.2" cy="484.6" r="0.45"/><circle cx="139.9" cy="481.7" r="0.45"/><circle cx="120.7" cy="480.2" r="0.45"/><circle cx="145.2" cy="477.7" r="0.45"/><circle cx="120.3" cy="479.5" r="0.45"/><circle cx="123.7" cy="482.7" r="0.45"/><circle cx="130.1" cy="480.9" r="0.45"/><circle cx="126.5" cy="484.8" r="0.45"/><circle cx="120.5" cy="482.7" r="0.45"/><circle cx="121.9" cy="477.0" r="0.45"/><circle cx="121.3" cy="484.7" r="0.45"/></g>
<path d="M146.80 493.80 L146.72 495.88 L146.47 496.92 L146.05 497.72 L145.46 498.39 L144.70 498.95 L143.76 499.43 L142.62 499.82 L141.28 500.14 L139.68 500.39 L137.75 500.56 L135.28 500.67 L130.30 500.70 L125.32 500.67 L122.85 500.56 L120.92 500.39 L119.32 500.14 L117.98 499.82 L116.84 499.43 L115.90 498.95 L115.14 498.39 L114.55 497.72 L114.13 496.92 L113.88 495.88 L113.80 493.80 L113.88 491.72 L114.13 490.68 L114.55 489.88 L115.14 489.21 L115.90 488.65 L116.84 488.17 L117.98 487.78 L119.32 487.46 L120.92 487.21 L122.85 487.04 L125.32 486.93 L130.30 486.90 L135.28 486.93 L137.75 487.04 L139.68 487.21 L141.28 487.46 L142.62 487.78 L143.76 488.17 L144.70 488.65 L145.46 489.21 L146.05 489.88 L146.47 490.68 L146.72 491.72 Z" fill="#5a7ccc" stroke="#2a3a8a" stroke-width="0.6" />
<path d="M145.22 493.75 L145.15 495.62 L144.92 496.55 L144.54 497.28 L144.02 497.88 L143.33 498.39 L142.48 498.81 L141.46 499.17 L140.25 499.46 L138.81 499.68 L137.08 499.83 L134.85 499.93 L130.37 499.96 L125.89 499.93 L123.66 499.83 L121.93 499.68 L120.49 499.46 L119.28 499.17 L118.26 498.81 L117.41 498.39 L116.72 497.88 L116.20 497.28 L115.82 496.55 L115.59 495.62 L115.52 493.75 L115.59 491.88 L115.82 490.95 L116.20 490.22 L116.72 489.62 L117.41 489.11 L118.26 488.69 L119.28 488.33 L120.49 488.04 L121.93 487.82 L123.66 487.67 L125.89 487.57 L130.37 487.54 L134.85 487.57 L137.08 487.67 L138.81 487.82 L140.25 488.04 L141.46 488.33 L142.48 488.69 L143.33 489.11 L144.02 489.62 L144.54 490.22 L144.92 490.95 L145.15 491.88 Z" fill="#7eb4ea" stroke="none" stroke-width="0" />
<path d="M143.32 493.69 L143.26 495.31 L143.06 496.12 L142.74 496.75 L142.28 497.27 L141.69 497.71 L140.95 498.08 L140.07 498.39 L139.01 498.64 L137.77 498.83 L136.27 498.96 L134.34 499.04 L130.45 499.07 L126.57 499.04 L124.64 498.96 L123.14 498.83 L121.89 498.64 L120.84 498.39 L119.96 498.08 L119.22 497.71 L118.63 497.27 L118.17 496.75 L117.84 496.12 L117.65 495.31 L117.58 493.69 L117.65 492.07 L117.84 491.26 L118.17 490.63 L118.63 490.11 L119.22 489.67 L119.96 489.30 L120.84 488.99 L121.89 488.74 L123.14 488.55 L124.64 488.42 L126.57 488.34 L130.45 488.31 L134.34 488.34 L136.27 488.42 L137.77 488.55 L139.01 488.74 L140.07 488.99 L140.95 489.30 L141.69 489.67 L142.28 490.11 L142.74 490.63 L143.06 491.26 L143.26 492.07 Z" fill="#80cfe2" stroke="none" stroke-width="0" />
<path d="M141.11 493.62 L141.06 494.95 L140.90 495.61 L140.63 496.13 L140.26 496.56 L139.77 496.92 L139.16 497.22 L138.44 497.47 L137.58 497.68 L136.55 497.84 L135.32 497.95 L133.74 498.01 L130.55 498.04 L127.36 498.01 L125.78 497.95 L124.55 497.84 L123.53 497.68 L122.67 497.47 L121.94 497.22 L121.34 496.92 L120.85 496.56 L120.47 496.13 L120.21 495.61 L120.05 494.95 L119.99 493.62 L120.05 492.29 L120.21 491.63 L120.47 491.11 L120.85 490.68 L121.34 490.32 L121.94 490.02 L122.67 489.77 L123.53 489.56 L124.55 489.40 L125.78 489.29 L127.36 489.23 L130.55 489.20 L133.74 489.23 L135.32 489.29 L136.55 489.40 L137.58 489.56 L138.44 489.77 L139.16 490.02 L139.77 490.32 L140.26 490.68 L140.63 491.11 L140.90 491.63 L141.06 492.29 Z" fill="#7ccf78" stroke="none" stroke-width="0" />
<path d="M138.58 493.54 L138.54 494.54 L138.42 495.04 L138.22 495.42 L137.94 495.74 L137.58 496.01 L137.12 496.24 L136.58 496.43 L135.93 496.58 L135.17 496.70 L134.24 496.79 L133.05 496.84 L130.66 496.85 L128.27 496.84 L127.09 496.79 L126.16 496.70 L125.40 496.58 L124.75 496.43 L124.20 496.24 L123.75 496.01 L123.39 495.74 L123.10 495.42 L122.90 495.04 L122.78 494.54 L122.74 493.54 L122.78 492.54 L122.90 492.04 L123.10 491.66 L123.39 491.34 L123.75 491.07 L124.20 490.84 L124.75 490.65 L125.40 490.50 L126.16 490.38 L127.09 490.29 L128.27 490.24 L130.66 490.23 L133.05 490.24 L134.24 490.29 L135.17 490.38 L135.93 490.50 L136.58 490.65 L137.12 490.84 L137.58 491.07 L137.94 491.34 L138.22 491.66 L138.42 492.04 L138.54 492.54 Z" fill="#c4df62" stroke="none" stroke-width="0" />
<path d="M136.37 493.47 L136.34 494.18 L136.26 494.53 L136.12 494.80 L135.92 495.03 L135.66 495.22 L135.34 495.38 L134.95 495.52 L134.49 495.63 L133.95 495.71 L133.30 495.77 L132.46 495.80 L130.76 495.82 L129.07 495.80 L128.23 495.77 L127.57 495.71 L127.03 495.63 L126.57 495.52 L126.19 495.38 L125.87 495.22 L125.61 495.03 L125.41 494.80 L125.27 494.53 L125.18 494.18 L125.15 493.47 L125.18 492.76 L125.27 492.41 L125.41 492.14 L125.61 491.91 L125.87 491.72 L126.19 491.56 L126.57 491.42 L127.03 491.31 L127.57 491.23 L128.23 491.17 L129.07 491.14 L130.76 491.12 L132.46 491.14 L133.30 491.17 L133.95 491.23 L134.49 491.31 L134.95 491.42 L135.34 491.56 L135.66 491.72 L135.92 491.91 L136.12 492.14 L136.26 492.41 L136.34 492.76 Z" fill="#f0e25c" stroke="none" stroke-width="0" />
<path d="M134.48 493.41 L134.46 493.87 L134.40 494.10 L134.31 494.27 L134.18 494.42 L134.01 494.54 L133.81 494.65 L133.56 494.73 L133.26 494.80 L132.91 494.86 L132.49 494.90 L131.94 494.92 L130.85 494.93 L129.75 494.92 L129.21 494.90 L128.78 494.86 L128.43 494.80 L128.14 494.73 L127.89 494.65 L127.68 494.54 L127.51 494.42 L127.38 494.27 L127.29 494.10 L127.23 493.87 L127.22 493.41 L127.23 492.95 L127.29 492.72 L127.38 492.55 L127.51 492.40 L127.68 492.28 L127.89 492.17 L128.14 492.09 L128.43 492.02 L128.78 491.96 L129.21 491.92 L129.75 491.90 L130.85 491.89 L131.94 491.90 L132.49 491.92 L132.91 491.96 L133.26 492.02 L133.56 492.09 L133.81 492.17 L134.01 492.28 L134.18 492.40 L134.31 492.55 L134.40 492.72 L134.46 492.95 Z" fill="#f3a23e" stroke="none" stroke-width="0" />
<path d="M132.74 493.36 L132.73 493.58 L132.70 493.70 L132.66 493.79 L132.59 493.86 L132.51 493.92 L132.40 493.97 L132.28 494.02 L132.13 494.05 L131.95 494.08 L131.74 494.10 L131.47 494.11 L130.92 494.11 L130.38 494.11 L130.10 494.10 L129.89 494.08 L129.72 494.05 L129.57 494.02 L129.44 493.97 L129.34 493.92 L129.26 493.86 L129.19 493.79 L129.14 493.70 L129.12 493.58 L129.11 493.36 L129.12 493.13 L129.14 493.01 L129.19 492.92 L129.26 492.85 L129.34 492.79 L129.44 492.74 L129.57 492.69 L129.72 492.66 L129.89 492.63 L130.10 492.61 L130.38 492.60 L130.92 492.60 L131.47 492.60 L131.74 492.61 L131.95 492.63 L132.13 492.66 L132.28 492.69 L132.40 492.74 L132.51 492.79 L132.59 492.85 L132.66 492.92 L132.70 493.01 L132.73 493.13 Z" fill="#e0382c" stroke="none" stroke-width="0" />
<line x1="130.5" y1="439.0" x2="130.5" y2="503.0" stroke="#333" stroke-width="1.0" />
<line x1="113.5" y1="486.4" x2="178.5" y2="486.4" stroke="#333" stroke-width="1.0" />
<rect x="113.5" y="439.0" width="65" height="64.0" stroke="#555" stroke-width="0.9" fill="none" />
<text x="0" y="0" font-size="9.8" text-anchor="start" fill="#1a1a1a" color="#1a1a1a" stroke-width="0.12" transform="translate(116.3 451.2) scale(1 1.12)">3.73</text>
<text x="0" y="0" font-size="9.8" text-anchor="end" fill="#1a1a1a" color="#1a1a1a" stroke-width="0.12" transform="translate(175.2 451.2) scale(1 1.12)">2.09</text>
<text x="0" y="0" font-size="9.8" text-anchor="end" fill="#1a1a1a" color="#1a1a1a" stroke-width="0.12" transform="translate(177.0 499.7) scale(1 1.12)">27.99</text>
<g fill="#b4b4b4"><rect x="188.2" y="499.8" width="1.6" height="2.4"/><rect x="191.0" y="500.6" width="1.5" height="0.7"/><rect x="188.2" y="484.8" width="1.6" height="2.4"/><rect x="191.0" y="485.6" width="1.5" height="0.7"/><rect x="188.2" y="469.8" width="1.6" height="2.4"/><rect x="191.0" y="470.6" width="1.5" height="0.7"/><rect x="188.2" y="454.8" width="1.6" height="2.4"/><rect x="191.0" y="455.6" width="1.5" height="0.7"/><rect x="188.2" y="439.8" width="1.6" height="2.4"/><rect x="191.0" y="440.6" width="1.5" height="0.7"/><rect x="192.9" y="505.2" width="3.2" height="1.4"/><rect x="194.2" y="503.0" width="0.7" height="1.5"/><rect x="208.2" y="505.2" width="3.2" height="1.4"/><rect x="209.4" y="503.0" width="0.7" height="1.5"/><rect x="223.4" y="505.2" width="3.2" height="1.4"/><rect x="224.7" y="503.0" width="0.7" height="1.5"/><rect x="238.7" y="505.2" width="3.2" height="1.4"/><rect x="239.9" y="503.0" width="0.7" height="1.5"/><rect x="253.9" y="505.2" width="3.2" height="1.4"/><rect x="255.2" y="503.0" width="0.7" height="1.5"/></g>
<g fill="#a4a4a4"><circle cx="221.6" cy="479.9" r="0.45"/><circle cx="228.9" cy="475.3" r="0.45"/><circle cx="222.7" cy="461.0" r="0.45"/><circle cx="232.8" cy="468.8" r="0.45"/><circle cx="210.9" cy="445.2" r="0.45"/><circle cx="213.3" cy="483.9" r="0.45"/><circle cx="222.1" cy="480.2" r="0.45"/><circle cx="213.2" cy="469.4" r="0.45"/><circle cx="205.6" cy="465.3" r="0.45"/><circle cx="230.4" cy="444.1" r="0.45"/><circle cx="216.4" cy="484.7" r="0.45"/><circle cx="208.6" cy="481.0" r="0.45"/><circle cx="211.4" cy="484.6" r="0.45"/><circle cx="213.1" cy="481.8" r="0.45"/><circle cx="202.4" cy="450.6" r="0.45"/><circle cx="224.3" cy="477.6" r="0.45"/><circle cx="220.1" cy="468.1" r="0.45"/><circle cx="215.7" cy="466.8" r="0.45"/><circle cx="225.1" cy="451.6" r="0.45"/><circle cx="199.5" cy="457.9" r="0.45"/><circle cx="227.3" cy="461.8" r="0.45"/><circle cx="220.6" cy="483.3" r="0.45"/><circle cx="203.6" cy="445.9" r="0.45"/><circle cx="230.6" cy="465.4" r="0.45"/><circle cx="200.0" cy="481.9" r="0.45"/><circle cx="206.4" cy="460.7" r="0.45"/><circle cx="216.6" cy="450.5" r="0.45"/><circle cx="235.4" cy="463.9" r="0.45"/><circle cx="201.0" cy="457.5" r="0.45"/><circle cx="224.1" cy="474.4" r="0.45"/><circle cx="209.1" cy="485.1" r="0.45"/><circle cx="214.1" cy="472.2" r="0.45"/><circle cx="219.2" cy="458.2" r="0.45"/><circle cx="220.5" cy="468.7" r="0.45"/><circle cx="209.1" cy="465.1" r="0.45"/><circle cx="216.0" cy="471.9" r="0.45"/><circle cx="207.7" cy="482.9" r="0.45"/><circle cx="213.9" cy="456.2" r="0.45"/><circle cx="213.0" cy="456.9" r="0.45"/><circle cx="232.5" cy="474.8" r="0.45"/><circle cx="206.7" cy="458.2" r="0.45"/><circle cx="210.9" cy="484.9" r="0.45"/><circle cx="233.4" cy="459.7" r="0.45"/><circle cx="224.7" cy="454.7" r="0.45"/><circle cx="214.6" cy="459.9" r="0.45"/><circle cx="213.7" cy="476.0" r="0.45"/><circle cx="228.8" cy="470.2" r="0.45"/><circle cx="223.7" cy="457.5" r="0.45"/><circle cx="211.4" cy="471.1" r="0.45"/><circle cx="220.5" cy="449.1" r="0.45"/><circle cx="210.8" cy="461.5" r="0.45"/><circle cx="207.3" cy="480.0" r="0.45"/><circle cx="224.3" cy="459.8" r="0.45"/><circle cx="217.1" cy="485.7" r="0.45"/><circle cx="218.1" cy="452.9" r="0.45"/><circle cx="216.7" cy="465.3" r="0.45"/><circle cx="213.7" cy="480.2" r="0.45"/><circle cx="225.6" cy="467.7" r="0.45"/><circle cx="199.6" cy="484.1" r="0.45"/><circle cx="213.2" cy="460.9" r="0.45"/><circle cx="217.9" cy="478.9" r="0.45"/><circle cx="219.9" cy="463.8" r="0.45"/><circle cx="208.2" cy="471.1" r="0.45"/><circle cx="210.9" cy="467.1" r="0.45"/><circle cx="219.2" cy="469.9" r="0.45"/><circle cx="210.6" cy="472.5" r="0.45"/><circle cx="223.3" cy="475.6" r="0.45"/><circle cx="217.5" cy="484.7" r="0.45"/><circle cx="225.5" cy="480.2" r="0.45"/><circle cx="207.6" cy="473.2" r="0.45"/><circle cx="213.5" cy="465.4" r="0.45"/><circle cx="212.5" cy="474.8" r="0.45"/><circle cx="215.4" cy="466.0" r="0.45"/><circle cx="212.8" cy="478.1" r="0.45"/><circle cx="209.0" cy="470.7" r="0.45"/><circle cx="214.0" cy="468.3" r="0.45"/><circle cx="207.9" cy="478.9" r="0.45"/><circle cx="225.0" cy="470.3" r="0.45"/><circle cx="220.5" cy="450.3" r="0.45"/><circle cx="204.5" cy="468.3" r="0.45"/><circle cx="218.8" cy="466.6" r="0.45"/><circle cx="220.2" cy="479.1" r="0.45"/><circle cx="206.2" cy="476.8" r="0.45"/><circle cx="198.0" cy="454.4" r="0.45"/><circle cx="213.7" cy="477.1" r="0.45"/><circle cx="201.1" cy="453.4" r="0.45"/><circle cx="233.7" cy="485.8" r="0.45"/><circle cx="215.4" cy="481.4" r="0.45"/><circle cx="238.7" cy="485.1" r="0.45"/><circle cx="218.5" cy="449.5" r="0.45"/><circle cx="230.4" cy="474.6" r="0.45"/><circle cx="224.8" cy="458.1" r="0.45"/><circle cx="201.2" cy="474.7" r="0.45"/><circle cx="213.6" cy="451.5" r="0.45"/><circle cx="220.1" cy="461.4" r="0.45"/><circle cx="214.3" cy="462.3" r="0.45"/><circle cx="209.2" cy="448.6" r="0.45"/><circle cx="217.5" cy="480.7" r="0.45"/><circle cx="217.1" cy="476.0" r="0.45"/><circle cx="223.0" cy="461.5" r="0.45"/><circle cx="217.3" cy="482.5" r="0.45"/><circle cx="224.2" cy="473.8" r="0.45"/><circle cx="201.7" cy="463.9" r="0.45"/><circle cx="202.9" cy="453.3" r="0.45"/><circle cx="202.2" cy="478.5" r="0.45"/><circle cx="197.8" cy="475.2" r="0.45"/><circle cx="209.1" cy="464.9" r="0.45"/><circle cx="220.2" cy="474.2" r="0.45"/><circle cx="215.7" cy="481.5" r="0.45"/><circle cx="199.4" cy="480.3" r="0.45"/><circle cx="208.2" cy="469.9" r="0.45"/><circle cx="218.2" cy="474.0" r="0.45"/><circle cx="227.3" cy="472.9" r="0.45"/><circle cx="204.9" cy="484.3" r="0.45"/><circle cx="223.4" cy="465.6" r="0.45"/><circle cx="208.6" cy="477.1" r="0.45"/><circle cx="205.9" cy="458.1" r="0.45"/><circle cx="203.1" cy="474.1" r="0.45"/><circle cx="210.3" cy="455.2" r="0.45"/><circle cx="207.9" cy="445.0" r="0.45"/><circle cx="213.7" cy="485.6" r="0.45"/><circle cx="201.6" cy="479.6" r="0.45"/><circle cx="222.4" cy="478.1" r="0.45"/><circle cx="211.5" cy="483.0" r="0.45"/><circle cx="218.1" cy="475.9" r="0.45"/><circle cx="217.3" cy="477.3" r="0.45"/><circle cx="204.0" cy="484.8" r="0.45"/><circle cx="199.2" cy="463.0" r="0.45"/><circle cx="215.8" cy="479.7" r="0.45"/><circle cx="224.2" cy="454.0" r="0.45"/><circle cx="196.1" cy="447.9" r="0.45"/><circle cx="216.2" cy="479.1" r="0.45"/><circle cx="208.3" cy="470.1" r="0.45"/><circle cx="234.7" cy="469.1" r="0.45"/><circle cx="223.8" cy="459.9" r="0.45"/><circle cx="222.1" cy="483.0" r="0.45"/><circle cx="218.9" cy="470.6" r="0.45"/><circle cx="230.0" cy="483.8" r="0.45"/><circle cx="211.2" cy="480.8" r="0.45"/><circle cx="206.6" cy="473.6" r="0.45"/><circle cx="207.6" cy="465.7" r="0.45"/><circle cx="212.5" cy="477.7" r="0.45"/><circle cx="198.6" cy="457.8" r="0.45"/><circle cx="235.2" cy="453.6" r="0.45"/><circle cx="238.0" cy="478.7" r="0.45"/><circle cx="223.3" cy="455.6" r="0.45"/><circle cx="233.1" cy="456.9" r="0.45"/><circle cx="209.3" cy="476.4" r="0.45"/><circle cx="212.6" cy="481.0" r="0.45"/><circle cx="199.1" cy="475.6" r="0.45"/><circle cx="228.0" cy="480.7" r="0.45"/><circle cx="217.5" cy="445.3" r="0.45"/><circle cx="209.3" cy="475.0" r="0.45"/><circle cx="223.3" cy="480.2" r="0.45"/><circle cx="213.8" cy="478.8" r="0.45"/><circle cx="199.9" cy="485.1" r="0.45"/><circle cx="213.9" cy="461.4" r="0.45"/><circle cx="213.4" cy="448.5" r="0.45"/><circle cx="220.9" cy="468.5" r="0.45"/><circle cx="224.5" cy="466.8" r="0.45"/><circle cx="217.4" cy="485.1" r="0.45"/><circle cx="205.6" cy="446.3" r="0.45"/><circle cx="207.1" cy="476.8" r="0.45"/><circle cx="221.8" cy="466.4" r="0.45"/><circle cx="214.1" cy="482.6" r="0.45"/><circle cx="227.6" cy="453.4" r="0.45"/><circle cx="206.9" cy="451.8" r="0.45"/><circle cx="212.5" cy="477.9" r="0.45"/><circle cx="221.6" cy="470.8" r="0.45"/><circle cx="206.9" cy="473.6" r="0.45"/><circle cx="214.1" cy="485.4" r="0.45"/><circle cx="214.5" cy="476.3" r="0.45"/><circle cx="232.5" cy="464.6" r="0.45"/><circle cx="231.4" cy="472.1" r="0.45"/><circle cx="201.2" cy="475.6" r="0.45"/><circle cx="208.8" cy="452.9" r="0.45"/><circle cx="213.5" cy="449.0" r="0.45"/><circle cx="207.8" cy="468.3" r="0.45"/><circle cx="204.9" cy="470.3" r="0.45"/><circle cx="197.5" cy="455.5" r="0.45"/><circle cx="202.8" cy="466.2" r="0.45"/><circle cx="232.2" cy="469.2" r="0.45"/><circle cx="215.6" cy="475.5" r="0.45"/><circle cx="218.6" cy="478.1" r="0.45"/><circle cx="216.3" cy="484.9" r="0.45"/><circle cx="231.1" cy="469.4" r="0.45"/><circle cx="235.4" cy="455.6" r="0.45"/><circle cx="228.1" cy="468.5" r="0.45"/><circle cx="215.8" cy="483.8" r="0.45"/><circle cx="219.7" cy="464.6" r="0.45"/><circle cx="220.6" cy="477.7" r="0.45"/><circle cx="223.4" cy="481.4" r="0.45"/><circle cx="220.6" cy="485.5" r="0.45"/><circle cx="201.6" cy="461.6" r="0.45"/><circle cx="210.3" cy="474.6" r="0.45"/><circle cx="234.9" cy="485.1" r="0.45"/><circle cx="219.7" cy="475.8" r="0.45"/><circle cx="216.7" cy="467.6" r="0.45"/><circle cx="214.7" cy="461.9" r="0.45"/><circle cx="224.5" cy="459.4" r="0.45"/><circle cx="209.5" cy="463.5" r="0.45"/><circle cx="212.3" cy="468.1" r="0.45"/><circle cx="217.0" cy="478.2" r="0.45"/><circle cx="226.8" cy="458.4" r="0.45"/><circle cx="201.6" cy="467.5" r="0.45"/><circle cx="209.0" cy="476.9" r="0.45"/><circle cx="203.6" cy="452.1" r="0.45"/><circle cx="216.3" cy="482.7" r="0.45"/><circle cx="214.2" cy="455.4" r="0.45"/><circle cx="218.1" cy="466.1" r="0.45"/><circle cx="216.7" cy="446.9" r="0.45"/><circle cx="205.9" cy="478.6" r="0.45"/><circle cx="211.5" cy="454.4" r="0.45"/><circle cx="227.5" cy="448.8" r="0.45"/><circle cx="208.0" cy="479.6" r="0.45"/><circle cx="210.1" cy="448.2" r="0.45"/><circle cx="199.8" cy="485.4" r="0.45"/><circle cx="225.5" cy="458.7" r="0.45"/><circle cx="216.9" cy="483.1" r="0.45"/><circle cx="197.6" cy="478.9" r="0.45"/><circle cx="237.2" cy="472.9" r="0.45"/><circle cx="229.1" cy="477.3" r="0.45"/><circle cx="203.1" cy="471.7" r="0.45"/><circle cx="221.8" cy="477.1" r="0.45"/><circle cx="201.3" cy="454.7" r="0.45"/><circle cx="203.0" cy="478.9" r="0.45"/><circle cx="212.8" cy="473.1" r="0.45"/><circle cx="234.7" cy="456.8" r="0.45"/><circle cx="205.1" cy="484.5" r="0.45"/><circle cx="199.9" cy="482.6" r="0.45"/><circle cx="213.3" cy="481.0" r="0.45"/><circle cx="221.4" cy="484.3" r="0.45"/><circle cx="230.5" cy="478.6" r="0.45"/><circle cx="222.9" cy="462.7" r="0.45"/><circle cx="219.4" cy="451.4" r="0.45"/><circle cx="231.6" cy="485.4" r="0.45"/><circle cx="212.1" cy="482.2" r="0.45"/><circle cx="224.4" cy="478.7" r="0.45"/><circle cx="208.4" cy="467.5" r="0.45"/><circle cx="200.2" cy="482.6" r="0.45"/><circle cx="229.6" cy="458.6" r="0.45"/><circle cx="220.9" cy="485.2" r="0.45"/><circle cx="228.3" cy="479.4" r="0.45"/><circle cx="222.9" cy="479.6" r="0.45"/><circle cx="217.0" cy="451.8" r="0.45"/><circle cx="224.5" cy="462.0" r="0.45"/><circle cx="200.0" cy="474.0" r="0.45"/><circle cx="238.7" cy="451.3" r="0.45"/><circle cx="224.3" cy="485.2" r="0.45"/><circle cx="199.2" cy="473.2" r="0.45"/><circle cx="211.4" cy="477.4" r="0.45"/><circle cx="228.3" cy="459.6" r="0.45"/><circle cx="225.5" cy="475.8" r="0.45"/><circle cx="218.7" cy="472.8" r="0.45"/><circle cx="222.8" cy="457.8" r="0.45"/><circle cx="226.4" cy="475.0" r="0.45"/><circle cx="229.3" cy="486.0" r="0.45"/><circle cx="218.8" cy="475.3" r="0.45"/><circle cx="241.1" cy="472.1" r="0.45"/><circle cx="205.4" cy="480.0" r="0.45"/><circle cx="238.7" cy="465.0" r="0.45"/><circle cx="221.2" cy="461.7" r="0.45"/><circle cx="231.6" cy="473.4" r="0.45"/><circle cx="226.4" cy="457.1" r="0.45"/><circle cx="240.6" cy="466.3" r="0.45"/><circle cx="212.2" cy="458.7" r="0.45"/><circle cx="195.7" cy="461.5" r="0.45"/><circle cx="234.3" cy="449.1" r="0.45"/><circle cx="201.4" cy="457.6" r="0.45"/><circle cx="199.5" cy="475.5" r="0.45"/><circle cx="198.5" cy="462.3" r="0.45"/><circle cx="221.0" cy="476.2" r="0.45"/><circle cx="215.8" cy="475.3" r="0.45"/><circle cx="223.3" cy="447.2" r="0.45"/><circle cx="210.8" cy="449.2" r="0.45"/><circle cx="214.8" cy="455.3" r="0.45"/><circle cx="219.1" cy="482.2" r="0.45"/><circle cx="234.3" cy="449.3" r="0.45"/><circle cx="206.4" cy="471.6" r="0.45"/><circle cx="196.5" cy="464.8" r="0.45"/><circle cx="208.2" cy="460.1" r="0.45"/><circle cx="211.4" cy="461.4" r="0.45"/><circle cx="231.7" cy="464.7" r="0.45"/><circle cx="206.9" cy="481.8" r="0.45"/><circle cx="214.0" cy="446.9" r="0.45"/><circle cx="199.2" cy="476.3" r="0.45"/><circle cx="200.4" cy="477.5" r="0.45"/><circle cx="203.8" cy="454.2" r="0.45"/><circle cx="224.5" cy="466.2" r="0.45"/><circle cx="199.4" cy="476.5" r="0.45"/><circle cx="224.4" cy="466.2" r="0.45"/><circle cx="206.3" cy="473.8" r="0.45"/><circle cx="216.4" cy="473.7" r="0.45"/><circle cx="208.4" cy="472.1" r="0.45"/><circle cx="212.6" cy="465.0" r="0.45"/><circle cx="214.5" cy="449.6" r="0.45"/><circle cx="222.9" cy="484.7" r="0.45"/><circle cx="219.7" cy="477.4" r="0.45"/><circle cx="221.7" cy="468.4" r="0.45"/><circle cx="209.4" cy="482.6" r="0.45"/></g>
<path d="M195.00 492.50 C195.25 491.08 196.83 489.25 198.50 488.00 C200.17 486.75 202.25 485.70 205.00 485.00 C207.75 484.30 211.17 483.97 215.00 483.80 C218.83 483.63 224.17 483.72 228.00 484.00 C231.83 484.28 235.75 484.67 238.00 485.50 C240.25 486.33 241.33 487.50 241.50 489.00 C241.67 490.50 240.92 492.87 239.00 494.50 C237.08 496.13 233.83 497.85 230.00 498.80 C226.17 499.75 220.50 500.07 216.00 500.20 C211.50 500.33 206.17 500.22 203.00 499.60 C199.83 498.98 198.33 497.68 197.00 496.50 C195.67 495.32 194.75 493.92 195.00 492.50 Z" fill="#a8c4ee" stroke="#4050a0" stroke-width="0.5" />
<path d="M197.14 492.45 C197.36 491.17 198.79 489.52 200.29 488.40 C201.79 487.27 203.66 486.33 206.14 485.70 C208.61 485.07 211.69 484.77 215.14 484.62 C218.59 484.47 223.39 484.55 226.84 484.80 C230.29 485.06 233.81 485.40 235.84 486.15 C237.87 486.90 238.84 487.95 238.99 489.30 C239.14 490.65 238.47 492.78 236.74 494.25 C235.02 495.72 232.09 497.26 228.64 498.12 C225.19 498.98 220.09 499.26 216.04 499.38 C211.99 499.50 207.19 499.40 204.34 498.84 C201.49 498.29 200.14 497.12 198.94 496.05 C197.74 494.99 196.91 493.73 197.14 492.45 Z" fill="#8ccdea" stroke="none" stroke-width="0" />
<path d="M200.14 492.38 C200.33 491.30 201.53 489.91 202.80 488.96 C204.06 488.01 205.65 487.21 207.74 486.68 C209.83 486.15 212.42 485.89 215.34 485.77 C218.25 485.64 222.30 485.70 225.22 485.92 C228.13 486.14 231.11 486.43 232.82 487.06 C234.53 487.69 235.35 488.58 235.48 489.72 C235.60 490.86 235.03 492.66 233.58 493.90 C232.12 495.14 229.65 496.45 226.74 497.17 C223.82 497.89 219.52 498.13 216.10 498.23 C212.68 498.33 208.62 498.24 206.22 497.78 C203.81 497.31 202.67 496.32 201.66 495.42 C200.64 494.52 199.95 493.46 200.14 492.38 Z" fill="#80d0c8" stroke="none" stroke-width="0" />
<path d="M203.13 492.31 C203.29 491.43 204.27 490.29 205.30 489.52 C206.34 488.75 207.63 488.09 209.33 487.66 C211.04 487.23 213.16 487.02 215.53 486.92 C217.91 486.81 221.22 486.86 223.59 487.04 C225.97 487.22 228.40 487.45 229.79 487.97 C231.19 488.49 231.86 489.21 231.96 490.14 C232.07 491.07 231.60 492.54 230.41 493.55 C229.22 494.56 227.21 495.63 224.83 496.22 C222.46 496.81 218.94 497.00 216.15 497.08 C213.36 497.17 210.06 497.09 208.09 496.71 C206.13 496.33 205.20 495.52 204.37 494.79 C203.55 494.06 202.98 493.19 203.13 492.31 Z" fill="#7ccf74" stroke="none" stroke-width="0" />
<path d="M206.56 492.23 C206.67 491.58 207.40 490.74 208.17 490.16 C208.93 489.59 209.89 489.10 211.16 488.78 C212.42 488.46 213.99 488.30 215.76 488.23 C217.52 488.15 219.97 488.19 221.74 488.32 C223.50 488.45 225.30 488.63 226.34 489.01 C227.37 489.39 227.87 489.93 227.95 490.62 C228.02 491.31 227.68 492.40 226.80 493.15 C225.91 493.90 224.42 494.69 222.66 495.13 C220.89 495.56 218.29 495.71 216.22 495.77 C214.15 495.83 211.69 495.78 210.24 495.50 C208.78 495.21 208.09 494.61 207.48 494.07 C206.86 493.53 206.44 492.88 206.56 492.23 Z" fill="#c4df62" stroke="none" stroke-width="0" />
<path d="M209.55 492.16 C209.63 491.71 210.14 491.12 210.67 490.72 C211.21 490.32 211.87 489.98 212.75 489.76 C213.63 489.54 214.73 489.43 215.95 489.38 C217.18 489.32 218.89 489.35 220.11 489.44 C221.34 489.53 222.59 489.65 223.31 489.92 C224.03 490.19 224.38 490.56 224.43 491.04 C224.49 491.52 224.25 492.28 223.63 492.80 C223.02 493.32 221.98 493.87 220.75 494.18 C219.53 494.48 217.71 494.58 216.27 494.62 C214.83 494.67 213.13 494.63 212.11 494.43 C211.10 494.23 210.62 493.82 210.19 493.44 C209.77 493.06 209.47 492.61 209.55 492.16 Z" fill="#f0e25c" stroke="none" stroke-width="0" />
<path d="M212.12 492.10 C212.17 491.82 212.49 491.45 212.82 491.20 C213.15 490.95 213.57 490.74 214.12 490.60 C214.67 490.46 215.35 490.39 216.12 490.36 C216.89 490.33 217.95 490.34 218.72 490.40 C219.49 490.46 220.27 490.53 220.72 490.70 C221.17 490.87 221.39 491.10 221.42 491.40 C221.45 491.70 221.30 492.17 220.92 492.50 C220.54 492.83 219.89 493.17 219.12 493.36 C218.35 493.55 217.22 493.61 216.32 493.64 C215.42 493.67 214.35 493.64 213.72 493.52 C213.09 493.40 212.79 493.14 212.52 492.90 C212.25 492.66 212.07 492.38 212.12 492.10 Z" fill="#f3a23e" stroke="none" stroke-width="0" />
<path d="M214.26 492.05 C214.28 491.91 214.44 491.73 214.61 491.60 C214.78 491.48 214.98 491.37 215.26 491.30 C215.53 491.23 215.88 491.20 216.26 491.18 C216.64 491.16 217.18 491.17 217.56 491.20 C217.94 491.23 218.34 491.27 218.56 491.35 C218.78 491.43 218.89 491.55 218.91 491.70 C218.93 491.85 218.85 492.09 218.66 492.25 C218.47 492.41 218.14 492.59 217.76 492.68 C217.38 492.77 216.81 492.81 216.36 492.82 C215.91 492.83 215.38 492.82 215.06 492.76 C214.74 492.70 214.59 492.57 214.46 492.45 C214.33 492.33 214.23 492.19 214.26 492.05 Z" fill="#e0382c" stroke="none" stroke-width="0" />
<path d="M197.14 492.45 C197.36 491.17 198.79 489.52 200.29 488.40 C201.79 487.27 203.66 486.33 206.14 485.70 C208.61 485.07 211.69 484.77 215.14 484.62 C218.59 484.47 223.39 484.55 226.84 484.80 C230.29 485.06 233.81 485.40 235.84 486.15 C237.87 486.90 238.84 487.95 238.99 489.30 C239.14 490.65 238.47 492.78 236.74 494.25 C235.02 495.72 232.09 497.26 228.64 498.12 C225.19 498.98 220.09 499.26 216.04 499.38 C211.99 499.50 207.19 499.40 204.34 498.84 C201.49 498.29 200.14 497.12 198.94 496.05 C197.74 494.99 196.91 493.73 197.14 492.45 Z" fill="none" stroke="#3a5aa8" stroke-width="0.4" />
<line x1="208.6" y1="439.0" x2="208.6" y2="503.0" stroke="#333" stroke-width="1.0" />
<line x1="192.5" y1="486.4" x2="257.5" y2="486.4" stroke="#333" stroke-width="1.0" />
<rect x="192.5" y="439.0" width="65" height="64.0" stroke="#555" stroke-width="0.9" fill="none" />
<text x="0" y="0" font-size="9.8" text-anchor="start" fill="#1a1a1a" color="#1a1a1a" stroke-width="0.12" transform="translate(195.3 451.2) scale(1 1.12)">2.60</text>
<text x="0" y="0" font-size="9.8" text-anchor="end" fill="#1a1a1a" color="#1a1a1a" stroke-width="0.12" transform="translate(254.2 451.2) scale(1 1.12)">3.55</text>
<text x="0" y="0" font-size="9.8" text-anchor="end" fill="#1a1a1a" color="#1a1a1a" stroke-width="0.12" transform="translate(256.0 499.7) scale(1 1.12)">42.67</text>
<g fill="#b4b4b4"><rect x="268.2" y="499.8" width="1.6" height="2.4"/><rect x="271.0" y="500.6" width="1.5" height="0.7"/><rect x="268.2" y="484.8" width="1.6" height="2.4"/><rect x="271.0" y="485.6" width="1.5" height="0.7"/><rect x="268.2" y="469.8" width="1.6" height="2.4"/><rect x="271.0" y="470.6" width="1.5" height="0.7"/><rect x="268.2" y="454.8" width="1.6" height="2.4"/><rect x="271.0" y="455.6" width="1.5" height="0.7"/><rect x="268.2" y="439.8" width="1.6" height="2.4"/><rect x="271.0" y="440.6" width="1.5" height="0.7"/><rect x="272.9" y="505.2" width="3.2" height="1.4"/><rect x="274.1" y="503.0" width="0.7" height="1.5"/><rect x="288.1" y="505.2" width="3.2" height="1.4"/><rect x="289.4" y="503.0" width="0.7" height="1.5"/><rect x="303.4" y="505.2" width="3.2" height="1.4"/><rect x="304.6" y="503.0" width="0.7" height="1.5"/><rect x="318.6" y="505.2" width="3.2" height="1.4"/><rect x="319.9" y="503.0" width="0.7" height="1.5"/><rect x="333.9" y="505.2" width="3.2" height="1.4"/><rect x="335.1" y="503.0" width="0.7" height="1.5"/></g>
<g fill="#a4a4a4"><circle cx="289.0" cy="482.0" r="0.45"/><circle cx="310.4" cy="478.1" r="0.45"/><circle cx="298.6" cy="481.9" r="0.45"/><circle cx="303.6" cy="480.8" r="0.45"/><circle cx="299.0" cy="465.8" r="0.45"/><circle cx="322.2" cy="470.6" r="0.45"/><circle cx="298.1" cy="465.9" r="0.45"/><circle cx="310.7" cy="468.4" r="0.45"/><circle cx="286.7" cy="449.8" r="0.45"/><circle cx="292.9" cy="475.2" r="0.45"/><circle cx="300.8" cy="468.5" r="0.45"/><circle cx="303.9" cy="465.0" r="0.45"/><circle cx="316.2" cy="474.3" r="0.45"/><circle cx="304.9" cy="452.5" r="0.45"/><circle cx="317.5" cy="448.4" r="0.45"/><circle cx="313.3" cy="467.7" r="0.45"/><circle cx="286.4" cy="472.8" r="0.45"/><circle cx="303.8" cy="485.5" r="0.45"/><circle cx="284.4" cy="470.1" r="0.45"/><circle cx="298.7" cy="475.1" r="0.45"/><circle cx="300.0" cy="461.5" r="0.45"/><circle cx="308.9" cy="470.2" r="0.45"/><circle cx="286.1" cy="457.7" r="0.45"/><circle cx="302.7" cy="482.9" r="0.45"/><circle cx="300.9" cy="458.7" r="0.45"/><circle cx="321.4" cy="466.5" r="0.45"/><circle cx="312.9" cy="451.3" r="0.45"/><circle cx="316.4" cy="470.9" r="0.45"/><circle cx="310.0" cy="448.3" r="0.45"/><circle cx="302.8" cy="484.2" r="0.45"/><circle cx="284.4" cy="460.6" r="0.45"/><circle cx="321.4" cy="466.7" r="0.45"/><circle cx="301.9" cy="482.3" r="0.45"/><circle cx="298.0" cy="458.5" r="0.45"/><circle cx="310.5" cy="456.7" r="0.45"/><circle cx="299.2" cy="473.0" r="0.45"/><circle cx="288.8" cy="484.9" r="0.45"/><circle cx="313.3" cy="459.6" r="0.45"/><circle cx="299.3" cy="481.0" r="0.45"/><circle cx="299.1" cy="473.3" r="0.45"/><circle cx="284.5" cy="474.4" r="0.45"/><circle cx="290.7" cy="480.4" r="0.45"/><circle cx="300.5" cy="475.0" r="0.45"/><circle cx="294.3" cy="469.0" r="0.45"/><circle cx="288.6" cy="479.7" r="0.45"/><circle cx="312.6" cy="479.9" r="0.45"/><circle cx="295.6" cy="461.7" r="0.45"/><circle cx="302.2" cy="481.4" r="0.45"/><circle cx="293.0" cy="474.1" r="0.45"/><circle cx="299.9" cy="457.8" r="0.45"/><circle cx="300.7" cy="452.0" r="0.45"/><circle cx="312.9" cy="461.8" r="0.45"/><circle cx="319.4" cy="460.4" r="0.45"/><circle cx="285.1" cy="472.1" r="0.45"/><circle cx="303.0" cy="476.1" r="0.45"/><circle cx="306.3" cy="473.4" r="0.45"/><circle cx="294.5" cy="480.5" r="0.45"/><circle cx="306.4" cy="464.7" r="0.45"/><circle cx="298.9" cy="453.4" r="0.45"/><circle cx="300.3" cy="478.4" r="0.45"/><circle cx="278.4" cy="483.5" r="0.45"/><circle cx="295.2" cy="467.8" r="0.45"/><circle cx="291.1" cy="468.3" r="0.45"/><circle cx="292.2" cy="482.5" r="0.45"/><circle cx="287.5" cy="455.0" r="0.45"/><circle cx="308.9" cy="470.0" r="0.45"/><circle cx="305.3" cy="473.0" r="0.45"/><circle cx="293.8" cy="472.3" r="0.45"/><circle cx="313.4" cy="480.8" r="0.45"/><circle cx="293.7" cy="467.5" r="0.45"/><circle cx="296.9" cy="464.1" r="0.45"/><circle cx="302.4" cy="458.4" r="0.45"/><circle cx="289.9" cy="469.9" r="0.45"/><circle cx="302.7" cy="460.4" r="0.45"/><circle cx="296.1" cy="467.2" r="0.45"/><circle cx="302.6" cy="455.6" r="0.45"/><circle cx="307.8" cy="467.8" r="0.45"/><circle cx="286.1" cy="463.4" r="0.45"/><circle cx="310.4" cy="484.1" r="0.45"/><circle cx="280.3" cy="480.0" r="0.45"/><circle cx="300.4" cy="468.5" r="0.45"/><circle cx="295.7" cy="474.2" r="0.45"/><circle cx="302.1" cy="461.4" r="0.45"/><circle cx="311.1" cy="465.1" r="0.45"/><circle cx="293.2" cy="473.2" r="0.45"/><circle cx="302.2" cy="484.4" r="0.45"/><circle cx="317.2" cy="467.7" r="0.45"/><circle cx="288.8" cy="467.4" r="0.45"/><circle cx="290.5" cy="482.4" r="0.45"/><circle cx="286.9" cy="470.7" r="0.45"/><circle cx="301.0" cy="472.6" r="0.45"/><circle cx="305.7" cy="482.6" r="0.45"/><circle cx="289.1" cy="471.5" r="0.45"/><circle cx="298.7" cy="468.2" r="0.45"/><circle cx="283.8" cy="479.9" r="0.45"/><circle cx="293.5" cy="484.2" r="0.45"/><circle cx="322.3" cy="455.6" r="0.45"/><circle cx="283.8" cy="460.2" r="0.45"/><circle cx="285.1" cy="471.3" r="0.45"/><circle cx="295.4" cy="475.4" r="0.45"/><circle cx="298.9" cy="476.5" r="0.45"/><circle cx="288.2" cy="455.8" r="0.45"/><circle cx="317.7" cy="481.5" r="0.45"/><circle cx="303.6" cy="475.9" r="0.45"/><circle cx="295.1" cy="467.0" r="0.45"/><circle cx="300.5" cy="469.8" r="0.45"/><circle cx="285.6" cy="465.8" r="0.45"/><circle cx="288.0" cy="479.3" r="0.45"/><circle cx="288.1" cy="483.4" r="0.45"/><circle cx="297.6" cy="484.1" r="0.45"/><circle cx="308.9" cy="452.2" r="0.45"/><circle cx="284.9" cy="475.0" r="0.45"/><circle cx="292.2" cy="452.9" r="0.45"/><circle cx="311.8" cy="469.4" r="0.45"/><circle cx="287.3" cy="466.1" r="0.45"/><circle cx="290.7" cy="464.0" r="0.45"/><circle cx="300.3" cy="480.3" r="0.45"/><circle cx="288.7" cy="471.1" r="0.45"/><circle cx="297.8" cy="468.4" r="0.45"/><circle cx="287.7" cy="467.1" r="0.45"/><circle cx="280.0" cy="452.6" r="0.45"/><circle cx="314.7" cy="481.4" r="0.45"/><circle cx="290.2" cy="479.2" r="0.45"/><circle cx="320.3" cy="476.7" r="0.45"/><circle cx="280.1" cy="472.6" r="0.45"/><circle cx="308.1" cy="473.6" r="0.45"/><circle cx="300.7" cy="470.4" r="0.45"/><circle cx="312.5" cy="468.3" r="0.45"/><circle cx="300.8" cy="456.1" r="0.45"/><circle cx="301.0" cy="481.1" r="0.45"/><circle cx="303.9" cy="465.5" r="0.45"/><circle cx="309.2" cy="481.5" r="0.45"/><circle cx="313.9" cy="473.8" r="0.45"/><circle cx="288.2" cy="459.9" r="0.45"/><circle cx="314.9" cy="460.2" r="0.45"/><circle cx="293.6" cy="448.3" r="0.45"/><circle cx="287.6" cy="474.1" r="0.45"/><circle cx="307.5" cy="468.8" r="0.45"/><circle cx="282.6" cy="470.5" r="0.45"/><circle cx="277.4" cy="469.0" r="0.45"/><circle cx="302.2" cy="478.3" r="0.45"/><circle cx="300.3" cy="477.0" r="0.45"/><circle cx="300.8" cy="477.2" r="0.45"/><circle cx="291.9" cy="463.0" r="0.45"/><circle cx="297.9" cy="480.1" r="0.45"/><circle cx="305.4" cy="472.8" r="0.45"/><circle cx="303.4" cy="476.6" r="0.45"/><circle cx="311.1" cy="473.3" r="0.45"/><circle cx="299.4" cy="477.2" r="0.45"/><circle cx="275.5" cy="463.9" r="0.45"/><circle cx="282.0" cy="478.7" r="0.45"/><circle cx="293.7" cy="486.0" r="0.45"/><circle cx="310.1" cy="471.0" r="0.45"/><circle cx="296.9" cy="468.0" r="0.45"/><circle cx="294.2" cy="475.0" r="0.45"/><circle cx="305.7" cy="448.6" r="0.45"/><circle cx="276.5" cy="481.3" r="0.45"/><circle cx="307.3" cy="477.5" r="0.45"/><circle cx="296.0" cy="465.8" r="0.45"/><circle cx="310.4" cy="465.0" r="0.45"/><circle cx="309.6" cy="468.9" r="0.45"/><circle cx="298.0" cy="450.4" r="0.45"/><circle cx="304.0" cy="466.5" r="0.45"/><circle cx="291.9" cy="485.8" r="0.45"/><circle cx="281.3" cy="456.5" r="0.45"/><circle cx="283.7" cy="481.3" r="0.45"/><circle cx="292.0" cy="483.3" r="0.45"/><circle cx="299.2" cy="456.3" r="0.45"/><circle cx="281.9" cy="458.9" r="0.45"/><circle cx="314.9" cy="460.8" r="0.45"/><circle cx="305.3" cy="476.3" r="0.45"/><circle cx="296.9" cy="465.1" r="0.45"/><circle cx="290.1" cy="475.0" r="0.45"/><circle cx="291.7" cy="485.8" r="0.45"/><circle cx="301.3" cy="459.2" r="0.45"/><circle cx="294.9" cy="480.6" r="0.45"/><circle cx="301.2" cy="477.7" r="0.45"/><circle cx="293.6" cy="468.0" r="0.45"/><circle cx="294.7" cy="472.8" r="0.45"/><circle cx="304.3" cy="465.4" r="0.45"/><circle cx="284.0" cy="466.4" r="0.45"/><circle cx="303.2" cy="474.1" r="0.45"/><circle cx="312.3" cy="471.7" r="0.45"/><circle cx="286.8" cy="472.7" r="0.45"/><circle cx="299.9" cy="462.2" r="0.45"/><circle cx="309.4" cy="471.8" r="0.45"/><circle cx="288.8" cy="483.4" r="0.45"/><circle cx="289.9" cy="470.0" r="0.45"/><circle cx="278.8" cy="471.5" r="0.45"/><circle cx="311.6" cy="478.2" r="0.45"/><circle cx="305.9" cy="461.9" r="0.45"/><circle cx="286.3" cy="485.9" r="0.45"/><circle cx="301.5" cy="462.7" r="0.45"/><circle cx="301.3" cy="461.5" r="0.45"/><circle cx="308.5" cy="473.6" r="0.45"/><circle cx="299.7" cy="466.1" r="0.45"/><circle cx="311.6" cy="475.9" r="0.45"/><circle cx="296.7" cy="471.0" r="0.45"/><circle cx="302.2" cy="483.3" r="0.45"/><circle cx="300.0" cy="467.6" r="0.45"/></g>
<path d="M290 483 C 291 479, 294 478, 296 479.5 C 297 476.5, 300 476, 301 478.5 C 303 475.5, 306 476, 306.5 479 C 309 478, 311 480, 310 483" fill="none" stroke="#6a70c0" stroke-width="0.6" />
<path d="M275.00 493.00 C275.33 491.50 276.33 489.42 278.00 488.00 C279.67 486.58 282.00 485.33 285.00 484.50 C288.00 483.67 292.17 483.25 296.00 483.00 C299.83 482.75 304.50 482.67 308.00 483.00 C311.50 483.33 315.08 484.00 317.00 485.00 C318.92 486.00 319.50 487.42 319.50 489.00 C319.50 490.58 318.92 492.83 317.00 494.50 C315.08 496.17 311.83 498.02 308.00 499.00 C304.17 499.98 298.50 500.30 294.00 500.40 C289.50 500.50 284.00 500.17 281.00 499.60 C278.00 499.03 277.00 498.10 276.00 497.00 C275.00 495.90 274.67 494.50 275.00 493.00 Z" fill="#9cc6ee" stroke="#5060b0" stroke-width="0.5" />
<path d="M277.92 492.88 C278.21 491.56 279.09 489.73 280.56 488.48 C282.02 487.23 284.08 486.13 286.72 485.40 C289.36 484.67 293.02 484.30 296.40 484.08 C299.77 483.86 303.88 483.79 306.96 484.08 C310.04 484.37 313.19 484.96 314.88 485.84 C316.56 486.72 317.08 487.97 317.08 489.36 C317.08 490.75 316.56 492.73 314.88 494.20 C313.19 495.67 310.33 497.29 306.96 498.16 C303.58 499.03 298.60 499.30 294.64 499.39 C290.68 499.48 285.84 499.19 283.20 498.69 C280.56 498.19 279.68 497.37 278.80 496.40 C277.92 495.43 277.62 494.20 277.92 492.88 Z" fill="#86d0e4" stroke="none" stroke-width="0" />
<path d="M281.32 492.74 C281.56 491.63 282.30 490.09 283.54 489.04 C284.77 487.99 286.50 487.07 288.72 486.45 C290.94 485.83 294.02 485.52 296.86 485.34 C299.69 485.15 303.15 485.09 305.74 485.34 C308.33 485.59 310.98 486.08 312.40 486.82 C313.82 487.56 314.25 488.61 314.25 489.78 C314.25 490.95 313.82 492.62 312.40 493.85 C310.98 495.08 308.57 496.45 305.74 497.18 C302.90 497.91 298.71 498.14 295.38 498.22 C292.05 498.29 287.98 498.04 285.76 497.62 C283.54 497.20 282.80 496.51 282.06 495.70 C281.32 494.89 281.07 493.85 281.32 492.74 Z" fill="#7cd0b0" stroke="none" stroke-width="0" />
<path d="M284.72 492.60 C284.92 491.70 285.52 490.45 286.52 489.60 C287.52 488.75 288.92 488.00 290.72 487.50 C292.52 487.00 295.02 486.75 297.32 486.60 C299.62 486.45 302.42 486.40 304.52 486.60 C306.62 486.80 308.77 487.20 309.92 487.80 C311.07 488.40 311.42 489.25 311.42 490.20 C311.42 491.15 311.07 492.50 309.92 493.50 C308.77 494.50 306.82 495.61 304.52 496.20 C302.22 496.79 298.82 496.98 296.12 497.04 C293.42 497.10 290.12 496.90 288.32 496.56 C286.52 496.22 285.92 495.66 285.32 495.00 C284.72 494.34 284.52 493.50 284.72 492.60 Z" fill="#86d070" stroke="none" stroke-width="0" />
<path d="M288.37 492.45 C288.51 491.77 288.97 490.84 289.72 490.20 C290.47 489.56 291.51 489.00 292.87 488.62 C294.22 488.25 296.09 488.06 297.81 487.95 C299.54 487.84 301.64 487.80 303.22 487.95 C304.79 488.10 306.40 488.40 307.26 488.85 C308.13 489.30 308.39 489.94 308.39 490.65 C308.39 491.36 308.13 492.38 307.26 493.12 C306.40 493.88 304.94 494.71 303.22 495.15 C301.49 495.59 298.94 495.73 296.92 495.78 C294.89 495.82 292.42 495.68 291.06 495.42 C289.71 495.17 289.26 494.75 288.81 494.25 C288.37 493.75 288.22 493.12 288.37 492.45 Z" fill="#c8e068" stroke="none" stroke-width="0" />
<path d="M291.52 492.32 C291.63 491.84 291.95 491.17 292.48 490.72 C293.02 490.27 293.76 489.87 294.72 489.60 C295.68 489.33 297.02 489.20 298.24 489.12 C299.47 489.04 300.96 489.01 302.08 489.12 C303.20 489.23 304.35 489.44 304.96 489.76 C305.58 490.08 305.76 490.53 305.76 491.04 C305.76 491.55 305.58 492.27 304.96 492.80 C304.35 493.33 303.31 493.93 302.08 494.24 C300.86 494.55 299.04 494.66 297.60 494.69 C296.16 494.72 294.40 494.61 293.44 494.43 C292.48 494.25 292.16 493.95 291.84 493.60 C291.52 493.25 291.42 492.80 291.52 492.32 Z" fill="#f2dc64" stroke="none" stroke-width="0" />
<path d="M294.44 492.20 C294.51 491.90 294.71 491.48 295.04 491.20 C295.37 490.92 295.84 490.67 296.44 490.50 C297.04 490.33 297.87 490.25 298.64 490.20 C299.41 490.15 300.34 490.13 301.04 490.20 C301.74 490.27 302.46 490.40 302.84 490.60 C303.22 490.80 303.34 491.08 303.34 491.40 C303.34 491.72 303.22 492.17 302.84 492.50 C302.46 492.83 301.81 493.20 301.04 493.40 C300.27 493.60 299.14 493.66 298.24 493.68 C297.34 493.70 296.24 493.63 295.64 493.52 C295.04 493.41 294.84 493.22 294.64 493.00 C294.44 492.78 294.37 492.50 294.44 492.20 Z" fill="#f2aa60" stroke="none" stroke-width="0" />
<path d="M296.87 492.10 C296.90 491.95 297.00 491.74 297.17 491.60 C297.34 491.46 297.57 491.33 297.87 491.25 C298.17 491.17 298.59 491.12 298.97 491.10 C299.35 491.08 299.82 491.07 300.17 491.10 C300.52 491.13 300.88 491.20 301.07 491.30 C301.26 491.40 301.32 491.54 301.32 491.70 C301.32 491.86 301.26 492.08 301.07 492.25 C300.88 492.42 300.55 492.60 300.17 492.70 C299.79 492.80 299.22 492.83 298.77 492.84 C298.32 492.85 297.77 492.82 297.47 492.76 C297.17 492.70 297.07 492.61 296.97 492.50 C296.87 492.39 296.84 492.25 296.87 492.10 Z" fill="#f08a6a" stroke="none" stroke-width="0" />
<path d="M277.43 492.90 C277.73 491.55 278.63 489.67 280.13 488.40 C281.63 487.12 283.73 486.00 286.43 485.25 C289.13 484.50 292.88 484.12 296.33 483.90 C299.78 483.67 303.98 483.60 307.13 483.90 C310.28 484.20 313.50 484.80 315.23 485.70 C316.96 486.60 317.48 487.88 317.48 489.30 C317.48 490.73 316.96 492.75 315.23 494.25 C313.50 495.75 310.58 497.42 307.13 498.30 C303.68 499.19 298.58 499.47 294.53 499.56 C290.48 499.65 285.53 499.35 282.83 498.84 C280.13 498.33 279.23 497.49 278.33 496.50 C277.43 495.51 277.13 494.25 277.43 492.90 Z" fill="none" stroke="#3a5aa8" stroke-width="0.4" />
<line x1="289.3" y1="439.0" x2="289.3" y2="503.0" stroke="#333" stroke-width="1.0" />
<line x1="272.5" y1="486.4" x2="337.5" y2="486.4" stroke="#333" stroke-width="1.0" />
<rect x="272.5" y="439.0" width="65" height="64.0" stroke="#555" stroke-width="0.9" fill="none" />
<text x="0" y="0" font-size="9.8" text-anchor="start" fill="#1a1a1a" color="#1a1a1a" stroke-width="0.12" transform="translate(275.3 451.2) scale(1 1.12)">2.71</text>
<text x="0" y="0" font-size="9.8" text-anchor="end" fill="#1a1a1a" color="#1a1a1a" stroke-width="0.12" transform="translate(334.2 451.2) scale(1 1.12)">6.70</text>
<text x="0" y="0" font-size="9.8" text-anchor="end" fill="#1a1a1a" color="#1a1a1a" stroke-width="0.12" transform="translate(336.0 499.7) scale(1 1.12)">57.86</text>
<line x1="21.3" y1="511" x2="21.3" y2="439.6" stroke="#111" stroke-width="1.5" />
<path d="M21.3 433.6 L 18.1 440.1 L 24.5 440.1 Z" fill="#111" stroke="none" stroke-width="0" />
<line x1="20.6" y1="510.6" x2="252.39999999999998" y2="510.6" stroke="#111" stroke-width="1.5" />
<path d="M258.4 510.6 L 251.89999999999998 507.40000000000003 L 251.89999999999998 513.8000000000001 Z" fill="#111" stroke="none" stroke-width="0" />
<text x="17.6" y="485" font-size="9.4" text-anchor="middle" fill="#1a1a1a" color="#1a1a1a" stroke-width="0.12" transform="rotate(-90 17.6 485)">IFNγ-PE</text>
<text x="0" y="0" font-size="9.4" text-anchor="start" fill="#1a1a1a" color="#1a1a1a" stroke-width="0.12" transform="translate(27.5 524.3) scale(1 1.12)">TNFα-APC</text>
<line x1="388.7" y1="323.3" x2="388.7" y2="395.2" stroke="#222" stroke-width="1.2" />
<line x1="388.2" y1="394.7" x2="483.5" y2="394.7" stroke="#222" stroke-width="1.2" />
<line x1="385.2" y1="394.7" x2="388.7" y2="394.7" stroke="#222" stroke-width="1" />
<text x="0" y="0" font-size="9.8" text-anchor="end" fill="#1a1a1a" color="#1a1a1a" stroke-width="0.12" transform="translate(384.5 398.2) scale(1 1.12)">0</text>
<line x1="385.2" y1="371.09999999999997" x2="388.7" y2="371.09999999999997" stroke="#222" stroke-width="1" />
<text x="0" y="0" font-size="9.8" text-anchor="end" fill="#1a1a1a" color="#1a1a1a" stroke-width="0.12" transform="translate(384.5 374.59999999999997) scale(1 1.12)">5</text>
<line x1="385.2" y1="347.5" x2="388.7" y2="347.5" stroke="#222" stroke-width="1" />
<text x="0" y="0" font-size="9.8" text-anchor="end" fill="#1a1a1a" color="#1a1a1a" stroke-width="0.12" transform="translate(384.5 351.0) scale(1 1.12)">10</text>
<line x1="385.2" y1="323.9" x2="388.7" y2="323.9" stroke="#222" stroke-width="1" />
<text x="0" y="0" font-size="9.8" text-anchor="end" fill="#1a1a1a" color="#1a1a1a" stroke-width="0.12" transform="translate(384.5 327.4) scale(1 1.12)">15</text>
<rect x="395.2" y="378.18" width="11.2" height="16.519999999999982" stroke="#1f8a4c" stroke-width="1.5" fill="white" />
<line x1="400.8" y1="378.18" x2="400.8" y2="372.51599999999996" stroke="#1f8a4c" stroke-width="1.0" />
<line x1="398.3" y1="372.51599999999996" x2="403.3" y2="372.51599999999996" stroke="#1f8a4c" stroke-width="1.0" />
<line x1="398.3" y1="383.844" x2="403.3" y2="383.844" stroke="#1f8a4c" stroke-width="1.0" />
<circle cx="398.0" cy="372.51599999999996" r="1.5" fill="#1f8a4c" />
<circle cx="400.8" cy="374.876" r="1.5" fill="#1f8a4c" />
<circle cx="403.6" cy="377.236" r="1.5" fill="#1f8a4c" />
<circle cx="398.56" cy="381.484" r="1.5" fill="#1f8a4c" />
<circle cx="400.8" cy="384.316" r="1.5" fill="#1f8a4c" />
<circle cx="403.04" cy="389.97999999999996" r="1.5" fill="#1f8a4c" />
<line x1="400.8" y1="394.7" x2="400.8" y2="397.2" stroke="#222" stroke-width="1" />
<rect x="418.79999999999995" y="366.852" width="11.2" height="27.848000000000013" stroke="#e5343f" stroke-width="1.5" fill="white" />
<line x1="424.4" y1="366.852" x2="424.4" y2="361.188" stroke="#e5343f" stroke-width="1.0" />
<line x1="421.9" y1="361.188" x2="426.9" y2="361.188" stroke="#e5343f" stroke-width="1.0" />
<line x1="421.9" y1="372.51599999999996" x2="426.9" y2="372.51599999999996" stroke="#e5343f" stroke-width="1.0" />
<circle cx="421.59999999999997" cy="358.356" r="1.5" fill="#e5343f" />
<circle cx="424.4" cy="363.548" r="1.5" fill="#e5343f" />
<circle cx="427.2" cy="365.908" r="1.5" fill="#e5343f" />
<circle cx="422.15999999999997" cy="368.268" r="1.5" fill="#e5343f" />
<circle cx="424.4" cy="371.572" r="1.5" fill="#e5343f" />
<circle cx="426.64" cy="370.156" r="1.5" fill="#e5343f" />
<line x1="424.4" y1="394.7" x2="424.4" y2="397.2" stroke="#222" stroke-width="1" />
<rect x="442.7" y="369.68399999999997" width="11.2" height="25.01600000000002" stroke="#1f8a4c" stroke-width="1.5" fill="white" />
<line x1="448.3" y1="369.68399999999997" x2="448.3" y2="362.132" stroke="#1f8a4c" stroke-width="1.0" />
<line x1="445.8" y1="362.132" x2="450.8" y2="362.132" stroke="#1f8a4c" stroke-width="1.0" />
<line x1="445.8" y1="377.236" x2="450.8" y2="377.236" stroke="#1f8a4c" stroke-width="1.0" />
<circle cx="445.5" cy="361.65999999999997" r="1.5" fill="#1f8a4c" />
<circle cx="448.3" cy="362.132" r="1.5" fill="#1f8a4c" />
<circle cx="451.1" cy="367.324" r="1.5" fill="#1f8a4c" />
<circle cx="446.06" cy="373.46" r="1.5" fill="#1f8a4c" />
<circle cx="448.3" cy="375.82" r="1.5" fill="#1f8a4c" />
<circle cx="450.54" cy="372.044" r="1.5" fill="#1f8a4c" />
<line x1="448.3" y1="394.7" x2="448.3" y2="397.2" stroke="#222" stroke-width="1" />
<rect x="466.2" y="356.94" width="11.2" height="37.75999999999999" stroke="#e5343f" stroke-width="1.5" fill="white" />
<line x1="471.8" y1="356.94" x2="471.8" y2="347.028" stroke="#e5343f" stroke-width="1.0" />
<line x1="469.3" y1="347.028" x2="474.3" y2="347.028" stroke="#e5343f" stroke-width="1.0" />
<line x1="469.3" y1="366.852" x2="474.3" y2="366.852" stroke="#e5343f" stroke-width="1.0" />
<circle cx="469.0" cy="344.196" r="1.5" fill="#e5343f" />
<circle cx="471.8" cy="351.276" r="1.5" fill="#e5343f" />
<circle cx="474.6" cy="355.524" r="1.5" fill="#e5343f" />
<circle cx="469.56" cy="359.772" r="1.5" fill="#e5343f" />
<circle cx="471.8" cy="365.436" r="1.5" fill="#e5343f" />
<circle cx="474.04" cy="365.908" r="1.5" fill="#e5343f" />
<line x1="471.8" y1="394.7" x2="471.8" y2="397.2" stroke="#222" stroke-width="1" />
<line x1="392.5" y1="400.9" x2="433" y2="400.9" stroke="#333" stroke-width="1.2" />
<line x1="439.2" y1="400.9" x2="479" y2="400.9" stroke="#333" stroke-width="1.2" />
<text x="0" y="0" font-size="10" text-anchor="middle" fill="#1a1a1a" color="#1a1a1a" stroke-width="0.12" transform="translate(412.6 414.8) scale(1 1.12)">CD4</text>
<text x="0" y="0" font-size="10" text-anchor="middle" fill="#1a1a1a" color="#1a1a1a" stroke-width="0.12" transform="translate(458.6 414.8) scale(1 1.12)">CD8</text>
<line x1="436.6" y1="320.6" x2="436.6" y2="394.7" stroke="#444" stroke-width="1.0" stroke-dasharray="3 1.5 1 1.5"/>
<text x="0" y="0" font-size="7.6" text-anchor="start" fill="#3a3a3a" color="#3a3a3a" stroke-width="0.12" transform="translate(395.4 327.4) scale(1 1.12)"><tspan font-style="italic">P</tspan> = 0.0085</text>
<line x1="402" y1="330.3" x2="426" y2="330.3" stroke="#3a3a3a" stroke-width="1.2" />
<text x="0" y="0" font-size="7.6" text-anchor="start" fill="#3a3a3a" color="#3a3a3a" stroke-width="0.12" transform="translate(441.2 327.4) scale(1 1.12)"><tspan font-style="italic">P</tspan> = 0.0288</text>
<line x1="447.3" y1="330.3" x2="471.4" y2="330.3" stroke="#3a3a3a" stroke-width="1.2" />
<text x="366.6" y="361.5" font-size="10" text-anchor="middle" fill="#1a1a1a" color="#1a1a1a" stroke-width="0.12" transform="rotate(-90 366.6 361.5)">%IL2</text>
<line x1="389.4" y1="434.5" x2="389.4" y2="506.5" stroke="#222" stroke-width="1.2" />
<line x1="388.9" y1="506.0" x2="483.5" y2="506.0" stroke="#222" stroke-width="1.2" />
<line x1="385.9" y1="506.0" x2="389.4" y2="506.0" stroke="#222" stroke-width="1" />
<text x="0" y="0" font-size="9.8" text-anchor="end" fill="#1a1a1a" color="#1a1a1a" stroke-width="0.12" transform="translate(385.2 509.5) scale(1 1.12)">0</text>
<line x1="385.9" y1="491.8" x2="389.4" y2="491.8" stroke="#222" stroke-width="1" />
<text x="0" y="0" font-size="9.8" text-anchor="end" fill="#1a1a1a" color="#1a1a1a" stroke-width="0.12" transform="translate(385.2 495.3) scale(1 1.12)">2</text>
<line x1="385.9" y1="477.6" x2="389.4" y2="477.6" stroke="#222" stroke-width="1" />
<text x="0" y="0" font-size="9.8" text-anchor="end" fill="#1a1a1a" color="#1a1a1a" stroke-width="0.12" transform="translate(385.2 481.1) scale(1 1.12)">4</text>
<line x1="385.9" y1="463.4" x2="389.4" y2="463.4" stroke="#222" stroke-width="1" />
<text x="0" y="0" font-size="9.8" text-anchor="end" fill="#1a1a1a" color="#1a1a1a" stroke-width="0.12" transform="translate(385.2 466.9) scale(1 1.12)">6</text>
<line x1="385.9" y1="449.2" x2="389.4" y2="449.2" stroke="#222" stroke-width="1" />
<text x="0" y="0" font-size="9.8" text-anchor="end" fill="#1a1a1a" color="#1a1a1a" stroke-width="0.12" transform="translate(385.2 452.7) scale(1 1.12)">8</text>
<line x1="385.9" y1="435.0" x2="389.4" y2="435.0" stroke="#222" stroke-width="1" />
<text x="0" y="0" font-size="9.8" text-anchor="end" fill="#1a1a1a" color="#1a1a1a" stroke-width="0.12" transform="translate(385.2 438.5) scale(1 1.12)">10</text>
<rect x="395.2" y="490.38" width="11.2" height="15.620000000000005" stroke="#1f8a4c" stroke-width="1.5" fill="white" />
<line x1="400.8" y1="490.38" x2="400.8" y2="485.41" stroke="#1f8a4c" stroke-width="1.0" />
<line x1="398.3" y1="485.41" x2="403.3" y2="485.41" stroke="#1f8a4c" stroke-width="1.0" />
<line x1="398.3" y1="495.35" x2="403.3" y2="495.35" stroke="#1f8a4c" stroke-width="1.0" />
<circle cx="398.0" cy="483.99" r="1.5" fill="#1f8a4c" />
<circle cx="400.8" cy="486.83" r="1.5" fill="#1f8a4c" />
<circle cx="403.6" cy="489.67" r="1.5" fill="#1f8a4c" />
<circle cx="398.56" cy="493.22" r="1.5" fill="#1f8a4c" />
<circle cx="400.8" cy="495.35" r="1.5" fill="#1f8a4c" />
<circle cx="403.04" cy="500.32" r="1.5" fill="#1f8a4c" />
<line x1="400.8" y1="506.0" x2="400.8" y2="508.5" stroke="#222" stroke-width="1" />
<rect x="418.79999999999995" y="489.67" width="11.2" height="16.329999999999984" stroke="#e5343f" stroke-width="1.5" fill="white" />
<line x1="424.4" y1="489.67" x2="424.4" y2="485.41" stroke="#e5343f" stroke-width="1.0" />
<line x1="421.9" y1="485.41" x2="426.9" y2="485.41" stroke="#e5343f" stroke-width="1.0" />
<line x1="421.9" y1="493.93" x2="426.9" y2="493.93" stroke="#e5343f" stroke-width="1.0" />
<circle cx="421.59999999999997" cy="484.7" r="1.5" fill="#e5343f" />
<circle cx="424.4" cy="486.12" r="1.5" fill="#e5343f" />
<circle cx="427.2" cy="488.96" r="1.5" fill="#e5343f" />
<circle cx="422.15999999999997" cy="491.09" r="1.5" fill="#e5343f" />
<circle cx="424.4" cy="495.35" r="1.5" fill="#e5343f" />
<circle cx="426.64" cy="487.54" r="1.5" fill="#e5343f" />
<line x1="424.4" y1="506.0" x2="424.4" y2="508.5" stroke="#222" stroke-width="1" />
<rect x="442.7" y="477.6" width="11.2" height="28.399999999999977" stroke="#1f8a4c" stroke-width="1.5" fill="white" />
<line x1="448.3" y1="477.6" x2="448.3" y2="472.63" stroke="#1f8a4c" stroke-width="1.0" />
<line x1="445.8" y1="472.63" x2="450.8" y2="472.63" stroke="#1f8a4c" stroke-width="1.0" />
<line x1="445.8" y1="482.57" x2="450.8" y2="482.57" stroke="#1f8a4c" stroke-width="1.0" />
<circle cx="445.5" cy="471.21" r="1.5" fill="#1f8a4c" />
<circle cx="448.3" cy="473.34000000000003" r="1.5" fill="#1f8a4c" />
<circle cx="451.1" cy="479.02" r="1.5" fill="#1f8a4c" />
<circle cx="446.06" cy="483.28" r="1.5" fill="#1f8a4c" />
<circle cx="448.3" cy="483.99" r="1.5" fill="#1f8a4c" />
<circle cx="450.54" cy="481.15" r="1.5" fill="#1f8a4c" />
<line x1="448.3" y1="506.0" x2="448.3" y2="508.5" stroke="#222" stroke-width="1" />
<rect x="466.2" y="464.11" width="11.2" height="41.889999999999986" stroke="#e5343f" stroke-width="1.5" fill="white" />
<line x1="471.8" y1="464.11" x2="471.8" y2="457.01" stroke="#e5343f" stroke-width="1.0" />
<line x1="469.3" y1="457.01" x2="474.3" y2="457.01" stroke="#e5343f" stroke-width="1.0" />
<line x1="469.3" y1="471.21" x2="474.3" y2="471.21" stroke="#e5343f" stroke-width="1.0" />
<circle cx="469.0" cy="454.88" r="1.5" fill="#e5343f" />
<circle cx="471.8" cy="457.01" r="1.5" fill="#e5343f" />
<circle cx="474.6" cy="460.56" r="1.5" fill="#e5343f" />
<circle cx="469.56" cy="464.11" r="1.5" fill="#e5343f" />
<circle cx="471.8" cy="470.5" r="1.5" fill="#e5343f" />
<circle cx="474.04" cy="474.76" r="1.5" fill="#e5343f" />
<line x1="471.8" y1="506.0" x2="471.8" y2="508.5" stroke="#222" stroke-width="1" />
<line x1="392.5" y1="511.6" x2="433" y2="511.6" stroke="#333" stroke-width="1.2" />
<line x1="439.2" y1="511.6" x2="479" y2="511.6" stroke="#333" stroke-width="1.2" />
<text x="0" y="0" font-size="10" text-anchor="middle" fill="#1a1a1a" color="#1a1a1a" stroke-width="0.12" transform="translate(412.6 524.6) scale(1 1.12)">CD4</text>
<text x="0" y="0" font-size="10" text-anchor="middle" fill="#1a1a1a" color="#1a1a1a" stroke-width="0.12" transform="translate(458.6 524.6) scale(1 1.12)">CD8</text>
<line x1="436.6" y1="429" x2="436.6" y2="506.0" stroke="#444" stroke-width="1.0" stroke-dasharray="3 1.5 1 1.5"/>
<text x="0" y="0" font-size="7.6" text-anchor="start" fill="#3a3a3a" color="#3a3a3a" stroke-width="0.12" transform="translate(394.2 442.8) scale(1 1.12)"><tspan font-style="italic">P</tspan> = 0.7013</text>
<line x1="399.4" y1="446" x2="424" y2="446" stroke="#3a3a3a" stroke-width="1.2" />
<text x="0" y="0" font-size="7.6" text-anchor="start" fill="#3a3a3a" color="#3a3a3a" stroke-width="0.12" transform="translate(439.8 442.8) scale(1 1.12)"><tspan font-style="italic">P</tspan> = 0.0086</text>
<line x1="445.6" y1="446" x2="470" y2="446" stroke="#3a3a3a" stroke-width="1.2" />
<text x="367.2" y="473" font-size="9.8" text-anchor="middle" fill="#1a1a1a" color="#1a1a1a" stroke-width="0.12" transform="rotate(-90 367.2 473)">%TNFα<tspan font-size="6" dy="-3.5">+</tspan><tspan dy="3.5">IFNγ</tspan><tspan font-size="6" dy="-3.5">+</tspan></text>
<circle cx="484.7" cy="332.6" r="1.4" fill="#2c4a38" />
<text x="0" y="0" font-size="5.9" text-anchor="start" fill="#333" color="#333" stroke-width="0.12" transform="translate(492.3 334.70000000000005) scale(1 1.12)">CD4 ISO</text>
<circle cx="484.7" cy="342.1" r="1.4" fill="#9a2440" />
<text x="0" y="0" font-size="5.9" text-anchor="start" fill="#333" color="#333" stroke-width="0.12" transform="translate(492.3 344.20000000000005) scale(1 1.12)">CD4 TIGIT</text>
<circle cx="484.7" cy="351.6" r="1.4" fill="#1a6a40" />
<text x="0" y="0" font-size="5.9" text-anchor="start" fill="#333" color="#333" stroke-width="0.12" transform="translate(492.3 353.70000000000005) scale(1 1.12)">CD8 ISO</text>
<circle cx="484.7" cy="361.0" r="1.4" fill="#982442" />
<text x="0" y="0" font-size="5.9" text-anchor="start" fill="#333" color="#333" stroke-width="0.12" transform="translate(492.3 363.1) scale(1 1.12)">CD8 TIGIT</text>
</svg></body></html>
